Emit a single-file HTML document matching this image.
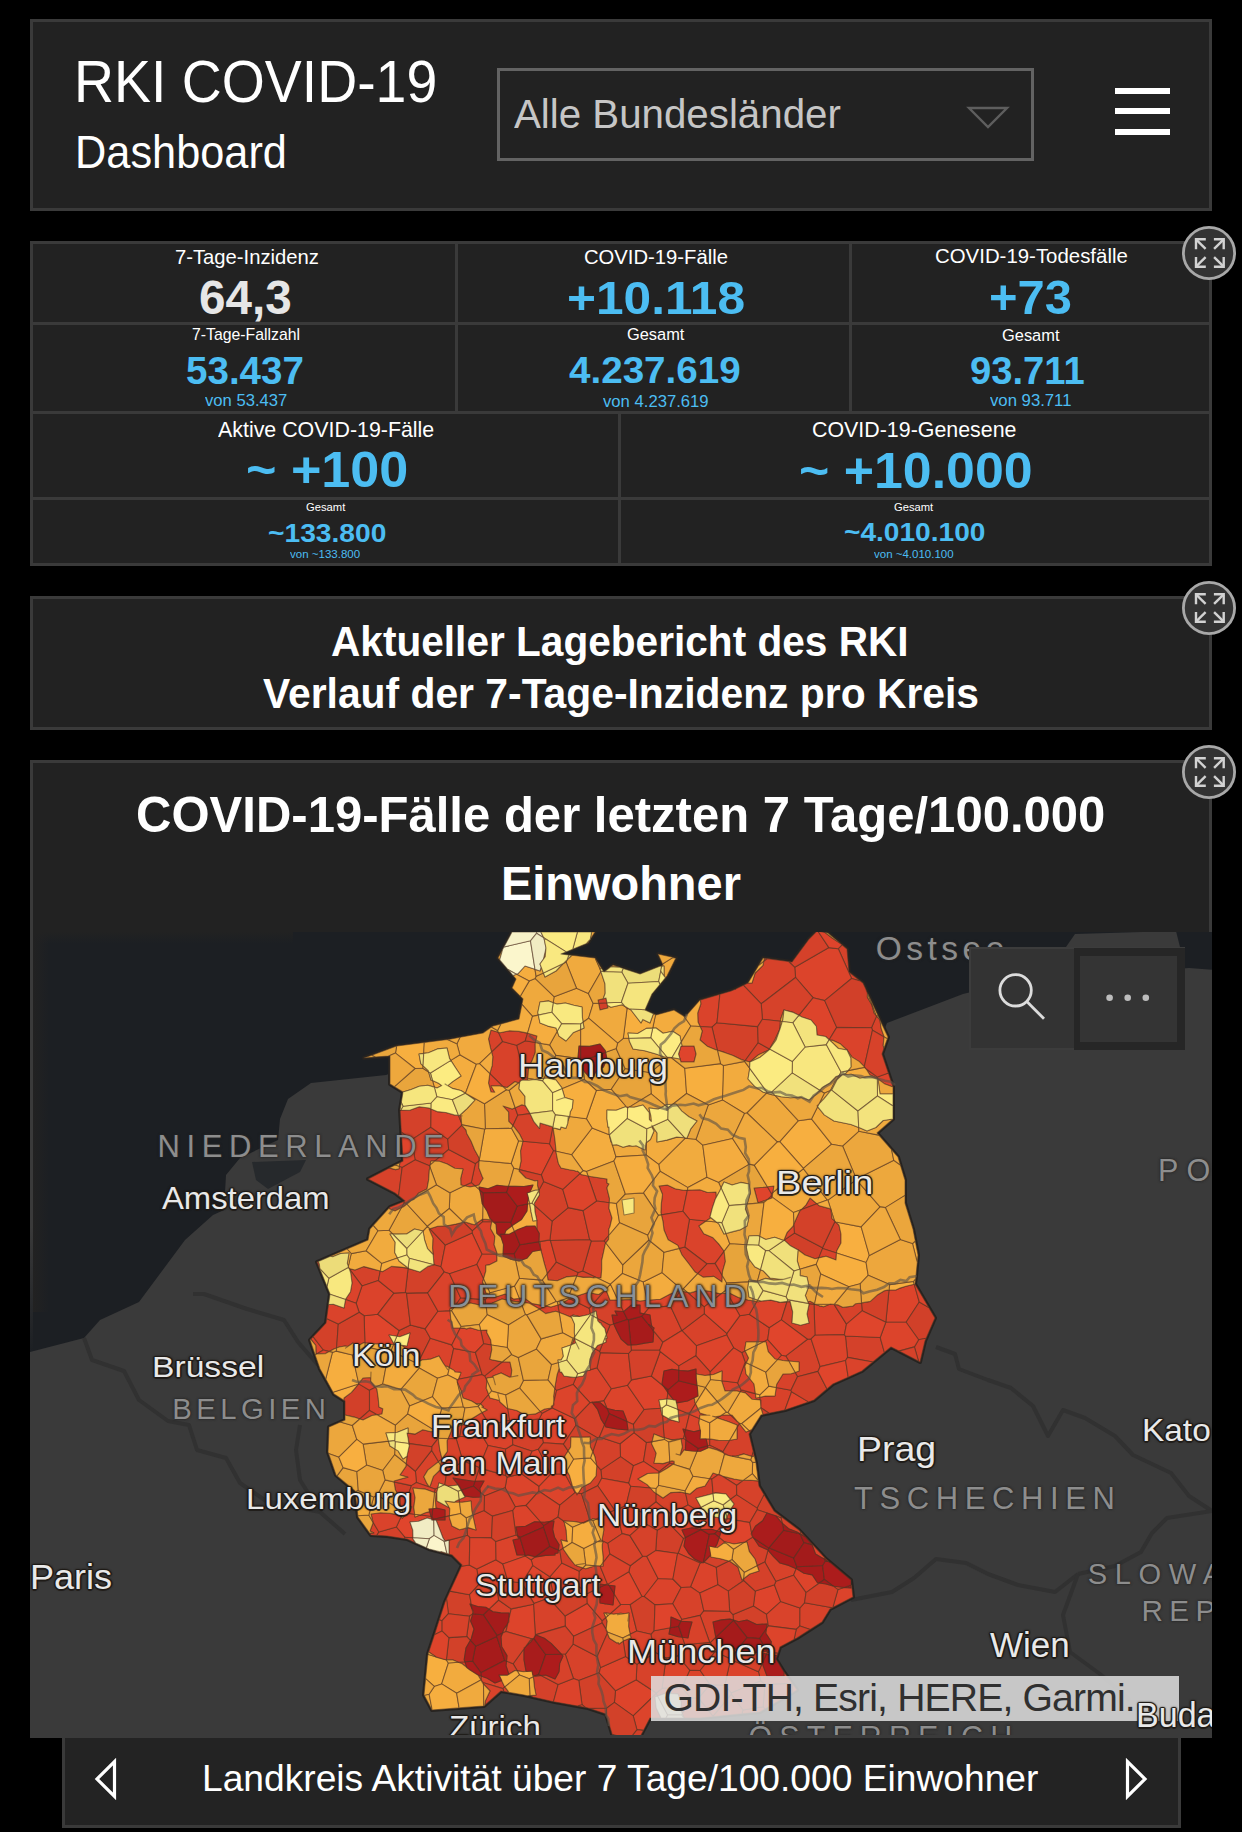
<!DOCTYPE html>
<html><head><meta charset="utf-8"><title>RKI COVID-19 Dashboard</title>
<style>
html,body{margin:0;padding:0;background:#000;}
body{width:1242px;height:1832px;position:relative;overflow:hidden;font-family:"Liberation Sans",sans-serif;}
.card{position:absolute;box-sizing:border-box;background:#222;border:3px solid #3a3a3a;}
.t{position:absolute;white-space:nowrap;line-height:1;transform-origin:0 0;}
.hl{position:absolute;background:#3a3a3a;}
.exp{position:absolute;width:54px;height:54px;}
.lbl{position:absolute;white-space:nowrap;line-height:1;transform-origin:0 0;}
</style></head><body>
<div class="card" style="left:30px;top:19px;width:1182px;height:192px"></div>
<div style="position:absolute;left:497px;top:68px;width:537px;height:93px;box-sizing:border-box;border:3px solid #636363"></div>
<svg style="position:absolute;left:966px;top:105px" width="44" height="26" viewBox="0 0 44 26"><path d="M3 3H41L22 22Z" fill="none" stroke="#5e5e5e" stroke-width="2.4" stroke-linejoin="miter"/></svg>
<div style="position:absolute;left:1115px;top:88px;width:55px;height:6px;background:#fff"></div>
<div style="position:absolute;left:1115px;top:108px;width:55px;height:6px;background:#fff"></div>
<div style="position:absolute;left:1115px;top:129px;width:55px;height:6px;background:#fff"></div>

<div class="card" style="left:30px;top:241px;width:1182px;height:325px"></div>
<div class="hl" style="left:33px;top:322px;width:1176px;height:3px"></div>
<div class="hl" style="left:33px;top:411px;width:1176px;height:3px"></div>
<div class="hl" style="left:33px;top:497px;width:1176px;height:3px"></div>
<div class="hl" style="left:455px;top:244px;width:3px;height:167px"></div>
<div class="hl" style="left:849px;top:244px;width:3px;height:167px"></div>
<div class="hl" style="left:618px;top:414px;width:3px;height:149px"></div>

<div class="card" style="left:30px;top:596px;width:1182px;height:134px"></div>
<div class="card" style="left:30px;top:760px;width:1182px;height:978px"></div>
<div id="map" style="position:absolute;left:30px;top:932px;width:1182px;height:805px;overflow:hidden"><svg width="1182" height="805" viewBox="30 932 1182 805" style="display:block">
<rect x="0" y="900" width="1300" height="900" fill="#3a3a3a"/>
<polygon points="30.0,925.0 1215.0,925.0 1215.0,970.0 1189.0,968.0 1100.0,975.0 1000.0,985.0 963.0,994.0 887.0,1023.0 880.0,1040.0 700.0,1040.0 500.0,1045.0 394.0,1072.0 386.0,1075.0 311.0,1083.0 288.0,1099.0 280.0,1119.0 278.0,1140.0 240.0,1158.0 226.0,1175.0 224.0,1210.0 213.0,1215.0 185.0,1240.0 162.0,1271.0 139.0,1302.0 100.0,1320.0 84.0,1338.0 30.0,1352.0" fill="#1c1f23"/>
<polygon points="1066.0,947.0 1075.0,934.0 1176.0,931.0 1180.0,947.0" fill="#3a3a3a"/>
<polygon points="252.0,1162.0 306.0,1160.0 300.0,1172.0 268.0,1189.0 256.0,1180.0" fill="#26292c"/>
<polyline points="84.0,1338.0 92.0,1360.0 124.0,1371.0 139.0,1400.0 168.0,1421.0 189.0,1425.0 197.0,1450.0 226.0,1458.0 240.0,1483.0 266.0,1501.0 320.0,1512.0 345.0,1534.0" fill="none" stroke="#313131" stroke-width="4" stroke-linejoin="round"/>
<polyline points="193.0,1294.0 204.0,1294.0 247.0,1309.0 284.0,1320.0 298.0,1342.0 318.0,1365.0" fill="none" stroke="#313131" stroke-width="4" stroke-linejoin="round"/>
<polyline points="300.0,1425.0 296.0,1450.0 300.0,1480.0 320.0,1512.0" fill="none" stroke="#313131" stroke-width="4" stroke-linejoin="round"/>
<polyline points="936.0,1347.0 955.0,1354.0 959.0,1369.0 988.0,1380.0 1011.0,1388.0 1033.0,1406.0 1048.0,1436.0 1063.0,1410.0 1085.0,1418.0 1115.0,1436.0 1133.0,1455.0 1171.0,1473.0 1189.0,1496.0 1212.0,1511.0" fill="none" stroke="#313131" stroke-width="4" stroke-linejoin="round"/>
<polyline points="1212.0,1511.0 1167.0,1518.0 1152.0,1533.0 1141.0,1552.0 1115.0,1566.0 1078.0,1574.0" fill="none" stroke="#313131" stroke-width="4" stroke-linejoin="round"/>
<polyline points="851.0,1600.0 892.0,1592.0 914.0,1578.0 936.0,1559.0 966.0,1563.0 988.0,1574.0 1018.0,1585.0 1055.0,1592.0 1078.0,1574.0" fill="none" stroke="#313131" stroke-width="4" stroke-linejoin="round"/>
<polyline points="1078.0,1574.0 1063.0,1615.0 1070.0,1652.0 1100.0,1674.0 1130.0,1700.0" fill="none" stroke="#313131" stroke-width="4" stroke-linejoin="round"/>
<polygon points="512.0,932.0 595.0,932.0 588.0,943.0 561.0,954.0 595.0,958.0 604.0,972.0 613.0,965.0 640.0,974.0 663.0,965.0 658.0,954.0 676.0,958.0 667.0,976.0 652.0,994.0 645.0,1010.0 656.0,1015.0 674.0,1010.0 685.0,1017.0 700.0,1000.0 731.0,991.0 748.0,983.0 763.0,958.0 792.0,962.0 809.0,939.0 817.0,931.0 828.0,933.0 847.0,949.0 849.0,972.0 863.0,983.0 880.0,1020.0 888.0,1037.0 882.0,1054.0 893.0,1087.0 893.0,1119.0 877.0,1133.0 898.0,1157.0 905.0,1180.0 905.0,1203.0 913.0,1229.0 918.0,1255.0 916.0,1276.0 915.0,1284.0 935.0,1318.0 925.0,1341.0 920.0,1362.0 891.0,1347.0 862.0,1371.0 833.0,1384.0 814.0,1400.0 785.0,1410.0 761.0,1415.0 749.0,1434.0 756.0,1463.0 759.0,1486.0 774.0,1511.0 799.0,1530.0 826.0,1559.0 851.0,1580.0 853.0,1597.0 830.0,1609.0 822.0,1622.0 797.0,1638.0 780.0,1647.0 776.0,1659.0 784.0,1672.0 797.0,1690.0 760.0,1712.0 700.0,1718.0 650.0,1718.0 640.0,1737.0 613.0,1737.0 606.0,1714.0 588.0,1708.0 555.0,1702.0 524.0,1695.0 501.0,1691.0 484.0,1706.0 432.0,1710.0 424.0,1695.0 428.0,1654.0 435.0,1633.0 445.0,1602.0 462.0,1565.0 452.0,1555.0 429.0,1549.0 407.0,1539.0 387.0,1536.0 371.0,1535.0 358.0,1517.0 355.0,1491.0 336.0,1475.0 328.0,1452.0 329.0,1427.0 345.0,1420.0 345.0,1401.0 334.0,1394.0 320.0,1369.0 310.0,1340.0 326.0,1323.0 330.0,1294.0 317.0,1262.0 368.0,1240.0 370.0,1229.0 390.0,1207.0 405.0,1201.0 395.0,1193.0 368.0,1179.0 403.0,1161.0 400.0,1110.0 403.0,1092.0 390.0,1084.0 390.0,1056.0 364.0,1058.0 397.0,1046.0 451.0,1039.0 483.0,1033.0 493.0,1026.0 519.0,1019.0 523.0,999.0 512.0,988.0 516.0,979.0 498.0,958.0" fill="#d9432b" stroke="#262320" stroke-width="4" stroke-linejoin="round"/>
<g stroke="#4a3424" stroke-width="1.1" stroke-linejoin="round" stroke-opacity="0.55">
<polygon points="573.1,1384.4 589.9,1402.7 592.3,1402.4 592.0,1402.0 594.0,1402.2 603.9,1400.9 611.4,1388.8 597.0,1367.8 590.0,1369.9 590.0,1370.0 589.5,1370.1 586.6,1370.9 583.0,1376.0 576.2,1377.0" fill="#da432b"/>
<polygon points="576.2,1377.0 583.0,1376.0 586.6,1370.9 577.6,1373.7" fill="#f9e880"/>
<polygon points="885.8,1322.3 906.1,1322.3 919.3,1302.0 914.2,1284.2 905.9,1286.3 900.1,1288.1 895.8,1290.0 889.0,1290.0 885.8,1322.3" fill="#dd442b"/>
<polygon points="913.5,1281.4 889.6,1284.6 889.0,1290.0 895.8,1290.0 900.1,1288.1 905.9,1286.3 914.2,1284.2" fill="#f7af3f"/>
<polygon points="611.4,1388.8 603.9,1400.9 607.0,1408.5 614.8,1410.2 623.0,1411.0 626.6,1420.2 626.8,1421.5 633.4,1424.4 644.2,1409.5 627.5,1385.2" fill="#dc442b"/>
<polygon points="609.2,1413.7 626.8,1421.5 626.6,1420.2 623.0,1411.0 614.8,1410.2 607.0,1408.5" fill="#ac1c1c"/>
<polygon points="399.1,1330.5 396.8,1336.2 399.8,1336.7 410.0,1333.0 407.0,1346.0 401.4,1345.1 410.5,1352.4 419.0,1361.0 430.4,1338.3 425.2,1328.9 410.4,1325.0" fill="#d14029"/>
<polygon points="390.8,1351.1 416.4,1363.2 418.4,1362.0 419.0,1361.0 410.5,1352.4 401.4,1345.1 395.6,1344.3 393.5,1344.4" fill="#efa93d"/>
<polygon points="393.8,1343.6 394.0,1344.0 407.0,1346.0 410.0,1333.0 399.8,1336.7 396.8,1336.2" fill="#fcec81"/>
<polygon points="717.9,1584.7 716.3,1567.3 703.9,1562.1 703.0,1563.0 701.9,1562.5 700.0,1563.1 690.5,1586.7 699.9,1593.1" fill="#db432b"/>
<polygon points="767.3,958.6 764.4,958.2 763.7,961.5" fill="#df442c"/>
<polygon points="763.7,961.5 764.4,958.2 763.0,958.0 758.3,965.9" fill="#e9a53c"/>
<polygon points="717.2,1417.8 718.9,1418.4 728.0,1421.6 737.0,1425.0 737.0,1427.9 739.4,1423.7 739.2,1423.4 737.5,1421.5 730.7,1415.0 724.0,1415.0 720.5,1415.7" fill="#d8422a"/>
<polygon points="709.6,1445.3 723.0,1451.8 729.8,1440.2 727.8,1440.5 718.5,1440.3 709.6,1438.9" fill="#d5412a"/>
<polygon points="726.2,1412.1 720.5,1415.7 724.0,1415.0 730.7,1415.0 727.9,1412.3" fill="#f0aa3e"/>
<polygon points="709.6,1422.7 709.6,1438.9 718.5,1440.3 727.8,1440.5 729.8,1440.2 737.0,1427.9 737.0,1425.0 728.0,1421.6 718.9,1418.4 717.2,1417.8" fill="#f1aa3e"/>
<polygon points="621.7,972.0 628.0,983.3 658.7,981.5 660.7,971.3 661.7,966.2 660.4,966.3 660.4,966.0 640.0,974.0 639.4,973.8 623.2,968.4" fill="#ecdd79"/>
<polygon points="430.9,1127.3 431.1,1108.9 429.0,1108.0 419.2,1106.8 409.7,1110.3 400.8,1110.0 400.1,1111.2 401.3,1132.2 411.8,1139.6" fill="#d4412a"/>
<polygon points="431.2,1103.0 403.0,1106.3 400.8,1110.0 409.7,1110.3 419.2,1106.8 429.0,1108.0 431.1,1108.9" fill="#f1e17c"/>
<polygon points="587.3,1603.3 565.0,1615.9 565.2,1626.1 573.6,1636.3 602.1,1622.9 602.2,1620.7" fill="#df442c"/>
<polygon points="620.0,1443.7 620.5,1456.6 633.5,1465.7 643.5,1461.4 646.5,1442.5 634.0,1432.6" fill="#dd442b"/>
<polygon points="633.5,1465.7 620.5,1456.6 600.8,1469.9 601.8,1478.2 628.8,1483.1" fill="#d34129"/>
<polygon points="586.5,1171.6 613.9,1160.9 616.0,1156.9 612.5,1145.0 612.0,1145.0 611.9,1142.9 611.6,1142.1 611.0,1142.0 609.4,1134.8 592.1,1128.0 571.6,1154.7 583.0,1170.6" fill="#f4ad3f"/>
<polygon points="609.5,1134.9 609.4,1134.8 611.0,1142.0 611.6,1142.1" fill="#eedf7a"/>
<polygon points="515.2,1107.7 512.2,1109.0 503.0,1106.0 508.6,1112.1 508.7,1121.3 512.9,1125.7 517.8,1115.2" fill="#da432b"/>
<polygon points="509.2,1090.3 506.3,1089.8 484.5,1103.8 485.3,1128.7 511.7,1128.4 512.9,1125.7 508.7,1121.3 508.6,1112.1 503.0,1106.0 512.2,1109.0 515.2,1107.7" fill="#e9a53c"/>
<polygon points="784.1,1240.1 790.4,1245.8 798.1,1249.9 805.0,1255.0 815.0,1258.8 818.8,1257.9 822.6,1248.4 822.5,1247.8 794.5,1233.0" fill="#d14029"/>
<polygon points="816.2,1264.4 818.8,1257.9 815.0,1258.8 805.0,1255.0 798.2,1250.0 797.9,1251.5 797.3,1261.0 799.8,1269.3" fill="#f6ae3f"/>
<polygon points="768.8,1250.6 793.9,1271.0 799.8,1269.3 797.3,1261.0 797.9,1251.5 798.2,1250.0 798.1,1249.9 790.4,1245.8 784.2,1240.2 784.0,1240.2" fill="#f0e07b"/>
<polygon points="822.5,1247.8 822.6,1248.4 836.5,1252.9 836.7,1251.1 841.0,1243.0 841.0,1234.0 839.0,1225.1 835.8,1222.0 834.8,1221.8" fill="#d4412a"/>
<polygon points="866.1,1262.6 869.3,1255.4 861.2,1226.9 835.8,1222.0 839.0,1225.1 841.0,1234.0 841.0,1243.0 836.7,1251.1 836.5,1252.9" fill="#f8af40"/>
<polygon points="912.5,1243.6 917.3,1262.5 918.0,1255.0 915.3,1241.0" fill="#f6ae3f"/>
<polygon points="352.4,1425.5 340.3,1422.0 329.0,1427.0 328.0,1452.0 328.5,1453.4 338.9,1457.2 356.8,1439.4" fill="#eca73d"/>
<polygon points="811.5,1118.9 798.3,1120.7 779.7,1141.6 803.4,1168.4 831.6,1144.2" fill="#f7af40"/>
<polygon points="824.3,1093.3 830.5,1090.6 834.8,1081.9 837.2,1079.6 839.3,1075.6 836.1,1076.5 830.0,1083.0 822.1,1087.6 819.6,1090.3" fill="#f0aa3e"/>
<polygon points="805.1,1047.0 792.4,1061.4 792.1,1072.9 819.6,1090.3 822.1,1087.6 830.0,1083.0 836.1,1076.5 839.3,1075.6 841.1,1072.0 826.3,1044.6" fill="#f8e77f"/>
<polygon points="831.8,1090.1 837.2,1079.6 834.8,1081.9 830.5,1090.6" fill="#efe07b"/>
<polygon points="648.5,1308.2 670.4,1305.9 680.3,1290.8 679.3,1290.6 669.7,1294.3 660.3,1299.3 650.0,1300.0 646.9,1300.3" fill="#df452c"/>
<polygon points="643.1,1281.9 646.9,1300.3 650.0,1300.0 660.3,1299.3 669.7,1294.3 679.3,1290.6 680.3,1290.8 681.4,1289.1 662.1,1272.6" fill="#f3ac3e"/>
<polygon points="420.1,1514.9 415.0,1517.0 414.7,1514.2 406.8,1513.1 406.2,1513.9 402.3,1518.2 401.2,1516.6 396.3,1527.0 404.9,1537.3 413.0,1537.8 412.8,1530.3 410.0,1522.0 418.7,1521.3 427.1,1518.0 431.7,1519.1 431.0,1516.3" fill="#e0452c"/>
<polygon points="414.7,1514.2 415.0,1517.0 420.1,1514.9" fill="#f6ae3f"/>
<polygon points="403.1,1512.6 401.2,1516.6 402.3,1518.2 406.2,1513.9 406.8,1513.1" fill="#eca73d"/>
<polygon points="429.3,1538.8 434.1,1535.4 433.8,1520.0 432.0,1520.0 431.7,1519.1 427.1,1518.0 418.7,1521.3 410.0,1522.0 412.8,1530.3 413.0,1537.8" fill="#f1ecc4"/>
<polygon points="431.0,1516.3 432.0,1520.0 433.8,1520.0 433.8,1519.2 431.8,1516.4" fill="#a41b1b"/>
<polygon points="363.1,1444.1 366.5,1465.1 382.7,1470.5 394.8,1454.5 395.1,1449.1 390.0,1446.0 388.5,1441.1" fill="#eaa53c"/>
<polygon points="394.7,1440.4 388.5,1441.1 390.0,1446.0 395.1,1449.1 395.4,1441.7" fill="#edde7a"/>
<polygon points="378.4,1280.5 380.3,1271.0 373.2,1269.1 363.9,1266.6 355.0,1270.0 349.2,1268.6 349.3,1268.9 362.0,1285.9" fill="#d5422a"/>
<polygon points="381.8,1263.4 366.2,1250.8 351.2,1253.6 348.3,1266.3 349.2,1268.6 355.0,1270.0 363.9,1266.6 373.2,1269.1 380.3,1271.0" fill="#f1ab3e"/>
<polygon points="447.8,1139.1 430.9,1127.3 411.8,1139.6 415.0,1159.7 429.4,1165.7 430.3,1164.9 431.0,1161.0 434.8,1161.1 448.7,1149.5" fill="#d14029"/>
<polygon points="434.8,1161.1 431.0,1161.0 430.3,1164.9" fill="#f2ac3e"/>
<polygon points="475.5,1646.2 472.5,1661.1 480.9,1672.7 504.7,1660.4 496.7,1636.4" fill="#a61b1b"/>
<polygon points="441.0,1266.7 445.3,1245.1 429.8,1228.7 429.0,1229.0 432.9,1238.1 432.5,1247.9 433.4,1257.4 433.9,1264.8" fill="#d6422a"/>
<polygon points="427.5,1226.3 427.4,1226.3 423.0,1231.0 423.0,1231.0 424.6,1240.0 427.5,1248.6 433.1,1254.5 432.5,1247.9 432.9,1238.1 429.0,1229.0 429.8,1228.7" fill="#f5ad3f"/>
<polygon points="406.8,1255.0 409.2,1258.3 433.9,1264.8 433.4,1257.4 433.1,1254.5 427.5,1248.6 424.6,1240.0 423.0,1231.0 423.0,1231.0 406.7,1248.5" fill="#f4e47d"/>
<polygon points="771.4,1193.5 771.1,1196.3 772.1,1197.1 773.0,1192.2" fill="#d6422a"/>
<polygon points="817.0,1203.8 810.0,1198.0 805.9,1205.1 801.0,1209.8" fill="#d8422a"/>
<polygon points="803.4,1168.7 773.0,1192.2 772.1,1197.1 793.5,1212.6 801.0,1209.8 805.9,1205.1 810.0,1198.0 817.0,1203.8 827.3,1200.0" fill="#f3ac3e"/>
<polygon points="369.5,1390.2 358.8,1383.9 358.4,1384.0 357.4,1385.3 351.4,1392.4 344.0,1398.0 343.8,1400.2 345.0,1401.0 345.0,1415.0 354.1,1417.1 359.8,1419.0 369.5,1410.4" fill="#d24029"/>
<polygon points="333.0,1392.2 334.0,1394.0 343.8,1400.2 344.0,1398.0 351.4,1392.4 357.4,1385.3 358.4,1384.0" fill="#f7af40"/>
<polygon points="352.4,1425.5 359.8,1419.0 354.1,1417.1 345.0,1415.0 345.0,1420.0 340.3,1422.0" fill="#e7a43b"/>
<polygon points="438.5,1438.3 439.0,1430.0 435.3,1430.8 438.4,1438.2" fill="#dc442b"/>
<polygon points="456.2,1438.8 459.9,1436.3 461.9,1424.9 455.0,1427.0 452.0,1426.8 451.0,1431.8 448.1,1438.6" fill="#de442c"/>
<polygon points="448.1,1438.6 451.0,1431.8 452.0,1426.8 455.0,1427.0 461.9,1424.9 465.0,1408.0 463.3,1406.7 441.8,1408.1 435.2,1430.6 435.3,1430.8 439.0,1430.0 438.5,1438.3" fill="#e7a43b"/>
<polygon points="520.7,1302.3 529.4,1303.3 537.7,1307.9 539.6,1309.2 546.3,1306.1 541.7,1305.2 532.3,1303.6 523.8,1297.7 519.2,1298.4" fill="#dd442b"/>
<polygon points="519.2,1298.4 523.8,1297.7 532.3,1303.6 541.7,1305.2 546.3,1306.1 556.3,1301.5 542.4,1280.1 519.3,1278.2 514.4,1286.1" fill="#eda83d"/>
<polygon points="525.4,1314.6 526.9,1315.1 539.6,1309.2 537.7,1307.9 529.4,1303.3 520.7,1302.3" fill="#f1aa3e"/>
<polygon points="926.2,1338.3 935.0,1318.0 928.8,1307.5 919.3,1302.0 906.1,1322.3 918.6,1339.7" fill="#d14029"/>
<polygon points="654.1,1630.7 650.8,1634.3 655.2,1652.6 666.0,1658.1 677.9,1656.0 685.0,1644.8 682.5,1637.3 678.3,1636.7 669.0,1634.0 670.2,1627.7" fill="#d24029"/>
<polygon points="670.2,1627.7 669.0,1634.0 678.3,1636.7 682.5,1637.3 678.7,1626.2" fill="#a41b1b"/>
<polygon points="423.1,1065.8 420.8,1063.7 419.0,1054.0 423.7,1053.4 424.3,1042.5 397.0,1046.0 396.6,1046.1 395.5,1053.1 415.0,1068.5 422.9,1068.3" fill="#f7af3f"/>
<polygon points="423.7,1053.4 419.0,1054.0 420.8,1063.7 423.1,1065.8" fill="#efe07b"/>
<polygon points="465.5,1093.3 476.4,1064.2 459.9,1054.8 450.8,1060.4 455.2,1067.2 461.0,1076.0 452.7,1081.6 447.8,1085.7 452.3,1088.4 460.8,1090.5 465.4,1093.3" fill="#f4ad3f"/>
<polygon points="434.3,1087.1 437.0,1088.0 441.8,1085.6 438.5,1083.2 432.5,1080.6" fill="#f7af3f"/>
<polygon points="465.4,1093.3 460.8,1090.5 452.3,1088.4 445.0,1084.0 447.8,1085.7 452.7,1081.6 461.0,1076.0 455.2,1067.2 450.8,1060.4 430.4,1073.0 432.5,1080.6 438.5,1083.2 441.8,1085.6 437.0,1088.0 434.3,1087.1 436.9,1096.8 452.4,1099.7" fill="#fcec81"/>
<polygon points="763.1,1706.8 764.8,1709.1 792.5,1692.7 792.8,1685.0 791.7,1683.2 764.8,1684.4" fill="#d6422a"/>
<polygon points="429.1,1694.2 424.2,1695.3 432.0,1710.0 432.2,1710.0" fill="#eda83d"/>
<polygon points="588.6,1018.2 593.2,1003.4 588.4,993.6 576.5,988.3 554.1,996.7 553.2,1002.7 556.8,1004.1 565.4,1003.0 573.7,1005.3 582.0,1007.0 582.4,1017.6 583.1,1022.2" fill="#f0aa3e"/>
<polygon points="580.7,1024.0 583.1,1022.2 582.4,1017.6 582.0,1007.0 573.7,1005.3 565.4,1003.0 556.8,1004.1 553.2,1002.7 551.8,1012.3 561.6,1023.6" fill="#f9e980"/>
<polygon points="434.5,1492.5 436.0,1493.0 435.4,1501.5 435.9,1508.4 437.1,1508.3 445.0,1510.0 445.0,1516.9 449.5,1515.9 449.8,1508.6 448.5,1506.6 448.0,1507.0 437.0,1501.0 436.9,1491.9 437.9,1487.7 434.9,1489.1" fill="#d34129"/>
<polygon points="459.3,1499.6 455.9,1501.0 454.5,1502.1 459.6,1502.2" fill="#dc442b"/>
<polygon points="432.7,1508.7 435.9,1508.4 435.4,1501.5 436.0,1493.0 434.5,1492.5" fill="#f4ad3f"/>
<polygon points="460.9,1513.5 459.6,1502.2 453.7,1502.1 445.0,1501.0 449.8,1508.6 449.5,1515.9" fill="#f6ae3f"/>
<polygon points="458.3,1491.3 448.6,1486.3 448.3,1486.3 444.0,1484.8 437.9,1487.7 436.9,1491.9 437.0,1501.0 448.0,1507.0 448.5,1506.6 445.0,1501.0 453.7,1502.1 454.5,1502.1 455.9,1501.0 459.3,1499.6" fill="#eddd79"/>
<polygon points="431.8,1516.4 433.8,1519.2 445.0,1516.9 445.0,1510.0 437.1,1508.3 432.7,1508.7" fill="#ad1c1c"/>
<polygon points="472.0,1608.6 470.0,1604.0 471.3,1604.4 469.6,1594.7 450.0,1591.1 446.5,1598.7 448.4,1613.7 469.5,1616.3 472.9,1613.7" fill="#d24129"/>
<polygon points="471.3,1604.4 470.0,1604.0 472.0,1608.6" fill="#a61b1b"/>
<polygon points="687.9,1187.6 707.0,1177.2 702.8,1145.2 696.0,1139.3 685.2,1138.2 658.7,1164.4 660.0,1171.2" fill="#f1ab3e"/>
<polygon points="877.3,1076.9 877.3,1078.6 878.0,1079.0 884.9,1084.1 893.0,1087.0 888.4,1073.1" fill="#df442c"/>
<polygon points="880.0,1094.0 893.0,1094.0 893.0,1087.0 884.9,1084.1 878.0,1079.0" fill="#eda83d"/>
<polygon points="877.5,1096.0 893.0,1106.0 893.0,1094.0 880.0,1094.0 878.0,1079.0 877.3,1078.8" fill="#fceb81"/>
<polygon points="566.1,962.1 576.5,988.3 588.4,993.6 600.9,971.7 600.0,969.0 600.1,969.0 595.6,959.0 595.0,958.0 571.9,955.3 571.0,956.0 567.0,959.9" fill="#f0aa3e"/>
<polygon points="567.0,959.9 571.0,956.0 571.9,955.3 568.8,954.9" fill="#f1e17c"/>
<polygon points="401.3,1207.8 403.6,1206.7 406.9,1204.0 406.1,1203.1 404.1,1202.7" fill="#d6422a"/>
<polygon points="389.0,1230.3 392.6,1234.0 398.3,1234.1 406.6,1234.0 414.5,1229.0 423.0,1231.0 427.4,1226.3 406.9,1204.0 403.6,1206.7 401.3,1207.8" fill="#eaa63c"/>
<polygon points="406.7,1248.5 423.0,1231.0 414.5,1229.0 406.6,1234.0 398.3,1234.1 392.6,1234.0" fill="#edde7a"/>
<polygon points="667.7,1058.0 671.8,1058.0 672.1,1057.5 672.0,1057.5 666.8,1057.0" fill="#eaa53c"/>
<polygon points="690.9,1026.0 684.0,1016.3 674.0,1010.0 656.0,1015.0 655.5,1014.8 652.7,1028.1 656.0,1028.0 663.1,1033.3 672.7,1031.2 680.0,1036.0 681.2,1042.1" fill="#f3ac3e"/>
<polygon points="666.8,1057.0 672.0,1057.5 672.1,1057.5 681.2,1042.1 680.0,1036.0 672.7,1031.2 663.1,1033.3 656.0,1028.0 652.7,1028.1 650.7,1037.6" fill="#fdec82"/>
<polygon points="525.6,1646.6 530.7,1642.2 533.7,1638.2 531.4,1638.7" fill="#d34129"/>
<polygon points="513.1,1663.7 517.3,1670.9 523.7,1671.8 526.9,1671.5 526.0,1671.0 524.0,1659.6 524.0,1648.8" fill="#d24029"/>
<polygon points="519.5,1674.9 529.2,1678.8 533.2,1676.9 532.0,1671.0 523.7,1671.8 517.3,1670.9" fill="#f8af40"/>
<polygon points="524.0,1648.8 524.0,1659.6 526.0,1671.0 526.9,1671.5 532.0,1671.0 532.8,1674.9 534.9,1676.1 538.8,1674.3 545.7,1654.5 533.7,1638.2 533.7,1638.2 530.7,1642.2 525.6,1646.6" fill="#a81c1c"/>
<polygon points="760.0,1397.2 756.0,1398.0 755.4,1393.6 741.2,1389.9 740.1,1391.7 745.4,1392.9 752.1,1399.3 760.3,1399.9" fill="#d7422a"/>
<polygon points="737.5,1421.5 732.0,1415.0 730.7,1415.0" fill="#d5412a"/>
<polygon points="761.0,1408.0 761.0,1406.8 760.3,1399.9 752.1,1399.3 745.4,1392.9 740.1,1391.7 727.9,1412.3 730.7,1415.0 732.0,1415.0 737.5,1421.5 739.6,1423.4 741.6,1423.7" fill="#f1ab3e"/>
<polygon points="759.8,1394.8 755.4,1393.6 756.0,1398.0 760.0,1397.2" fill="#f5ad3f"/>
<polygon points="763.1,1706.8 742.9,1710.0 741.9,1713.8 760.0,1712.0 764.8,1709.1" fill="#d8422a"/>
<polygon points="607.7,1543.4 622.2,1533.6 616.2,1510.3 614.4,1509.9 595.7,1519.3 603.0,1521.0 603.8,1530.0 602.2,1539.0 602.2,1540.8" fill="#d7422a"/>
<polygon points="602.2,1540.8 602.2,1539.0 603.8,1530.0 603.0,1521.0 595.7,1519.3 592.7,1520.8 600.6,1540.0" fill="#e8a43c"/>
<polygon points="332.4,1352.4 325.7,1379.1 333.0,1392.2 358.4,1384.0 358.7,1383.5 352.4,1355.0 336.4,1351.1" fill="#f6ae3f"/>
<polygon points="766.4,1654.1 771.3,1655.6 777.3,1655.2 778.0,1653.0 767.3,1652.1" fill="#d14029"/>
<polygon points="758.4,1671.7 760.7,1680.9 764.8,1684.4 791.7,1683.2 791.8,1682.8 784.0,1672.0 784.0,1672.0 784.0,1676.0 775.5,1676.8 767.0,1676.0 762.8,1664.9 762.8,1661.9" fill="#d8422a"/>
<polygon points="762.8,1661.9 762.8,1664.9 767.0,1676.0 775.5,1676.8 784.0,1676.0 784.0,1672.0 776.0,1659.0 777.3,1655.2 771.3,1655.6 766.4,1654.1" fill="#ab1c1c"/>
<polygon points="757.1,1507.9 757.2,1509.7 767.0,1513.0 767.0,1513.0 775.7,1515.8 776.0,1516.1 781.0,1517.9 781.8,1517.0 774.0,1511.0 764.0,1494.4" fill="#d34129"/>
<polygon points="521.6,1473.8 507.0,1477.1 505.1,1487.8 515.2,1506.7 526.1,1505.4 539.0,1491.2 539.0,1486.2" fill="#dc442b"/>
<polygon points="552.5,1591.5 578.9,1586.2 579.3,1571.2 561.8,1563.0 549.9,1576.7" fill="#df452c"/>
<polygon points="706.8,1263.8 715.2,1263.4 724.1,1251.4 724.0,1251.0 718.7,1243.8 712.6,1237.4 703.8,1233.7 699.0,1226.0 706.2,1221.0 689.4,1219.3 684.7,1247.0" fill="#da432b"/>
<polygon points="729.8,1243.8 726.0,1233.5 724.0,1234.0 718.9,1223.9 716.4,1222.0 706.2,1221.0 699.0,1226.0 703.8,1233.7 712.6,1237.4 718.7,1243.8 724.0,1251.0 724.1,1251.4" fill="#f4ad3f"/>
<polygon points="721.9,1222.6 716.4,1222.0 718.9,1223.9 724.0,1234.0 726.0,1233.5" fill="#eede7a"/>
<polygon points="664.1,1437.8 671.5,1439.9 681.0,1439.0 681.0,1439.0 683.6,1438.4 684.6,1434.2 683.0,1429.0 685.7,1429.7 689.5,1414.2 689.3,1413.9 677.7,1409.3 678.1,1410.9 679.0,1422.0 670.0,1419.6 662.5,1415.3" fill="#d8422a"/>
<polygon points="664.2,1439.4 668.8,1442.1 681.0,1439.0 681.0,1439.0 671.5,1439.9 664.1,1437.8" fill="#eaa53c"/>
<polygon points="662.5,1415.3 670.0,1419.6 679.0,1422.0 678.1,1410.9 677.7,1409.3 666.4,1404.8 662.0,1408.1" fill="#faea81"/>
<polygon points="685.7,1429.7 683.0,1429.0 684.6,1434.2" fill="#a51b1b"/>
<polygon points="769.0,1413.3 784.9,1410.0 791.6,1391.8 791.0,1390.2 776.2,1387.5 775.0,1396.0 765.4,1396.1 760.0,1397.2 760.3,1399.9 761.0,1400.0 761.0,1406.8 761.1,1407.9" fill="#d8422a"/>
<polygon points="768.8,1386.1 759.8,1394.8 760.0,1397.2 765.4,1396.1 775.0,1396.0 776.2,1387.5" fill="#f8af40"/>
<polygon points="592.1,1128.0 609.4,1134.8 609.2,1134.2 609.1,1130.2 609.0,1130.0 609.1,1130.0 609.0,1127.0 608.0,1127.3 607.1,1119.9 606.9,1118.9 607.0,1110.0 616.2,1110.2 624.9,1107.0 626.6,1107.0 611.3,1089.2 596.3,1090.5 586.4,1118.8" fill="#f5ae3f"/>
<polygon points="609.5,1134.9 615.8,1129.1 627.4,1118.4 627.6,1108.2 626.6,1107.0 624.9,1107.0 616.2,1110.2 607.0,1110.0 606.9,1118.9 607.1,1119.9 608.0,1127.3 609.0,1127.0 609.1,1130.0 609.0,1130.0 609.1,1130.2 609.2,1134.2 609.4,1134.8" fill="#fdec82"/>
<polygon points="726.7,1334.9 733.7,1347.9 741.8,1352.8 745.2,1351.1 744.7,1350.0 746.0,1342.0 756.0,1341.8 763.4,1342.0 767.7,1339.8 769.4,1327.7 749.3,1314.3 739.8,1315.7 726.8,1333.3" fill="#d8422a"/>
<polygon points="763.4,1342.0 756.0,1341.8 746.0,1342.0 744.7,1350.0 745.2,1351.1" fill="#efa93d"/>
<polygon points="689.8,1670.1 681.7,1687.7 691.1,1698.3 698.7,1698.1 710.1,1684.6 700.2,1670.5" fill="#dc442b"/>
<polygon points="505.6,1475.4 479.3,1467.9 474.9,1481.3 484.0,1481.0 479.9,1488.5 480.4,1492.4 484.4,1495.9 505.1,1487.8 507.0,1477.1" fill="#d8422a"/>
<polygon points="473.3,1486.2 480.4,1492.4 479.9,1488.5 484.0,1481.0 474.9,1481.3" fill="#a51b1b"/>
<polygon points="578.8,1680.6 599.2,1672.8 600.6,1667.4 597.2,1656.5 573.2,1644.0 565.3,1654.3 573.4,1678.5" fill="#d7422a"/>
<polygon points="427.7,1292.9 444.3,1271.9 441.0,1266.7 433.9,1264.8 433.9,1264.8 427.8,1266.4 420.0,1272.0 408.5,1268.4 408.2,1268.1 408.1,1268.1 405.3,1292.4 406.6,1293.4" fill="#d34129"/>
<polygon points="409.2,1258.3 408.1,1268.0 408.5,1268.4 420.0,1272.0 427.8,1266.4 433.9,1264.8 433.9,1264.8" fill="#f2e37c"/>
<polygon points="364.9,1343.0 372.4,1343.6 381.7,1344.2 390.8,1344.5 393.5,1344.4 393.8,1343.6 389.0,1335.0 396.8,1336.2 399.1,1330.5 377.8,1314.2 364.1,1315.8" fill="#e0452c"/>
<polygon points="365.0,1346.6 388.7,1352.2 390.8,1351.1 393.5,1344.4 390.8,1344.5 381.7,1344.2 372.4,1343.6 364.9,1343.0" fill="#f7af3f"/>
<polygon points="396.8,1336.2 389.0,1335.0 393.8,1343.6" fill="#f7e77f"/>
<polygon points="726.7,1334.9 726.8,1333.3 704.3,1313.6 681.9,1330.6 696.5,1345.8" fill="#d8422a"/>
<polygon points="498.6,1600.0 489.0,1609.2 492.9,1611.7 500.8,1612.9 509.0,1613.0 509.0,1618.7 511.2,1608.9" fill="#d6422a"/>
<polygon points="506.0,1631.5 507.9,1623.4 503.8,1629.1 502.4,1633.2" fill="#d24129"/>
<polygon points="483.2,1614.8 497.1,1635.6 502.4,1633.2 503.8,1629.1 507.9,1623.4 509.0,1618.7 509.0,1613.0 500.8,1612.9 492.9,1611.7 489.0,1609.2" fill="#a51b1b"/>
<polygon points="919.3,1302.0 928.8,1307.5 915.0,1284.0 914.2,1284.2" fill="#dd442b"/>
<polygon points="914.2,1284.2 915.0,1284.0 915.0,1283.1 915.1,1283.1 915.7,1278.6 913.5,1281.4" fill="#f6ae3f"/>
<polygon points="860.4,981.0 849.0,972.0 847.0,949.0 842.0,944.8 838.3,948.7 851.6,978.5" fill="#d6422a"/>
<polygon points="502.9,1564.0 495.8,1559.7 476.7,1569.0 479.5,1583.9 497.3,1593.2 507.8,1581.0" fill="#dd442b"/>
<polygon points="586.1,943.8 588.0,943.0 595.0,932.0 591.6,932.0 590.3,939.2" fill="#f4ad3f"/>
<polygon points="572.7,949.3 586.1,943.8 590.3,939.2 591.6,932.0 577.4,932.0" fill="#f8e87f"/>
<polygon points="842.7,1146.2 858.9,1131.3 858.7,1127.4 851.0,1124.5 842.5,1122.8 834.0,1121.0 824.3,1114.9 817.6,1106.7 811.5,1118.9 831.6,1144.2" fill="#f2ab3e"/>
<polygon points="824.3,1093.3 819.0,1103.9 823.9,1098.8 830.3,1091.1 830.5,1090.6" fill="#f4ad3f"/>
<polygon points="858.0,1111.0 831.8,1090.1 830.5,1090.6 830.3,1091.1 823.9,1098.8 819.0,1103.9 817.6,1106.7 824.3,1114.9 834.0,1121.0 842.5,1122.8 851.0,1124.5 858.7,1127.4" fill="#f2e27c"/>
<polygon points="704.2,1306.9 721.7,1293.5 719.3,1293.6 709.8,1291.2 700.0,1290.0 690.2,1292.9 687.1,1292.2" fill="#dc432b"/>
<polygon points="715.2,1263.4 706.8,1263.8 697.5,1273.6 703.3,1277.2 713.8,1276.4 722.0,1282.0 722.3,1275.5" fill="#d5412a"/>
<polygon points="687.1,1292.2 690.2,1292.9 700.0,1290.0 709.8,1291.2 719.3,1293.6 721.7,1293.5 725.7,1290.5 726.7,1283.0 722.3,1275.5 722.0,1282.0 713.8,1276.4 703.3,1277.2 697.5,1273.6 683.1,1288.8" fill="#efa93d"/>
<polygon points="711.9,1479.1 718.2,1474.7 713.0,1473.0 709.5,1478.7" fill="#dd442b"/>
<polygon points="723.0,1451.8 709.6,1445.3 707.5,1445.9 707.6,1448.1 708.8,1447.6 717.0,1450.0 723.8,1453.1" fill="#db432b"/>
<polygon points="692.8,1476.3 709.5,1478.7 713.0,1473.0 718.2,1474.7 719.1,1474.1 724.5,1454.5 723.8,1453.1 717.0,1450.0 708.8,1447.6 700.5,1451.3 697.0,1451.2 689.6,1469.4" fill="#eca73d"/>
<polygon points="698.2,1448.2 697.0,1451.2 700.5,1451.3 707.6,1448.1 707.5,1445.9" fill="#ad1c1c"/>
<polygon points="744.6,1113.5 747.0,1113.0 766.7,1093.1 763.0,1092.0 754.7,1086.4 748.0,1079.0 749.4,1070.5 749.6,1068.1 744.6,1061.4 723.4,1065.5 722.4,1099.9" fill="#f2ab3e"/>
<polygon points="767.3,1092.4 749.6,1068.1 749.4,1070.5 748.0,1079.0 754.7,1086.4 763.0,1092.0 766.7,1093.1" fill="#f6e67e"/>
<polygon points="584.3,1079.4 596.3,1090.5 611.3,1089.2 625.2,1068.8 616.2,1048.5 605.6,1052.3 607.0,1059.0 603.4,1067.0 595.6,1072.0 592.0,1080.0 583.4,1070.6" fill="#e7a43b"/>
<polygon points="583.4,1070.6 592.0,1080.0 595.6,1072.0 603.4,1067.0 607.0,1059.0 605.6,1052.3 582.5,1060.7" fill="#a81c1c"/>
<polygon points="482.8,1221.7 482.8,1219.0 482.7,1219.0 474.3,1224.8 464.7,1221.9 463.4,1222.2 472.3,1230.9" fill="#d5412a"/>
<polygon points="471.3,1182.4 464.3,1185.8 470.0,1187.0 475.2,1185.9" fill="#db432b"/>
<polygon points="483.1,1205.0 482.2,1203.7 480.9,1195.2 479.7,1189.8 475.2,1185.9 470.0,1187.0 464.3,1185.8 449.9,1192.8 449.3,1208.5 463.4,1222.2 464.7,1221.9 474.3,1224.8 482.7,1219.0 482.8,1219.0" fill="#efa93d"/>
<polygon points="483.3,1193.0 479.7,1189.8 480.9,1195.2 482.2,1203.7 483.1,1205.0" fill="#ab1c1c"/>
<polygon points="683.5,1538.3 678.1,1553.2 700.0,1563.1 701.9,1562.5 694.9,1559.3 688.7,1553.5 684.0,1546.0 685.5,1537.7 685.4,1537.4" fill="#db432b"/>
<polygon points="700.9,1529.6 685.4,1537.4 685.5,1537.7 684.0,1546.0 688.7,1553.5 694.9,1559.3 701.9,1562.5 703.6,1561.9 709.4,1534.4" fill="#ab1c1c"/>
<polygon points="871.7,1004.4 871.8,1004.6 871.9,1005.0 875.8,1015.0 876.8,1016.2 878.1,1015.8 867.5,992.8 867.5,993.5" fill="#eda83d"/>
<polygon points="377.8,1314.2 394.0,1293.1 378.4,1280.5 362.0,1285.9 356.1,1303.3 359.1,1312.2 364.1,1315.8" fill="#db432b"/>
<polygon points="554.8,1388.2 553.6,1396.6 553.7,1397.0 553.9,1402.1 556.6,1390.5" fill="#dc442b"/>
<polygon points="542.0,1413.6 552.5,1407.9 553.1,1405.4 551.4,1406.1 551.0,1408.0 544.9,1409.0 544.6,1409.1 540.1,1411.5" fill="#dd442b"/>
<polygon points="548.1,1379.8 523.4,1380.4 519.6,1388.1 540.1,1411.5 544.6,1409.1 544.9,1409.0 551.0,1408.0 551.4,1406.1 553.1,1405.4 553.9,1402.1 553.7,1397.0 553.6,1396.6 554.8,1388.2" fill="#eda83d"/>
<polygon points="753.4,1606.0 766.5,1614.4 780.7,1601.6 774.4,1584.8 755.3,1591.1" fill="#de442c"/>
<polygon points="696.0,1509.7 700.8,1529.4 701.6,1529.5 711.4,1529.3 717.3,1531.0 727.7,1518.8 727.0,1516.7 726.0,1519.0 715.0,1517.0 703.0,1511.0 701.0,1507.2" fill="#de442c"/>
<polygon points="713.8,1500.8 701.0,1507.2 703.0,1511.0 715.0,1517.0 726.0,1519.0 727.0,1516.7 723.1,1504.7" fill="#f8e87f"/>
<polygon points="700.9,1529.6 709.4,1534.4 714.8,1533.9 717.3,1531.0 711.4,1529.3 701.6,1529.5 700.8,1529.4" fill="#ad1c1c"/>
<polygon points="434.3,1686.4 441.7,1683.9 448.4,1663.0 446.3,1660.0 444.7,1659.5 444.4,1659.5 436.2,1657.1 435.7,1656.8 428.4,1654.5 427.9,1655.0 425.6,1678.6" fill="#f7af3f"/>
<polygon points="641.9,1596.4 644.1,1596.5 658.1,1578.5 646.7,1556.3 642.7,1556.2 630.2,1565.7 628.8,1571.8" fill="#d9432b"/>
<polygon points="502.9,1688.6 504.9,1686.9 504.0,1685.6 501.6,1680.6 495.0,1683.0 486.5,1677.9 481.0,1676.0 481.1,1680.0 483.5,1682.8" fill="#d9432b"/>
<polygon points="513.1,1663.7 506.5,1661.1 506.0,1665.7 508.8,1674.3 515.2,1670.6 517.3,1670.9" fill="#d34129"/>
<polygon points="519.5,1674.9 517.3,1670.9 515.2,1670.6 507.4,1675.1 499.0,1675.0 504.0,1685.6 504.9,1686.9" fill="#f5ae3f"/>
<polygon points="504.7,1660.4 480.9,1672.7 481.0,1676.0 486.5,1677.9 495.0,1683.0 501.6,1680.6 499.0,1675.0 507.4,1675.1 508.8,1674.3 506.0,1665.7 506.5,1661.1" fill="#ad1c1c"/>
<polygon points="830.7,1208.9 831.0,1209.0 831.1,1210.3 834.4,1220.6 835.8,1222.0 861.2,1226.9 880.1,1206.9 856.3,1179.7 827.9,1200.1" fill="#efa93d"/>
<polygon points="362.0,1285.9 349.3,1268.9 350.7,1273.0 352.0,1283.0 350.5,1291.7 345.5,1299.3 345.5,1299.6 356.1,1303.3" fill="#db432b"/>
<polygon points="348.1,1267.4 328.8,1278.3 327.0,1286.6 330.0,1294.0 330.0,1294.3 345.5,1299.6 345.5,1299.3 350.5,1291.7 352.0,1283.0 350.7,1273.0 349.3,1268.9" fill="#f8e87f"/>
<polygon points="813.0,997.7 824.7,1000.6 851.6,978.5 838.3,948.7 828.9,947.6 794.7,967.3 795.6,977.5" fill="#dc442b"/>
<polygon points="396.6,1046.1 371.7,1055.2 375.2,1057.1 388.8,1056.1 395.5,1053.1" fill="#eaa63c"/>
<polygon points="622.2,1533.6 629.9,1535.6 644.0,1522.9 642.4,1512.5 626.2,1504.9 616.2,1510.3" fill="#dd442b"/>
<polygon points="453.7,1348.4 451.8,1344.9 430.4,1338.3 419.0,1361.0 419.5,1361.5 422.0,1360.0 430.8,1359.1 439.0,1356.0 443.1,1363.0 445.6,1366.5 447.0,1366.3 449.4,1367.7" fill="#da432b"/>
<polygon points="447.8,1374.9 449.4,1367.7 447.0,1366.3 445.6,1366.5 447.7,1369.6 443.1,1363.0 439.0,1356.0 430.8,1359.1 422.0,1360.0 418.4,1362.0 417.6,1363.7 419.2,1367.9 437.5,1378.3" fill="#f2ab3e"/>
<polygon points="469.8,1537.5 491.6,1537.9 492.5,1516.1 484.0,1510.5 472.8,1515.1 473.9,1520.4 476.0,1530.0 468.2,1527.6 466.9,1527.9 467.4,1535.3" fill="#d7422a"/>
<polygon points="466.2,1517.8 466.9,1527.9 468.2,1527.6 476.0,1530.0 473.9,1520.4 472.8,1515.1" fill="#f2ab3e"/>
<polygon points="710.2,1371.9 733.7,1347.9 726.7,1334.9 696.5,1345.8 695.8,1355.8" fill="#dd442b"/>
<polygon points="482.8,1221.7 472.3,1230.9 472.0,1232.9 482.0,1254.3 496.9,1254.2 496.9,1252.7 494.1,1244.7 494.9,1236.3 490.5,1228.5 491.7,1221.8" fill="#db432b"/>
<polygon points="512.1,1225.7 505.9,1230.5 504.6,1234.1 509.3,1234.3 514.5,1231.4" fill="#f3ac3e"/>
<polygon points="491.7,1221.8 490.5,1228.5 494.9,1236.3 494.1,1244.7 496.9,1252.7 496.9,1254.2 503.1,1254.1 503.5,1244.7 501.1,1237.2 496.8,1233.3 496.1,1224.4 493.5,1221.9" fill="#e8a43b"/>
<polygon points="514.5,1231.4 509.3,1234.3 500.0,1234.0 503.5,1244.7 503.1,1254.1 514.2,1254.0 520.1,1244.7" fill="#a41b1b"/>
<polygon points="510.7,1222.2 493.5,1221.9 496.1,1224.4 496.8,1233.3 501.1,1237.2 500.0,1234.0 504.6,1234.1 505.9,1230.5 512.1,1225.7" fill="#a71b1b"/>
<polygon points="439.3,1619.6 435.0,1633.0 434.4,1634.8 442.1,1630.9 442.1,1620.7" fill="#db432b"/>
<polygon points="918.6,1361.3 920.0,1362.0 925.0,1341.0 926.2,1338.3 918.6,1339.7 914.4,1346.9" fill="#d4412a"/>
<polygon points="686.6,1093.5 684.8,1068.3 671.8,1058.0 667.7,1058.0 650.0,1072.8 651.2,1093.8 665.2,1105.4 666.9,1104.5 672.9,1104.2" fill="#f3ac3e"/>
<polygon points="672.9,1104.2 666.9,1104.5 665.2,1105.4 668.2,1107.8" fill="#f7e77f"/>
<polygon points="631.3,1350.3 659.8,1350.3 662.9,1342.2 653.3,1330.4 653.1,1331.0 653.7,1332.8 653.0,1342.0 644.7,1343.1 636.4,1344.8 630.8,1344.9" fill="#d24029"/>
<polygon points="628.4,1319.9 630.8,1344.9 636.4,1344.8 644.7,1343.1 653.0,1342.0 653.7,1332.8 653.1,1331.0 653.3,1330.4 648.6,1324.5 641.7,1316.2" fill="#a71b1b"/>
<polygon points="648.8,1240.0 622.7,1264.8 622.4,1273.5 643.1,1281.9 662.1,1272.6 664.0,1252.3" fill="#eba63c"/>
<polygon points="460.6,1297.7 453.4,1307.7 460.1,1305.2 470.4,1303.0 481.7,1305.5 485.9,1304.6 485.3,1299.6" fill="#d24029"/>
<polygon points="451.4,1310.6 461.1,1326.6 479.3,1324.5 487.3,1314.8 485.9,1304.6 481.7,1305.5 470.4,1303.0 460.1,1305.2 453.4,1307.7" fill="#e9a53c"/>
<polygon points="596.5,1201.0 609.3,1202.7 609.5,1198.5 607.1,1188.9 607.1,1187.3 609.0,1184.0 607.0,1182.9 607.0,1179.0 598.7,1177.7 590.5,1176.5 588.0,1176.0" fill="#d6422a"/>
<polygon points="588.0,1176.0 590.5,1176.5 598.7,1177.7 607.0,1179.0 607.0,1182.9 609.0,1184.0 607.1,1187.3 607.1,1188.9 609.5,1198.5 609.3,1202.7 616.4,1203.6 625.4,1194.0 613.9,1160.9 586.5,1171.6" fill="#eaa63c"/>
<polygon points="431.8,1446.7 438.4,1438.2 435.3,1430.8 431.1,1431.8 422.8,1429.7 415.2,1434.1 407.0,1433.0 409.3,1443.6" fill="#d4412a"/>
<polygon points="435.2,1430.6 407.7,1413.8 395.3,1425.2 395.0,1432.5 397.4,1432.3 408.0,1428.0 408.0,1433.1 415.2,1434.1 422.8,1429.7 431.1,1431.8 435.3,1430.8" fill="#e8a43b"/>
<polygon points="408.7,1443.5 408.1,1438.3 407.0,1433.0 408.0,1433.1 408.0,1428.0 397.4,1432.3 395.0,1432.5 394.7,1440.4 395.4,1441.7" fill="#f4e47d"/>
<polygon points="872.5,1030.2 884.1,1036.9 884.1,1036.6 881.2,1028.5 880.0,1020.0 876.8,1016.2 876.4,1016.4 871.5,1027.8" fill="#d7422a"/>
<polygon points="887.4,1038.8 888.0,1037.0 880.0,1020.0 881.2,1028.5 884.1,1036.6 884.1,1036.9" fill="#f1ab3e"/>
<polygon points="876.8,1016.2 880.0,1020.0 878.1,1015.8" fill="#f1ab3e"/>
<polygon points="794.7,967.3 828.9,947.6 818.0,931.2 817.0,931.0 809.0,939.0 792.0,962.0 788.6,961.5" fill="#d5412a"/>
<polygon points="771.1,1196.3 771.4,1193.5 767.4,1186.8 764.0,1187.2 754.0,1188.0 758.0,1203.0 767.4,1199.7" fill="#df442c"/>
<polygon points="764.0,1202.6 767.4,1199.7 758.0,1203.0 754.0,1188.0 764.0,1187.2 767.4,1186.8 754.3,1165.1 749.2,1164.1 718.5,1182.3 721.1,1188.1 724.0,1182.0 732.1,1185.1 740.7,1182.4 749.0,1184.0 750.3,1192.5 748.1,1200.8 747.0,1204.1" fill="#e7a43b"/>
<polygon points="747.0,1204.1 748.1,1200.8 750.3,1192.5 749.0,1184.0 740.7,1182.4 732.1,1185.1 724.0,1182.0 721.1,1188.1 729.0,1205.6" fill="#f3e37d"/>
<polygon points="538.3,1449.3 543.5,1442.7 539.1,1418.9 512.3,1422.3 512.6,1444.7 532.2,1451.3" fill="#d5412a"/>
<polygon points="373.0,1522.1 373.1,1522.7 370.0,1531.0 373.8,1532.9 369.6,1533.1 371.0,1535.0 376.9,1535.4 378.9,1532.0" fill="#d7422a"/>
<polygon points="368.8,1515.0 357.9,1515.8 358.0,1517.0 369.6,1533.1 373.8,1532.9 370.0,1531.0 373.1,1522.7 373.0,1522.1" fill="#e9a53c"/>
<polygon points="549.9,1239.9 539.3,1241.6 540.1,1243.2 540.0,1246.3 541.0,1250.0 540.8,1250.0 542.2,1255.2 544.3,1263.4 546.7,1271.6 547.1,1274.1 556.4,1262.1 550.5,1240.5" fill="#de442b"/>
<polygon points="538.9,1241.6 538.9,1242.0 540.0,1246.3 540.1,1243.2 539.3,1241.6" fill="#eda83d"/>
<polygon points="519.3,1278.2 542.4,1280.1 547.1,1274.1 546.7,1271.6 544.3,1263.4 542.2,1255.2 540.8,1250.0 532.6,1251.5 526.8,1258.3 519.0,1261.0 515.5,1260.3" fill="#e8a43b"/>
<polygon points="520.1,1244.7 514.2,1254.0 515.5,1260.3 519.0,1261.0 526.8,1258.3 532.6,1251.5 541.0,1250.0 538.9,1242.0 538.9,1241.6" fill="#a91c1c"/>
<polygon points="650.0,1072.8 667.7,1058.0 666.8,1057.0 663.8,1056.7 656.0,1054.0 644.7,1050.7 633.0,1049.0 629.4,1041.3 628.9,1038.2 623.3,1038.3 617.6,1043.1 616.2,1048.5 625.2,1068.8" fill="#e9a53c"/>
<polygon points="650.7,1037.6 628.9,1038.2 629.4,1041.3 633.0,1049.0 644.7,1050.7 656.0,1054.0 663.8,1056.7 666.8,1057.0" fill="#f5e57e"/>
<polygon points="885.3,1207.6 905.0,1195.4 905.0,1180.0 900.4,1165.0 893.8,1160.3 856.4,1179.1 856.3,1179.7 880.1,1206.9" fill="#eda83d"/>
<polygon points="818.8,1257.9 826.0,1256.3 836.0,1260.0 836.5,1252.9 822.6,1248.4" fill="#da432b"/>
<polygon points="816.2,1264.4 820.7,1274.1 848.8,1286.7 860.1,1283.8 868.2,1275.3 866.1,1262.6 836.5,1252.9 836.0,1260.0 826.0,1256.3 818.8,1257.9" fill="#f7af3f"/>
<polygon points="824.7,1000.6 813.0,997.7 798.8,1015.3 801.9,1016.9 811.0,1020.0 816.4,1026.5 817.0,1035.0 825.6,1036.5 829.2,1039.8 836.7,1027.4" fill="#dd442b"/>
<polygon points="792.8,1022.7 805.1,1047.0 826.3,1044.6 829.2,1039.8 825.6,1036.5 817.0,1035.0 816.4,1026.5 811.0,1020.0 801.9,1016.9 798.8,1015.3" fill="#f3e37d"/>
<polygon points="539.0,1491.2 559.8,1505.2 575.1,1492.6 565.0,1474.0 550.8,1473.9 539.0,1486.2" fill="#dd442b"/>
<polygon points="758.4,1671.7 730.5,1659.3 724.8,1685.2 731.2,1693.0 760.7,1680.9" fill="#db432b"/>
<polygon points="609.8,1554.1 630.2,1565.7 642.7,1556.2 629.9,1535.6 622.2,1533.6 607.7,1543.4" fill="#d7422a"/>
<polygon points="415.0,1068.5 394.4,1086.7 403.0,1092.0 411.2,1089.4 419.3,1086.3 427.8,1085.3 434.3,1087.1 432.5,1080.6 431.0,1080.0 428.7,1072.0 422.9,1068.3" fill="#e9a53c"/>
<polygon points="403.0,1106.3 431.2,1103.0 436.9,1096.8 434.3,1087.1 427.8,1085.3 419.3,1086.3 411.2,1089.4 403.0,1092.0 401.3,1102.4" fill="#f6e67e"/>
<polygon points="430.4,1073.0 428.7,1072.0 431.0,1080.0 432.5,1080.6" fill="#f6e67e"/>
<polygon points="609.8,1554.1 607.7,1543.4 602.2,1540.8 602.2,1541.9 603.0,1542.0 602.2,1544.4 602.2,1548.0 603.1,1557.0 603.0,1562.8" fill="#df452c"/>
<polygon points="597.6,1541.5 602.2,1541.9 602.2,1540.8 600.6,1540.0" fill="#f7af40"/>
<polygon points="583.6,1548.5 585.7,1565.0 595.2,1565.9 600.5,1566.0 603.0,1562.8 603.1,1557.0 602.2,1548.0 602.2,1544.4 603.0,1542.0 597.6,1541.5" fill="#f1ab3e"/>
<polygon points="485.3,1299.6 485.9,1304.6 492.0,1303.3 502.0,1299.0 511.0,1300.9 520.2,1302.2 520.7,1302.3 519.2,1298.4 513.8,1299.1 505.2,1293.9 494.8,1297.2 488.8,1294.3" fill="#d6422a"/>
<polygon points="489.8,1292.8 488.8,1294.3 494.8,1297.2 505.2,1293.9 513.8,1299.1 519.2,1298.4 514.4,1286.1" fill="#f6ae3f"/>
<polygon points="487.3,1314.8 508.5,1325.0 525.4,1314.6 520.7,1302.3 520.2,1302.2 511.0,1300.9 502.0,1299.0 492.0,1303.3 485.9,1304.6" fill="#e7a43b"/>
<polygon points="768.4,1625.9 766.5,1614.4 753.4,1606.0 733.0,1614.6 733.4,1620.1 738.6,1621.7 747.0,1620.0 756.5,1624.5 767.0,1624.0 766.4,1628.7" fill="#d34129"/>
<polygon points="747.1,1637.6 759.6,1638.6 766.4,1628.7 767.0,1624.0 756.5,1624.5 747.0,1620.0 738.6,1621.7 733.4,1620.1 733.4,1620.3" fill="#a81c1c"/>
<polygon points="481.0,1676.0 477.7,1674.8 478.0,1675.0 480.9,1680.1 481.1,1680.0" fill="#da432b"/>
<polygon points="458.3,1662.2 462.1,1663.8 466.8,1667.5 464.9,1661.7" fill="#d34129"/>
<polygon points="448.4,1663.0 441.7,1683.9 456.7,1693.3 480.9,1680.1 478.0,1675.0 469.8,1669.8 462.1,1663.8 458.3,1662.2" fill="#f2ab3e"/>
<polygon points="480.9,1672.7 472.5,1661.1 464.9,1661.7 466.8,1667.5 469.8,1669.8 477.7,1674.8 481.0,1676.0" fill="#ac1c1c"/>
<polygon points="764.8,1561.9 775.8,1581.5 793.6,1575.3 796.2,1568.7 788.7,1565.4 780.0,1563.0 773.6,1556.6 768.0,1550.2" fill="#d7422a"/>
<polygon points="793.7,1558.1 768.8,1547.8 768.6,1547.9 768.0,1550.2 773.6,1556.6 780.0,1563.0 788.7,1565.4 796.2,1568.7 796.9,1566.8" fill="#a71b1b"/>
<polygon points="752.4,1537.2 744.1,1542.4 747.0,1542.0 749.2,1551.4 755.0,1559.0 757.2,1565.7 764.8,1561.9 768.0,1550.2 767.6,1549.7 759.0,1546.0 753.7,1538.0" fill="#d4412a"/>
<polygon points="733.4,1549.2 731.9,1559.5 744.3,1572.4 757.2,1565.7 755.0,1559.0 749.2,1551.4 747.0,1542.0 744.1,1542.4" fill="#eca73d"/>
<polygon points="753.7,1538.0 759.0,1546.0 767.6,1549.7 768.0,1550.2 768.6,1547.9" fill="#ad1c1c"/>
<polygon points="761.2,1003.8 795.6,977.5 794.7,967.3 788.6,961.5 767.3,958.6 763.7,961.5 762.9,965.4 755.1,973.1 752.0,983.0 747.9,983.0 743.3,985.2" fill="#d7422a"/>
<polygon points="758.3,965.9 748.0,983.0 747.9,983.0 752.0,983.0 755.1,973.1 762.9,965.4 763.7,961.5" fill="#f7af40"/>
<polygon points="429.1,1694.2 432.2,1710.0 459.1,1707.9 456.7,1693.3 441.7,1683.9 434.3,1686.4" fill="#f6ae3f"/>
<polygon points="741.2,1389.9 737.6,1382.7 721.8,1380.8 721.8,1381.3 725.0,1391.0 737.0,1391.0 740.1,1391.7" fill="#da432b"/>
<polygon points="740.1,1391.7 737.0,1391.0 725.0,1391.0 721.8,1381.3 721.8,1380.8 710.5,1379.5 705.5,1387.2 705.5,1387.9 726.2,1412.1 727.9,1412.3" fill="#eba73c"/>
<polygon points="472.0,1232.9 445.3,1245.1 441.0,1266.7 444.3,1271.9 449.6,1273.8 476.8,1264.4 482.0,1254.3" fill="#e0452c"/>
<polygon points="532.5,1016.4 538.4,1015.1 537.8,1012.5 540.0,1002.0 548.7,1000.9 553.2,1002.7 554.1,996.7 535.1,978.4 529.1,981.1 520.3,996.3 523.0,999.0 521.9,1004.3" fill="#efa93d"/>
<polygon points="551.8,1012.3 553.2,1002.7 548.7,1000.9 540.0,1002.0 537.8,1012.5 538.4,1015.1" fill="#f3e37d"/>
<polygon points="406.6,1293.4 405.3,1292.4 394.0,1293.1 377.8,1314.2 399.1,1330.5 410.4,1325.0" fill="#d6422a"/>
<polygon points="553.6,1150.7 549.5,1143.7 522.9,1141.3 520.5,1150.8 521.0,1161.1 519.3,1169.6 541.3,1175.0" fill="#e0452c"/>
<polygon points="518.5,1140.8 511.1,1163.5 513.8,1168.3 519.3,1169.6 521.0,1161.1 520.5,1150.8 522.9,1141.3" fill="#efa93d"/>
<polygon points="404.9,1537.3 396.3,1527.0 378.9,1532.0 376.9,1535.4 379.0,1535.5 387.0,1536.0 404.8,1538.7" fill="#d5412a"/>
<polygon points="589.2,1308.2 569.8,1298.7 569.1,1298.9 560.4,1304.2 557.8,1305.0 559.1,1312.4 564.5,1314.4 571.6,1317.4 571.0,1316.0 573.5,1316.1 573.0,1315.0 579.2,1316.5 579.8,1316.5 588.1,1314.7 590.4,1313.7" fill="#d8422a"/>
<polygon points="568.1,1297.8 557.3,1301.8 557.8,1305.0 560.4,1304.2 569.1,1298.9 569.8,1298.7" fill="#e9a53c"/>
<polygon points="562.5,1332.8 572.9,1338.2 574.1,1338.0 574.7,1335.7 574.4,1332.6 574.5,1323.9 571.6,1317.4 564.5,1314.4 559.1,1312.4" fill="#f2ab3e"/>
<polygon points="590.4,1313.7 588.1,1314.7 579.8,1316.5 571.0,1316.0 574.5,1323.9 574.4,1332.6 574.8,1337.0 590.6,1314.7" fill="#f4e47d"/>
<polygon points="579.2,1316.5 573.0,1315.0 573.5,1316.1" fill="#f1e17c"/>
<polygon points="656.4,1693.5 656.4,1693.0 636.2,1679.7 615.5,1690.7 614.4,1702.4 633.2,1715.9" fill="#dd442b"/>
<polygon points="781.4,1319.9 787.0,1302.0 779.2,1302.3 777.0,1301.5 770.7,1300.1 761.0,1301.0 760.9,1301.0 758.3,1301.8 756.7,1301.5 749.3,1314.3 769.4,1327.7" fill="#dd442b"/>
<polygon points="787.2,1301.4 780.3,1302.3 777.0,1301.5 779.2,1302.3 787.0,1302.0" fill="#e7a43b"/>
<polygon points="756.7,1301.5 758.3,1301.8 760.9,1301.0 757.6,1299.9" fill="#f0aa3e"/>
<polygon points="787.8,1299.6 786.1,1296.7 763.1,1290.4 757.6,1299.9 761.0,1301.0 770.7,1300.1 780.3,1302.3 787.2,1301.4" fill="#f1e17c"/>
<polygon points="628.9,1038.2 628.0,1033.0 637.7,1033.5 646.4,1028.4 652.7,1028.1 655.5,1014.8 653.4,1013.8 650.0,1023.0 642.8,1019.4 641.0,1023.0 636.0,1016.5 631.0,1010.0 629.0,1008.8 627.0,1008.7 623.3,1038.3" fill="#f7af3f"/>
<polygon points="650.7,1037.6 652.7,1028.1 646.4,1028.4 637.7,1033.5 628.0,1033.0 628.9,1038.2" fill="#f9e980"/>
<polygon points="629.0,1008.8 631.0,1010.0 636.0,1016.5 641.0,1023.0 642.8,1019.4 650.0,1023.0 653.4,1013.8 645.0,1010.0 645.1,1009.8" fill="#f0e07b"/>
<polygon points="575.9,1492.8 572.3,1485.5 569.4,1475.2 566.8,1470.8 565.0,1474.0 575.1,1492.6" fill="#d5412a"/>
<polygon points="581.6,1493.8 597.7,1485.8 601.8,1478.2 600.8,1469.9 596.6,1465.0 596.8,1465.9 596.0,1476.0 590.3,1483.0 581.9,1487.3 578.2,1493.2" fill="#d34129"/>
<polygon points="578.2,1493.2 581.9,1487.3 590.3,1483.0 596.0,1476.0 596.8,1465.9 596.6,1465.0 590.5,1457.9 573.6,1459.0 566.8,1470.8 569.4,1475.2 572.3,1485.5 575.9,1492.8" fill="#f8af40"/>
<polygon points="820.2,1366.6 811.1,1338.9 807.4,1339.2 785.8,1355.9 788.7,1361.1 791.0,1361.3 799.0,1362.0 799.0,1371.0 795.1,1372.4 797.5,1376.8 818.0,1371.4" fill="#d5422a"/>
<polygon points="795.1,1372.4 799.0,1371.0 799.0,1362.0 791.0,1361.3 788.7,1361.1" fill="#f1ab3e"/>
<polygon points="777.2,1141.9 779.7,1141.6 798.3,1120.7 774.8,1095.2 772.0,1094.6 766.7,1093.1 747.0,1113.0" fill="#efa93d"/>
<polygon points="771.7,1091.9 767.3,1092.4 766.7,1093.1 772.0,1094.6 774.8,1095.2" fill="#f7e77f"/>
<polygon points="712.0,1027.2 717.0,1022.7 719.9,994.2 700.4,999.9 700.8,1004.0 697.7,1013.0 698.0,1022.0 700.1,1026.5" fill="#da432b"/>
<polygon points="690.9,1026.0 700.1,1026.5 698.0,1022.0 697.7,1013.0 700.8,1004.0 700.4,999.9 700.0,1000.0 685.0,1017.0 684.0,1016.3" fill="#f4ac3f"/>
<polygon points="343.1,1467.6 337.0,1475.9 355.0,1491.0 355.1,1491.9 358.3,1490.5 356.9,1471.5" fill="#e9a53c"/>
<polygon points="406.9,1204.0 411.0,1200.6 413.7,1199.6 415.3,1197.5 406.1,1203.1" fill="#dc442b"/>
<polygon points="427.4,1226.3 427.5,1226.3 449.3,1208.5 449.9,1192.8 436.4,1184.7 415.3,1197.5 413.7,1199.6 411.0,1200.6 406.9,1204.0" fill="#eca73d"/>
<polygon points="766.5,1614.4 768.4,1625.9 796.2,1629.4 799.9,1626.0 800.0,1607.9 780.7,1601.6" fill="#d9432b"/>
<polygon points="811.5,1118.9 817.6,1106.7 817.0,1106.0 819.0,1103.9 824.3,1093.3 819.6,1090.3 816.0,1094.3 809.0,1100.0 800.0,1097.1 790.4,1097.7 781.1,1096.7 774.8,1095.2 798.3,1120.7" fill="#eda83d"/>
<polygon points="792.1,1072.9 771.7,1091.9 774.8,1095.2 781.1,1096.7 790.4,1097.7 800.0,1097.1 809.0,1100.0 816.0,1094.3 819.6,1090.3" fill="#f1e17c"/>
<polygon points="556.0,1151.2 556.0,1150.0 554.8,1138.5 553.0,1127.0 552.8,1126.9 549.5,1143.7 553.6,1150.7" fill="#d9432b"/>
<polygon points="571.6,1154.7 592.1,1128.0 586.4,1118.8 569.5,1116.5 567.9,1120.8 567.7,1123.4 565.9,1128.4 561.0,1127.0 560.2,1129.6 556.8,1128.6 553.1,1127.9 554.8,1138.5 556.0,1150.0 556.0,1151.2" fill="#efa93d"/>
<polygon points="568.2,1116.3 567.9,1120.8 569.5,1116.5" fill="#f2e27c"/>
<polygon points="555.2,1114.6 552.8,1126.9 553.0,1127.0 553.1,1127.9 556.8,1128.6 560.2,1129.6 561.0,1127.0 565.9,1128.4 567.7,1123.4 568.2,1116.3" fill="#f9e880"/>
<polygon points="484.7,1375.9 486.8,1380.6 487.0,1378.0 493.3,1377.1 493.0,1376.0 501.1,1372.9 509.7,1377.3 511.0,1377.0 511.8,1370.3 510.0,1362.0 502.4,1361.7" fill="#da432b"/>
<polygon points="502.4,1361.7 510.0,1362.0 511.8,1370.3 511.0,1377.0 517.9,1375.6 509.7,1377.3 501.1,1372.9 493.0,1376.0 495.3,1384.7 493.3,1377.1 487.0,1378.0 486.8,1380.6 491.6,1391.1 505.8,1395.0 519.6,1388.1 523.4,1380.4 518.3,1357.4 511.5,1354.4" fill="#e8a43b"/>
<polygon points="583.1,1210.6 568.2,1207.6 552.1,1221.1 549.9,1239.9 550.5,1240.5 589.7,1239.7" fill="#d5412a"/>
<polygon points="662.9,1342.2 681.9,1330.5 670.4,1305.9 648.5,1308.2 643.8,1313.8 650.0,1315.0 651.2,1324.0 652.0,1326.7 654.0,1328.0 653.3,1330.4" fill="#d8422a"/>
<polygon points="648.6,1324.5 652.0,1326.7 651.2,1324.0 650.0,1315.0 643.8,1313.8 641.7,1316.2" fill="#ac1c1c"/>
<polygon points="653.3,1330.4 654.0,1328.0 648.6,1324.5" fill="#ac1c1c"/>
<polygon points="416.4,1482.5 434.9,1489.1 437.9,1487.7 439.0,1483.0 444.0,1484.8 444.9,1484.4 446.4,1474.3 440.6,1464.9 440.0,1470.0 433.4,1476.4 430.4,1485.3 429.4,1487.1 426.9,1483.4 423.8,1476.7 427.8,1470.1 434.9,1464.6 438.6,1461.7 431.6,1450.3 415.4,1471.2" fill="#d9432b"/>
<polygon points="438.6,1461.7 434.9,1464.6 427.8,1470.1 423.8,1476.7 426.9,1483.4 429.4,1487.1 430.4,1485.3 433.4,1476.4 440.0,1470.0 440.6,1464.9" fill="#e7a43b"/>
<polygon points="444.0,1484.8 439.0,1483.0 437.9,1487.7" fill="#f9e980"/>
<polygon points="498.4,1032.3 491.0,1030.0 488.5,1038.9 490.4,1047.7 491.6,1052.1 502.7,1041.5" fill="#d7422a"/>
<polygon points="497.6,1030.6 491.4,1027.1 483.0,1033.0 460.0,1037.3 456.9,1043.8 459.9,1054.8 476.4,1064.2 479.5,1063.7 491.6,1052.1 490.4,1047.7 488.5,1038.9 491.0,1030.0 498.4,1032.3" fill="#f1aa3e"/>
<polygon points="512.6,1510.5 515.9,1535.0 517.7,1536.1 516.0,1527.0 525.6,1526.2 534.6,1521.7 540.7,1522.0 526.1,1505.4 515.2,1506.7" fill="#dc432b"/>
<polygon points="520.0,1537.4 543.3,1527.2 543.8,1525.6 540.7,1522.0 534.6,1521.7 525.6,1526.2 516.0,1527.0 517.7,1536.1" fill="#a91c1c"/>
<polygon points="534.6,1205.4 535.0,1212.0 536.8,1220.2 536.8,1228.7 536.8,1229.3 539.2,1233.4 538.9,1240.9 539.3,1241.6 549.9,1239.9 552.1,1221.1" fill="#d8422a"/>
<polygon points="527.5,1203.9 527.0,1211.0 521.5,1219.5 513.0,1225.0 512.1,1225.7 514.5,1231.4 517.5,1229.8 525.9,1226.4 535.0,1226.0 536.8,1229.3 536.8,1228.7 536.8,1220.5 533.0,1221.0 531.0,1211.7 529.7,1203.5" fill="#f6ae3f"/>
<polygon points="531.9,1203.0 529.7,1203.5 531.0,1211.7 533.0,1221.0 536.8,1220.5 536.8,1220.2 535.0,1212.0 534.6,1205.4" fill="#f3e37c"/>
<polygon points="517.2,1206.0 510.7,1222.2 512.1,1225.7 513.0,1225.0 521.5,1219.5 527.0,1211.0 527.5,1203.9" fill="#a61b1b"/>
<polygon points="520.1,1244.7 538.9,1241.6 539.2,1233.4 535.0,1226.0 525.9,1226.4 517.5,1229.8 514.5,1231.4" fill="#ac1c1c"/>
<polygon points="409.6,1406.0 432.5,1396.8 437.5,1378.3 419.2,1367.9 400.7,1389.4" fill="#eaa63c"/>
<polygon points="856.4,1179.1 893.8,1160.3 891.6,1149.7 878.8,1135.1 858.9,1131.3 842.7,1146.2" fill="#eca73d"/>
<polygon points="313.1,1336.7 310.7,1339.2 315.8,1345.5 316.0,1354.0 316.7,1354.0 323.4,1350.0" fill="#de442b"/>
<polygon points="316.7,1354.0 316.0,1354.0 315.8,1345.5 310.7,1339.2 310.0,1340.0 315.1,1354.9" fill="#e8a43c"/>
<polygon points="627.5,1385.2 644.2,1409.5 660.6,1408.2 659.0,1400.0 667.1,1399.0 667.9,1392.5 663.2,1385.7 651.3,1376.0 631.4,1379.9" fill="#de442c"/>
<polygon points="662.0,1408.1 666.4,1404.8 667.1,1399.0 659.0,1400.0 660.6,1408.2" fill="#f8e87f"/>
<polygon points="668.2,1389.8 663.2,1385.7 667.9,1392.5" fill="#a71b1b"/>
<polygon points="702.8,1145.2 732.6,1138.5 744.6,1113.5 722.4,1099.9 708.2,1105.1 696.0,1139.3" fill="#eca73d"/>
<polygon points="446.9,1553.4 441.0,1551.6 440.1,1551.9 447.0,1553.7" fill="#dd442b"/>
<polygon points="434.1,1535.4 429.3,1538.8 426.3,1547.8 429.0,1549.0 440.1,1551.9 441.0,1551.6 446.9,1553.4 444.2,1541.3" fill="#fbf5cb"/>
<polygon points="562.8,1189.3 543.6,1181.5 538.7,1190.6 539.5,1194.5 539.0,1195.6 534.4,1203.0 534.6,1205.4 552.1,1221.1 568.2,1207.6" fill="#d34129"/>
<polygon points="531.9,1203.0 534.6,1205.4 534.4,1203.0 539.0,1195.6 539.5,1194.5 538.7,1190.6" fill="#f4e47d"/>
<polygon points="611.4,1388.8 627.5,1385.2 631.4,1379.9 628.5,1353.5 600.3,1352.6 597.0,1367.8" fill="#d9432b"/>
<polygon points="898.0,1255.0 885.0,1255.0 885.0,1268.7 889.0,1270.0 892.2,1270.0 898.0,1268.2" fill="#d8422a"/>
<polygon points="889.6,1284.6 913.5,1281.4 915.7,1278.6 916.0,1276.0 917.3,1262.5 912.5,1243.6 900.3,1239.4 869.3,1255.4 866.1,1262.6 868.2,1275.3" fill="#eda73d"/>
<polygon points="580.7,1029.4 573.5,1032.4 566.0,1041.0 559.0,1036.1 557.2,1031.3 549.5,1044.9 555.8,1055.4 578.2,1058.5 578.0,1057.8 579.0,1046.0 580.7,1046.1" fill="#eaa53c"/>
<polygon points="580.7,1024.0 561.6,1023.6 557.2,1031.3 559.0,1036.1 566.0,1041.0 573.5,1032.4 580.7,1029.4" fill="#f6e67e"/>
<polygon points="580.7,1046.1 579.0,1046.0 578.0,1057.8 578.2,1058.5 580.7,1058.8" fill="#ab1c1c"/>
<polygon points="525.3,1040.7 516.6,1045.3 524.8,1077.7 527.7,1078.2 528.0,1075.9 528.6,1067.6 532.4,1060.1 535.3,1052.3 535.2,1044.0 535.5,1042.5" fill="#d24029"/>
<polygon points="549.5,1044.9 535.5,1042.5 535.2,1044.0 535.3,1052.3 532.4,1060.1 528.6,1067.6 528.0,1075.9 527.7,1078.2 534.9,1079.5 538.0,1079.1 544.0,1078.4 555.8,1055.4" fill="#eba63c"/>
<polygon points="542.7,1080.9 544.0,1078.4 538.0,1079.1 534.9,1079.5" fill="#faea80"/>
<polygon points="666.0,1658.1 662.0,1688.4 681.7,1687.7 689.8,1670.1 677.9,1656.0" fill="#dd442b"/>
<polygon points="846.5,1324.1 834.1,1304.4 829.6,1304.3 823.6,1306.8 821.1,1306.1 820.3,1306.3 818.2,1305.2 814.4,1304.1 814.0,1304.4 815.0,1335.2 844.4,1334.6" fill="#db432b"/>
<polygon points="814.6,1304.0 814.4,1304.1 818.2,1305.2 820.3,1306.3 821.1,1306.1 823.6,1306.8 829.6,1304.3" fill="#e8a43b"/>
<polygon points="636.9,1729.6 643.5,1730.4 650.0,1718.0 661.0,1718.0 656.2,1708.0 655.0,1697.0 657.7,1696.1 656.4,1693.5 633.2,1715.9" fill="#dc442b"/>
<polygon points="667.7,1715.0 657.7,1696.1 655.0,1697.0 656.2,1708.0 661.0,1718.0 666.0,1718.0" fill="#fcf7cc"/>
<polygon points="548.9,1598.1 552.5,1591.5 549.9,1576.7 532.7,1565.4 521.8,1583.0 534.0,1603.6" fill="#e0452c"/>
<polygon points="750.3,1431.9 751.9,1429.4 749.0,1430.7" fill="#dc432b"/>
<polygon points="761.1,1407.9 761.0,1408.0 761.0,1408.3 763.0,1414.6 769.0,1413.3" fill="#d24029"/>
<polygon points="749.0,1430.7 751.9,1429.4 761.0,1415.0 763.0,1414.6 761.0,1408.3 761.0,1408.0 741.6,1423.7" fill="#f5ae3f"/>
<polygon points="872.9,1362.0 884.4,1352.4 880.2,1337.5 845.4,1336.0 847.6,1357.4" fill="#d4412a"/>
<polygon points="482.2,1374.6 475.4,1352.5 453.7,1348.4 449.4,1367.7 454.2,1370.6 455.0,1372.0 460.5,1372.4 460.9,1372.9 458.4,1379.2" fill="#db432b"/>
<polygon points="458.4,1379.2 460.9,1372.9 460.5,1372.4 455.0,1372.0 454.2,1370.6 449.4,1367.7 447.8,1374.9 456.7,1379.5" fill="#f7af3f"/>
<polygon points="832.8,1607.6 853.0,1597.0 851.6,1584.9 851.0,1585.1 851.0,1588.0 844.1,1587.4 837.9,1589.6" fill="#dc432b"/>
<polygon points="844.1,1587.4 851.0,1588.0 851.0,1585.1" fill="#a31b1b"/>
<polygon points="609.9,1325.2 613.8,1324.0 613.5,1323.3 612.0,1315.0 617.3,1315.4 615.0,1311.0 623.6,1311.5 618.0,1299.9 610.0,1300.0 605.9,1289.5 605.2,1289.9 589.2,1308.2 590.4,1313.7 596.0,1311.0 597.3,1318.4" fill="#d5422a"/>
<polygon points="610.5,1284.2 610.2,1284.3 605.2,1289.9 605.9,1289.5 610.0,1300.0 618.0,1299.9" fill="#f7ae3f"/>
<polygon points="597.3,1318.4 596.0,1311.0 590.4,1313.7 590.6,1314.7" fill="#eedf7a"/>
<polygon points="627.5,1319.6 623.6,1311.5 615.0,1311.0 617.3,1315.4 612.0,1315.0 613.5,1323.3 613.8,1324.0" fill="#a91c1c"/>
<polygon points="475.3,1163.6 471.3,1182.4 475.2,1185.9 479.0,1185.0 483.2,1178.3 482.3,1176.8 478.9,1168.0 479.1,1160.6" fill="#d7422a"/>
<polygon points="479.2,1160.5 479.1,1160.6 478.9,1168.0 482.3,1176.8 483.2,1178.3 479.0,1185.0 475.2,1185.9 479.7,1189.8 479.0,1187.0 488.1,1188.8 497.0,1185.3 506.0,1186.2 508.6,1186.3 513.8,1168.3 511.1,1163.5" fill="#eaa53c"/>
<polygon points="483.3,1193.0 506.8,1192.4 508.6,1186.3 506.0,1186.2 497.0,1185.3 488.1,1188.8 479.0,1187.0 479.7,1189.8" fill="#a91c1c"/>
<polygon points="606.6,1708.2 588.8,1708.3 606.0,1714.0 606.2,1714.7" fill="#d24029"/>
<polygon points="518.3,1357.4 523.4,1380.4 548.1,1379.8 551.6,1364.5 536.4,1348.9" fill="#e9a53c"/>
<polygon points="730.3,1499.3 734.0,1504.0 729.4,1511.2 727.0,1516.7 727.7,1518.8 749.8,1522.6 757.2,1509.7 757.1,1507.9 736.6,1494.6" fill="#d7422a"/>
<polygon points="723.1,1504.7 727.0,1516.7 729.4,1511.2 734.0,1504.0 730.3,1499.3" fill="#edde7a"/>
<polygon points="566.1,962.1 563.2,963.5 556.0,971.0 545.0,977.0 543.4,972.9 536.1,976.3 535.1,978.4 554.1,996.7 576.5,988.3" fill="#e8a43c"/>
<polygon points="543.4,972.9 545.0,977.0 556.0,971.0 563.2,963.5" fill="#f6e67e"/>
<polygon points="536.5,933.3 543.7,937.8 540.9,932.0 536.6,932.0" fill="#f8f3c9"/>
<polygon points="566.2,951.9 572.7,949.3 577.4,932.0 540.9,932.0 543.7,937.8" fill="#fbeb81"/>
<polygon points="532.2,1451.3 512.6,1444.7 505.5,1449.0 505.6,1475.4 507.0,1477.1 521.6,1473.8" fill="#d34129"/>
<polygon points="351.2,1253.6 366.2,1250.8 378.0,1230.7 373.3,1225.3 370.0,1229.0 368.0,1240.0 347.0,1249.0" fill="#eea93d"/>
<polygon points="508.5,1325.0 507.2,1347.5 511.5,1354.4 518.3,1357.4 536.4,1348.9 541.2,1338.9 526.9,1315.1 525.4,1314.6" fill="#eca73d"/>
<polygon points="378.9,1532.0 396.3,1527.0 401.2,1516.6 400.0,1515.0 390.4,1513.4 380.7,1512.7 371.0,1514.0 373.0,1522.1" fill="#da432b"/>
<polygon points="377.5,1495.1 373.7,1496.9 368.8,1515.0 373.0,1522.1 371.0,1514.0 380.7,1512.7 390.4,1513.4 400.0,1515.0 401.2,1516.6 403.1,1512.6 402.6,1511.0" fill="#efa93d"/>
<polygon points="722.4,1099.9 723.4,1065.5 720.5,1063.6 684.8,1068.3 686.6,1093.5 708.2,1105.1" fill="#f7af3f"/>
<polygon points="655.8,1501.8 670.9,1514.0 688.1,1505.0 685.6,1493.1 680.0,1492.0 670.6,1492.6 663.0,1498.0 655.9,1493.2" fill="#d7422a"/>
<polygon points="655.9,1493.2 663.0,1498.0 670.6,1492.6 680.0,1492.0 685.6,1493.1 685.1,1490.7 658.5,1485.3 655.9,1488.5" fill="#e8a43c"/>
<polygon points="684.8,1137.8 676.7,1137.1 666.9,1140.1 657.0,1142.0 657.1,1133.0 652.4,1126.2 652.0,1126.4 651.8,1126.9 654.0,1131.0 650.4,1139.5 646.4,1142.5 646.1,1155.0 658.7,1164.4 685.2,1138.2" fill="#f3ac3e"/>
<polygon points="667.9,1119.3 652.4,1126.2 657.1,1133.0 657.0,1142.0 666.9,1140.1 676.7,1137.1 684.8,1137.8" fill="#efdf7a"/>
<polygon points="646.7,1128.7 646.4,1142.5 650.4,1139.5 654.0,1131.0 651.8,1126.9 652.0,1126.4" fill="#f7e77f"/>
<polygon points="441.8,1408.1 463.3,1406.7 457.5,1382.7 457.2,1382.1 457.3,1381.9 456.7,1379.5 447.8,1374.9 437.5,1378.3 432.5,1396.8" fill="#f0aa3e"/>
<polygon points="727.7,1518.8 717.3,1531.0 721.0,1532.0 719.2,1537.5 725.0,1542.3 725.5,1542.0 734.0,1544.0 744.1,1542.4 752.4,1537.2 752.2,1535.7 751.0,1534.0 751.6,1532.9 749.8,1522.6" fill="#df442c"/>
<polygon points="733.4,1549.2 744.1,1542.4 734.0,1544.0 725.5,1542.0 725.0,1542.3" fill="#f0aa3e"/>
<polygon points="714.8,1533.9 719.2,1537.5 721.0,1532.0 717.3,1531.0" fill="#a91c1c"/>
<polygon points="425.2,1328.9 438.0,1311.3 427.7,1292.9 406.6,1293.4 410.4,1325.0" fill="#d5412a"/>
<polygon points="616.0,1156.9 646.1,1155.0 646.4,1142.5 646.0,1142.8 645.0,1150.0 636.1,1145.8 632.7,1146.2 629.2,1145.6 623.1,1147.2 616.8,1144.7 612.5,1145.0" fill="#f0aa3e"/>
<polygon points="627.4,1118.4 615.8,1129.1 609.5,1134.9 611.6,1142.1 611.8,1142.1 611.9,1142.9 612.5,1145.0 616.8,1144.7 623.1,1147.2 629.2,1145.6 632.7,1146.2 636.1,1145.8 645.0,1150.0 646.0,1142.8 646.4,1142.5 646.7,1128.7" fill="#f0e17b"/>
<polygon points="687.4,1190.1 683.3,1190.2 675.2,1188.7 667.3,1185.1 659.0,1186.0 662.5,1194.5 661.3,1203.6 660.9,1212.5 661.4,1214.9 683.0,1211.3" fill="#dc442b"/>
<polygon points="687.9,1187.6 660.0,1171.2 643.3,1192.9 658.4,1215.4 661.4,1214.9 660.9,1212.5 661.3,1203.6 662.5,1194.5 659.0,1186.0 667.3,1185.1 675.2,1188.7 683.3,1190.2 687.4,1190.1" fill="#f0aa3e"/>
<polygon points="717.0,1022.7 712.0,1027.2 717.4,1050.3 724.4,1052.4 732.9,1055.5 741.1,1059.6 745.1,1060.7 758.2,1042.7 757.7,1026.6" fill="#d34129"/>
<polygon points="720.5,1063.6 723.4,1065.5 744.6,1061.4 745.1,1060.7 741.1,1059.6 732.9,1055.5 724.4,1052.4 717.4,1050.3" fill="#eba63c"/>
<polygon points="582.6,1271.1 596.2,1277.6 601.0,1278.0 601.7,1269.3 601.7,1260.4 603.6,1251.9 605.3,1243.9 605.9,1243.0 604.2,1240.8 591.2,1241.0" fill="#d7422a"/>
<polygon points="610.2,1284.3 610.5,1284.2 622.4,1273.5 622.7,1264.8 605.9,1243.0 605.3,1243.9 603.6,1251.9 601.7,1260.4 601.7,1269.3 601.0,1278.0 596.2,1277.6" fill="#f3ac3f"/>
<polygon points="709.5,1478.7 705.0,1486.0 696.6,1488.3 690.0,1494.0 685.6,1493.1 688.1,1505.0 696.0,1509.7 701.0,1507.2 696.0,1498.0 705.8,1495.5 713.1,1493.6 711.9,1479.1" fill="#d4412a"/>
<polygon points="692.8,1476.3 685.1,1490.7 685.6,1493.1 690.0,1494.0 696.6,1488.3 705.0,1486.0 709.5,1478.7" fill="#f3ac3e"/>
<polygon points="713.8,1500.8 713.1,1493.6 705.8,1495.5 696.0,1498.0 701.0,1507.2" fill="#f7e77f"/>
<polygon points="804.0,1542.7 800.1,1533.8 799.9,1533.7 783.6,1530.2 768.8,1547.8 793.7,1558.1" fill="#a31b1b"/>
<polygon points="612.1,1734.2 613.0,1737.0 622.1,1737.0" fill="#db432b"/>
<polygon points="556.4,1262.1 547.1,1274.1 548.0,1280.0 557.3,1280.8 566.3,1276.9 575.5,1276.1 576.2,1276.1 576.8,1276.2 578.2,1272.6" fill="#d24129"/>
<polygon points="542.4,1280.1 556.3,1301.5 557.3,1301.8 568.1,1297.8 576.8,1276.2 576.2,1276.1 575.5,1276.1 566.3,1276.9 557.3,1280.8 548.0,1280.0 547.1,1274.1" fill="#e9a53c"/>
<polygon points="661.7,966.2 664.0,966.0 664.1,975.5 664.0,975.8 665.5,977.8 667.0,976.0 675.8,958.3 672.7,957.6 662.5,964.0 663.0,965.0 661.8,965.5" fill="#f1ab3e"/>
<polygon points="660.7,971.3 664.0,975.8 664.1,975.5 664.0,966.0 661.7,966.2" fill="#f0e07b"/>
<polygon points="658.7,981.5 659.9,984.5 665.5,977.8 660.7,971.3" fill="#fbeb81"/>
<polygon points="715.1,1651.7 730.4,1659.0 737.5,1649.9 732.5,1647.7 724.3,1646.5 717.0,1643.0 715.8,1637.2 710.2,1642.6" fill="#d8422a"/>
<polygon points="747.1,1637.6 733.4,1620.3 715.8,1637.2 717.0,1643.0 724.3,1646.5 732.5,1647.7 737.5,1649.9" fill="#a51b1b"/>
<polygon points="358.8,1383.9 369.5,1390.2 375.5,1387.3 370.7,1381.3 370.8,1377.5 363.0,1378.0 358.7,1383.5" fill="#dd442b"/>
<polygon points="358.7,1383.5 363.0,1378.0 370.8,1377.5 371.0,1372.0 370.7,1381.3 375.5,1387.3 382.8,1383.9 388.7,1352.2 365.0,1346.6 352.4,1355.0" fill="#e8a43b"/>
<polygon points="434.8,1161.1 439.4,1161.3 447.2,1164.1 454.7,1168.3 463.0,1169.0 460.7,1178.3 460.9,1184.9 461.0,1185.0 464.3,1185.8 471.3,1182.4 475.3,1163.6 448.7,1149.5" fill="#dc442b"/>
<polygon points="430.3,1164.9 429.9,1167.0 436.4,1184.7 449.9,1192.8 464.3,1185.8 461.0,1185.0 460.9,1184.9 460.7,1178.3 463.0,1169.0 454.7,1168.3 447.2,1164.1 439.4,1161.3 434.8,1161.1" fill="#e8a43c"/>
<polygon points="483.6,1343.8 491.3,1345.0 490.7,1339.9 486.8,1332.5 487.0,1330.0 480.6,1330.2" fill="#d34129"/>
<polygon points="479.3,1324.5 480.6,1330.2 487.0,1330.0 486.8,1332.5 490.7,1339.9 491.3,1345.0 507.2,1347.5 508.5,1325.0 487.3,1314.8" fill="#f7af3f"/>
<polygon points="731.2,1693.0 731.2,1694.2 742.9,1710.0 763.1,1706.8 764.8,1684.4 760.7,1680.9" fill="#db432b"/>
<polygon points="716.3,1567.3 717.9,1584.7 728.3,1591.1 743.8,1580.5 743.9,1578.5 742.0,1580.0 738.0,1567.0 729.9,1561.3 728.8,1561.0" fill="#d4412a"/>
<polygon points="731.9,1559.5 728.8,1561.0 729.9,1561.3 738.0,1567.0 742.0,1580.0 743.9,1578.5 744.3,1572.4" fill="#e9a53c"/>
<polygon points="550.8,1473.9 538.3,1449.3 532.2,1451.3 521.6,1473.8 539.0,1486.2" fill="#e0452c"/>
<polygon points="488.1,1445.5 483.7,1438.1 459.9,1436.3 456.2,1438.8 462.7,1460.7 479.1,1467.6" fill="#db432b"/>
<polygon points="574.1,1338.0 573.0,1342.0 571.5,1344.7 573.2,1344.1 576.0,1342.8 575.2,1341.2 574.9,1338.4 574.1,1338.0" fill="#dd442b"/>
<polygon points="597.0,1367.8 600.3,1352.6 599.6,1351.2 595.1,1348.8 592.0,1353.0 589.9,1360.0 590.0,1360.0 589.6,1362.1 590.0,1369.9" fill="#d34129"/>
<polygon points="572.9,1338.2 570.9,1344.9 571.5,1344.7 573.0,1342.0 574.1,1338.0" fill="#f2ab3e"/>
<polygon points="566.6,1360.0 577.6,1373.7 586.6,1370.9 587.0,1370.4 589.5,1370.1 590.0,1369.9 589.6,1362.1 590.0,1360.0 589.9,1360.0 592.0,1353.0 595.1,1348.8 574.9,1338.4 575.2,1341.2 579.0,1349.0 576.0,1342.8 573.2,1344.1 570.9,1344.9" fill="#f2e27c"/>
<polygon points="533.2,1676.9 533.6,1678.9 534.4,1687.0 536.0,1695.0 530.3,1695.5 532.8,1697.0 553.5,1701.7 558.2,1684.4 541.1,1675.5 535.0,1676.1 534.9,1676.1" fill="#d4412a"/>
<polygon points="529.2,1678.8 529.9,1695.3 530.3,1695.5 536.0,1695.0 534.4,1687.0 533.6,1678.9 533.2,1676.9" fill="#eda83d"/>
<polygon points="534.9,1676.1 535.0,1676.1 541.1,1675.5 538.8,1674.3" fill="#a91c1c"/>
<polygon points="669.8,1461.5 663.0,1463.6 654.0,1463.0 656.2,1453.3 651.6,1443.7 652.1,1441.6 646.5,1442.5 643.5,1461.4 659.2,1471.8 669.9,1463.3" fill="#d6422a"/>
<polygon points="668.8,1442.1 664.2,1439.4 652.1,1441.6 651.6,1443.7 656.2,1453.3 654.0,1463.0 663.0,1463.6 669.8,1461.5" fill="#eea83d"/>
<polygon points="602.1,1622.9 606.1,1629.4 607.2,1621.2 605.8,1617.5 602.2,1620.7" fill="#d34129"/>
<polygon points="636.8,1631.0 630.2,1604.5 620.7,1604.5 610.2,1613.6 613.6,1614.2 620.8,1613.2 623.7,1613.8 629.0,1613.0 628.7,1614.9 629.0,1615.0 628.6,1626.6 630.2,1634.3" fill="#de442b"/>
<polygon points="607.8,1632.2 622.7,1638.1 630.2,1634.3 628.6,1626.6 629.0,1615.0 628.7,1614.9 627.9,1621.0 629.0,1613.0 617.5,1614.8 623.7,1613.8 620.8,1613.2 613.6,1614.2 610.2,1613.6 607.9,1615.7 605.8,1617.5 607.2,1621.2 606.1,1629.4" fill="#f2ab3e"/>
<polygon points="793.6,1575.3 806.0,1592.6 819.5,1583.0 817.5,1582.7 812.3,1574.9 804.0,1573.2 797.0,1569.0 796.2,1568.7" fill="#dd442b"/>
<polygon points="796.9,1566.8 796.2,1568.7 797.0,1569.0 804.0,1573.2 812.3,1574.9 817.5,1582.7 819.5,1583.0 824.4,1579.5 822.6,1565.5" fill="#a71b1b"/>
<polygon points="430.4,1338.3 451.8,1344.9 460.3,1328.0 453.0,1328.0 450.7,1318.6 450.1,1310.6 438.0,1311.3 425.2,1328.9" fill="#de442c"/>
<polygon points="461.1,1326.6 451.4,1310.6 450.1,1310.6 450.7,1318.6 453.0,1328.0 460.3,1328.0" fill="#f0aa3e"/>
<polygon points="476.7,1569.0 469.3,1565.0 461.4,1566.3 450.0,1591.1 469.6,1594.7 479.5,1583.9" fill="#da432b"/>
<polygon points="663.2,1385.7 662.0,1384.0 664.0,1371.0 671.9,1369.2 678.9,1370.3 678.9,1365.9 660.2,1351.5 651.3,1376.0" fill="#da432b"/>
<polygon points="668.2,1389.8 678.7,1380.8 678.9,1370.3 671.9,1369.2 664.0,1371.0 662.0,1384.0 663.2,1385.7" fill="#aa1c1c"/>
<polygon points="402.2,1167.2 399.3,1166.3 399.0,1168.8 395.6,1169.6 389.3,1168.0 368.6,1178.7 368.5,1179.3 395.0,1193.0 398.6,1195.8" fill="#d7422a"/>
<polygon points="395.1,1165.0 389.3,1168.0 395.6,1169.6 399.0,1168.8 399.3,1166.3" fill="#e9a53c"/>
<polygon points="394.1,1481.9 395.3,1489.8 399.8,1497.9 400.0,1507.0 404.0,1507.0 411.5,1485.6" fill="#d14029"/>
<polygon points="385.0,1479.9 377.5,1495.1 402.6,1511.0 404.0,1507.0 400.0,1507.0 399.8,1497.9 395.3,1489.8 394.1,1481.9" fill="#eba63c"/>
<polygon points="837.9,1589.6 844.1,1587.4 842.6,1587.3 834.2,1586.2 832.9,1585.9" fill="#d24029"/>
<polygon points="822.6,1565.5 824.4,1579.5 832.9,1585.9 834.2,1586.2 842.6,1587.3 844.1,1587.4 851.0,1585.1 851.0,1580.0 830.8,1563.0 828.2,1561.5 824.9,1561.4" fill="#ac1c1c"/>
<polygon points="319.9,1268.8 319.3,1263.9 318.4,1261.8 317.6,1261.7 317.0,1262.0 319.6,1268.5" fill="#d8422a"/>
<polygon points="351.2,1253.6 347.0,1249.0 330.4,1256.2 332.7,1256.8 340.7,1253.5 349.0,1253.0 347.3,1263.3 348.3,1266.3" fill="#f4ad3f"/>
<polygon points="348.1,1267.4 348.3,1266.3 347.3,1263.3 349.0,1253.0 340.7,1253.5 332.7,1256.8 330.4,1256.2 318.3,1261.4 319.3,1263.9 319.9,1268.8 328.8,1278.3" fill="#ecdc79"/>
<polygon points="524.8,1077.7 521.8,1080.0 527.5,1080.1 527.7,1078.2" fill="#d8422a"/>
<polygon points="517.8,1115.2 530.0,1113.6 529.8,1113.1 525.6,1106.1 521.9,1104.7 515.2,1107.7" fill="#de442c"/>
<polygon points="527.7,1078.2 527.5,1080.1 529.0,1080.2 534.9,1079.5" fill="#f2ab3e"/>
<polygon points="509.2,1090.3 515.2,1107.7 521.9,1104.7 525.6,1106.1 525.0,1105.0 525.0,1096.3 519.0,1088.9 519.6,1083.1 518.5,1082.8" fill="#eea93d"/>
<polygon points="542.7,1080.9 534.9,1079.5 529.0,1080.2 521.8,1080.0 519.8,1081.7 519.0,1088.9 525.0,1096.3 525.0,1105.0 529.8,1113.1 530.0,1113.6 552.6,1110.7 552.6,1092.7" fill="#f4e47d"/>
<polygon points="614.4,1702.4 615.5,1690.7 599.2,1672.8 578.8,1680.6 582.0,1704.6 585.6,1707.6 588.0,1708.0 588.8,1708.3 606.6,1708.2" fill="#d24129"/>
<polygon points="862.1,1310.8 885.8,1322.3 889.0,1290.0 889.0,1290.0 887.4,1290.1 884.4,1290.8 877.7,1294.7 870.3,1301.4 861.5,1302.9" fill="#d34129"/>
<polygon points="860.1,1283.8 861.5,1302.9 870.3,1301.4 877.7,1294.7 884.4,1290.8 887.4,1290.1 889.0,1290.0 889.0,1290.0 889.6,1284.6 868.2,1275.3" fill="#eaa53c"/>
<polygon points="535.3,1634.9 565.2,1626.1 565.0,1615.9 548.9,1598.1 534.0,1603.6 533.5,1604.2" fill="#d7422a"/>
<polygon points="877.3,1076.9 866.0,1068.8 870.0,1075.1 877.3,1078.6" fill="#d7422a"/>
<polygon points="837.2,1079.6 842.0,1075.0 851.2,1074.3 859.9,1078.2 869.2,1076.6 877.3,1078.8 877.3,1078.6 870.0,1075.1 866.0,1068.8 864.1,1067.4 848.0,1070.6 845.2,1073.9 839.3,1075.6" fill="#f6ae3f"/>
<polygon points="839.3,1075.6 845.2,1073.9 848.0,1070.6 841.1,1072.0" fill="#efdf7a"/>
<polygon points="831.8,1090.1 858.0,1111.0 877.5,1096.0 877.3,1078.8 869.2,1076.6 859.9,1078.2 851.2,1074.3 842.0,1075.0 837.2,1079.6" fill="#f0e17b"/>
<polygon points="747.0,1244.7 749.0,1236.0 757.7,1235.5 759.9,1236.6 764.0,1202.6 747.0,1204.1 745.3,1209.1 748.8,1217.7 747.0,1226.0 739.8,1229.9 731.9,1231.9 726.0,1233.5 729.8,1243.8" fill="#eca73d"/>
<polygon points="758.9,1245.3 759.9,1236.6 757.7,1235.5 749.0,1236.0 747.0,1244.7" fill="#efdf7b"/>
<polygon points="729.0,1205.6 721.9,1222.6 726.0,1233.5 731.9,1231.9 739.8,1229.9 747.0,1226.0 748.8,1217.7 745.3,1209.1 747.0,1204.1" fill="#f1e17c"/>
<polygon points="912.5,1243.6 915.3,1241.0 913.0,1229.0 905.0,1203.0 905.0,1195.4 885.3,1207.6 900.3,1239.4" fill="#eba63c"/>
<polygon points="781.0,1517.9 782.2,1523.2 788.6,1528.7 797.0,1532.0 799.9,1533.7 800.0,1533.7 801.1,1532.2 799.0,1530.0 781.8,1517.0" fill="#d8422a"/>
<polygon points="783.6,1530.2 799.9,1533.7 797.0,1532.0 788.6,1528.7 782.2,1523.2" fill="#a21b1b"/>
<polygon points="482.0,1254.3 476.8,1264.4 483.5,1279.1 485.8,1271.0 485.9,1265.3 489.1,1264.9 497.0,1261.0 496.9,1254.2" fill="#df442c"/>
<polygon points="519.3,1278.2 515.5,1260.3 510.8,1259.2 503.0,1256.0 503.1,1254.1 496.9,1254.2 497.0,1261.0 489.1,1264.9 485.9,1265.3 485.8,1271.0 483.5,1279.1 489.8,1292.8 514.4,1286.1" fill="#eda83d"/>
<polygon points="514.2,1254.0 503.1,1254.1 503.0,1256.0 510.8,1259.2 515.5,1260.3" fill="#ad1c1c"/>
<polygon points="752.6,1462.4 752.3,1473.6 758.3,1480.7 756.0,1463.0 755.8,1462.2" fill="#f3ac3e"/>
<polygon points="681.2,1587.5 672.9,1579.0 658.1,1578.5 644.1,1596.5 655.0,1604.9 672.7,1603.8" fill="#db432b"/>
<polygon points="713.0,1716.7 741.9,1713.8 742.9,1710.0 731.2,1694.2 713.0,1716.2" fill="#d8422a"/>
<polygon points="411.5,1485.6 416.4,1482.5 415.4,1471.2 406.2,1463.7 405.9,1466.4 400.0,1475.0 407.9,1477.2 403.5,1478.2 394.0,1481.0 394.1,1481.9" fill="#df452c"/>
<polygon points="382.7,1470.5 385.0,1479.9 394.1,1481.9 394.0,1481.0 403.5,1478.2 407.9,1477.2 400.0,1475.0 405.9,1466.4 406.2,1463.7 394.8,1454.5" fill="#e9a53c"/>
<polygon points="369.5,1390.2 369.5,1410.4 377.0,1414.7 382.0,1414.0 382.8,1408.8 379.0,1407.0 378.2,1398.0 376.9,1389.1 375.5,1387.3" fill="#db432b"/>
<polygon points="407.7,1413.8 409.6,1406.0 400.7,1389.4 382.8,1383.9 375.5,1387.3 376.9,1389.1 378.2,1398.0 379.0,1407.0 382.8,1408.8 382.0,1414.0 377.0,1414.7 395.3,1425.2" fill="#eca73d"/>
<polygon points="755.4,1393.6 754.0,1384.0 746.0,1374.0 744.9,1366.0 746.4,1362.7 745.1,1362.1 737.6,1382.7 741.2,1389.9" fill="#db432b"/>
<polygon points="759.8,1394.8 768.8,1386.1 765.8,1372.1 746.4,1362.7 744.9,1366.0 746.0,1374.0 754.0,1384.0 755.4,1393.6" fill="#f3ac3e"/>
<polygon points="326.6,1318.4 326.0,1323.0 320.7,1328.7 313.1,1336.7 323.4,1350.0 329.3,1351.6 334.0,1349.0 336.6,1348.0 338.3,1324.0" fill="#d34129"/>
<polygon points="332.4,1352.4 336.4,1351.1 336.6,1348.0 334.0,1349.0 329.3,1351.6" fill="#eaa63c"/>
<polygon points="444.9,1484.4 448.6,1486.3 458.0,1485.0 461.1,1490.3 461.6,1490.2 459.6,1486.6 453.0,1478.0 463.3,1479.7 473.5,1481.3 474.9,1481.3 479.3,1467.9 479.1,1467.6 462.7,1460.7 446.4,1474.3" fill="#d14029"/>
<polygon points="458.3,1491.3 461.1,1490.3 458.0,1485.0 448.6,1486.3" fill="#f0e07b"/>
<polygon points="473.3,1486.2 474.9,1481.3 473.5,1481.3 463.3,1479.7 453.0,1478.0 459.6,1486.6 461.6,1490.2" fill="#a31b1b"/>
<polygon points="682.3,1713.6 684.0,1718.0 700.0,1718.0 713.0,1716.7 713.0,1716.2 698.7,1698.1 691.1,1698.3" fill="#d7422a"/>
<polygon points="681.5,1715.0 684.0,1718.0 684.0,1718.0 682.3,1713.6" fill="#fcf6cc"/>
<polygon points="757.1,1507.9 764.0,1494.4 759.0,1486.0 758.3,1480.9 750.7,1480.2 743.1,1480.4 736.5,1485.3 736.6,1494.6" fill="#d6422a"/>
<polygon points="752.3,1473.6 743.1,1480.4 750.7,1480.2 758.3,1480.9 758.3,1480.7" fill="#eca73d"/>
<polygon points="519.8,1081.7 520.0,1080.0 521.8,1080.0 524.8,1077.7 516.6,1045.3 502.7,1041.5 491.6,1052.1 492.8,1056.6 492.2,1065.4 489.8,1073.7 503.0,1086.7 507.2,1087.5 514.8,1081.8 518.5,1082.8" fill="#d8422a"/>
<polygon points="518.5,1082.8 514.8,1081.8 507.2,1087.5 503.0,1086.7 506.3,1089.8 509.2,1090.3" fill="#eca73d"/>
<polygon points="479.5,1063.7 489.8,1073.7 492.2,1065.4 492.8,1056.6 491.6,1052.1" fill="#f3ac3f"/>
<polygon points="373.7,1496.9 358.3,1490.5 355.1,1491.9 357.9,1515.8 368.8,1515.0" fill="#f3ac3e"/>
<polygon points="811.1,1338.9 815.0,1335.2 814.0,1304.4 808.5,1303.4 809.0,1304.6 807.0,1313.9 809.0,1323.0 800.5,1325.3 792.0,1323.0 792.7,1311.8 790.2,1302.0 789.6,1301.9 787.0,1302.0 781.4,1319.9 807.4,1339.2" fill="#d34129"/>
<polygon points="787.8,1299.6 787.2,1301.4 790.0,1301.0 792.7,1311.8 792.0,1323.0 800.5,1325.3 809.0,1323.0 807.0,1313.9 809.0,1304.6 808.5,1303.4" fill="#f0e07b"/>
<polygon points="525.5,1556.1 525.4,1555.8 525.0,1556.0 525.0,1554.7 517.0,1555.0 513.0,1540.0 519.2,1538.8 517.9,1537.0 517.7,1536.1 515.9,1535.0 495.6,1541.4 495.8,1559.7 502.9,1564.0" fill="#db432b"/>
<polygon points="525.1,1554.7 520.0,1537.4 517.7,1536.1 517.9,1537.0 519.2,1538.8 513.0,1540.0 517.0,1555.0 525.0,1554.7 525.0,1556.0 525.4,1555.8" fill="#ad1c1c"/>
<polygon points="657.7,1696.1 666.2,1693.1 678.0,1694.0 681.1,1701.7 681.0,1710.3 682.3,1713.6 691.1,1698.3 681.7,1687.7 662.0,1688.4 656.4,1693.0 656.4,1693.5" fill="#db432b"/>
<polygon points="667.7,1715.0 681.5,1715.0 682.3,1713.6 681.0,1710.3 681.1,1701.7 678.0,1694.0 666.2,1693.1 657.7,1696.1" fill="#f2edc5"/>
<polygon points="715.2,1263.4 722.3,1275.5 722.5,1271.7 725.4,1261.5 724.1,1251.4" fill="#e0452c"/>
<polygon points="748.7,1281.9 749.0,1280.0 757.3,1281.4 757.4,1281.4 757.4,1281.4 760.6,1269.7 754.7,1266.7 749.0,1259.0 746.4,1247.5 747.0,1244.7 729.8,1243.8 724.1,1251.4 725.4,1261.5 722.5,1271.7 722.3,1275.5 726.7,1283.0" fill="#e7a43b"/>
<polygon points="757.3,1281.4 749.0,1280.0 748.7,1281.9" fill="#eddd7a"/>
<polygon points="765.7,1250.5 758.9,1245.3 747.0,1244.7 746.4,1247.5 749.0,1259.0 754.7,1266.7 760.6,1269.7" fill="#f9e980"/>
<polygon points="804.6,1602.7 800.0,1607.9 799.9,1626.0 810.2,1629.5 822.0,1622.0 830.0,1609.0 832.5,1607.7" fill="#d7422a"/>
<polygon points="598.6,1003.2 600.0,1010.0 608.0,1008.0 607.0,1002.8" fill="#d24029"/>
<polygon points="623.3,1038.3 627.0,1008.7 625.2,1006.6 622.0,1004.7 610.9,1007.3 607.4,1005.2 608.0,1008.0 600.0,1010.0 598.6,1003.2 593.2,1003.4 588.6,1018.2 617.6,1043.1" fill="#f0aa3e"/>
<polygon points="621.4,1002.2 607.0,1002.8 607.4,1005.2 610.9,1007.3 622.0,1004.7 625.2,1006.6" fill="#fdec82"/>
<polygon points="456.7,1693.3 459.1,1707.9 483.8,1706.0 483.5,1684.2 483.1,1683.7 480.9,1680.1" fill="#f0aa3e"/>
<polygon points="758.2,1042.7 745.1,1060.7 750.0,1062.0 758.6,1054.7 769.0,1050.0 769.6,1048.9" fill="#d6422a"/>
<polygon points="744.6,1061.4 749.6,1068.1 750.0,1062.0 745.1,1060.7" fill="#e9a53c"/>
<polygon points="760.3,1057.2 769.0,1050.0 758.6,1054.7 750.0,1062.0" fill="#e8a43c"/>
<polygon points="792.4,1061.4 769.7,1049.0 769.0,1050.0 760.3,1057.2 750.0,1062.0 749.6,1068.1 767.3,1092.4 771.7,1091.9 792.1,1072.9" fill="#fbeb81"/>
<polygon points="791.0,1390.2 797.5,1376.8 795.1,1372.4 791.2,1373.8 783.0,1374.0 776.7,1384.2 776.2,1387.5" fill="#d8422a"/>
<polygon points="785.8,1355.9 781.4,1355.2 777.5,1359.5 782.9,1360.5 788.7,1361.1" fill="#df452c"/>
<polygon points="776.2,1387.5 776.7,1384.2 783.0,1374.0 791.2,1373.8 795.1,1372.4 788.7,1361.1 782.9,1360.5 777.5,1359.5 765.8,1372.1 768.8,1386.1" fill="#e8a43c"/>
<polygon points="582.0,1704.6 577.4,1706.1 585.6,1707.6" fill="#d5412a"/>
<polygon points="685.0,1644.8 677.9,1656.0 689.8,1670.1 700.2,1670.5 715.1,1651.7 710.2,1642.6 709.6,1642.3" fill="#d24029"/>
<polygon points="739.8,1315.7 749.3,1314.3 756.7,1301.5 748.0,1300.0 738.5,1297.5 729.4,1293.1 727.2,1293.2" fill="#d7422a"/>
<polygon points="727.2,1293.2 729.4,1293.1 738.5,1297.5 748.0,1300.0 756.7,1301.5 757.6,1299.9 749.0,1297.0 747.8,1288.5 748.7,1281.9 726.7,1283.0 725.7,1290.5" fill="#e8a43c"/>
<polygon points="763.1,1290.4 757.4,1281.4 757.4,1281.4 757.4,1281.4 757.3,1281.4 748.7,1281.9 747.8,1288.5 749.0,1297.0 757.6,1299.9" fill="#f0e17b"/>
<polygon points="689.3,1413.9 695.6,1403.7 695.0,1402.5 694.2,1397.8 687.5,1401.0 676.5,1402.9 677.7,1409.3" fill="#d7422a"/>
<polygon points="667.1,1399.0 667.5,1399.0 673.4,1399.7 668.7,1393.7 667.9,1392.5" fill="#d6422a"/>
<polygon points="705.5,1387.9 705.5,1387.2 697.0,1385.2 697.3,1387.0 698.0,1396.0 694.2,1397.8 695.0,1402.5 695.6,1403.7" fill="#e8a43c"/>
<polygon points="677.7,1409.3 676.0,1400.0 667.5,1399.0 667.1,1399.0 666.4,1404.8" fill="#eddd79"/>
<polygon points="678.7,1380.8 668.2,1389.8 667.9,1392.5 668.7,1393.7 673.4,1399.7 676.0,1400.0 676.5,1402.9 687.5,1401.0 698.0,1396.0 697.3,1387.0 697.0,1385.2" fill="#ad1c1c"/>
<polygon points="565.3,1654.3 573.2,1644.0 573.6,1636.3 565.2,1626.1 535.3,1634.9 533.7,1638.2 536.0,1635.0 544.3,1638.2 551.1,1643.4 557.1,1649.6 561.5,1654.3" fill="#d4412a"/>
<polygon points="545.7,1654.5 561.5,1654.3 557.1,1649.6 551.1,1643.4 544.3,1638.2 536.0,1635.0 533.7,1638.2 533.7,1638.2" fill="#a81c1c"/>
<polygon points="636.9,1664.3 636.2,1679.7 656.4,1693.0 662.0,1688.4 666.0,1658.1 655.2,1652.6" fill="#d7422a"/>
<polygon points="371.7,1055.2 364.0,1058.0 375.2,1057.1" fill="#f0aa3e"/>
<polygon points="548.9,1598.1 565.0,1615.9 587.3,1603.3 586.9,1593.7 578.9,1586.2 552.5,1591.5" fill="#d24129"/>
<polygon points="472.9,1613.7 469.5,1616.3 466.7,1636.4 470.3,1640.4 471.2,1639.0 474.0,1629.0 470.6,1621.0 473.0,1613.7" fill="#d6422a"/>
<polygon points="483.2,1614.8 473.0,1613.7 470.6,1621.0 474.0,1629.0 471.2,1639.0 470.3,1640.4 475.5,1646.2 496.7,1636.4 497.1,1635.6" fill="#a31b1b"/>
<polygon points="591.2,1241.0 604.2,1240.8 608.8,1235.5 609.0,1230.0 608.8,1229.2 610.0,1226.5 612.0,1218.0 609.0,1208.5 609.3,1202.7 596.5,1201.0 583.1,1210.6 589.7,1239.7" fill="#d9432b"/>
<polygon points="619.6,1222.8 616.4,1203.6 609.3,1202.7 609.0,1208.5 612.0,1218.0 610.0,1226.5 608.8,1229.2 609.0,1230.0 608.8,1235.5" fill="#f7af3f"/>
<polygon points="378.0,1230.7 366.2,1250.8 381.8,1263.4 397.5,1258.1 394.7,1252.4 395.2,1242.3 390.0,1234.0 392.6,1234.0 389.0,1230.3" fill="#f1ab3e"/>
<polygon points="406.8,1255.0 406.7,1248.5 392.6,1234.0 390.0,1234.0 395.2,1242.3 394.7,1252.4 397.5,1258.1" fill="#fbea81"/>
<polygon points="651.3,1376.0 660.2,1351.5 659.8,1350.3 631.3,1350.3 628.5,1353.5 631.4,1379.9" fill="#d4412a"/>
<polygon points="871.5,1027.8 876.4,1016.4 875.8,1015.0 874.2,1013.1 871.9,1005.0 871.7,1004.4 867.4,997.1 867.5,993.5 865.6,988.6 863.0,983.0 860.4,981.0 851.6,978.5 824.7,1000.6 836.7,1027.4" fill="#d14029"/>
<polygon points="871.9,1005.0 874.2,1013.1 875.8,1015.0" fill="#f0aa3e"/>
<polygon points="867.5,993.5 867.4,997.1 871.7,1004.4" fill="#efa93d"/>
<polygon points="829.2,1039.8 829.5,1040.1 833.0,1040.4 840.6,1044.1 847.0,1050.0 852.0,1057.1 859.4,1061.6 864.3,1066.6 872.5,1030.2 871.5,1027.8 836.7,1027.4" fill="#da432b"/>
<polygon points="864.1,1067.4 864.3,1066.6 859.4,1061.6 852.0,1057.1 847.0,1050.0 850.8,1058.1 851.0,1067.0 848.0,1070.6" fill="#eda83d"/>
<polygon points="840.6,1044.1 833.0,1040.4 829.5,1040.1 832.1,1042.4 838.4,1048.5 847.0,1050.0" fill="#f2ab3e"/>
<polygon points="826.3,1044.6 841.1,1072.0 848.0,1070.6 851.0,1067.0 850.8,1058.1 847.0,1050.0 838.4,1048.5 832.1,1042.4 829.2,1039.8" fill="#f8e87f"/>
<polygon points="576.0,1425.2 574.6,1418.6 552.5,1407.9 542.0,1413.6 539.1,1418.9 543.5,1442.7 563.5,1444.1" fill="#df442c"/>
<polygon points="700.1,1615.4 709.6,1642.3 710.2,1642.6 715.8,1637.2 714.9,1632.5 713.0,1622.0 721.4,1619.9 729.9,1619.1 733.4,1620.1 733.0,1614.6 729.7,1611.2 703.8,1610.6" fill="#d6422a"/>
<polygon points="733.4,1620.3 733.4,1620.1 729.9,1619.1 721.4,1619.9 713.0,1622.0 714.9,1632.5 715.8,1637.2" fill="#a71b1b"/>
<polygon points="636.2,1679.7 636.9,1664.3 625.5,1656.4 600.6,1667.4 599.2,1672.8 615.5,1690.7" fill="#dd442b"/>
<polygon points="814.0,1304.4 814.4,1304.1 814.0,1304.0 814.0,1303.2 810.2,1301.3 807.8,1301.7 808.5,1303.4" fill="#d4412a"/>
<polygon points="814.6,1304.0 820.7,1274.1 816.2,1264.4 799.8,1269.3 800.2,1270.5 800.1,1275.6 807.0,1277.0 808.9,1286.1 805.3,1295.5 807.8,1301.7 810.2,1301.3 814.0,1303.2 814.0,1304.0 814.4,1304.1" fill="#e9a53c"/>
<polygon points="787.8,1299.6 808.5,1303.4 805.3,1295.5 808.9,1286.1 807.0,1277.0 800.1,1275.6 800.2,1270.5 799.8,1269.3 793.9,1271.0 786.1,1296.7" fill="#f1e17c"/>
<polygon points="636.8,1631.0 650.8,1634.3 654.1,1630.7 655.0,1604.9 644.1,1596.5 641.9,1596.4 630.2,1604.5" fill="#d24129"/>
<polygon points="626.2,1504.9 630.7,1486.3 628.8,1483.1 601.8,1478.2 597.7,1485.8 614.4,1509.9 616.2,1510.3" fill="#dd442b"/>
<polygon points="659.8,1350.3 660.2,1351.5 678.9,1365.9 695.8,1355.8 696.5,1345.8 681.9,1330.6 681.9,1330.5 662.9,1342.2" fill="#dd442b"/>
<polygon points="780.4,1021.3 780.6,1019.2 784.0,1010.0 793.3,1012.4 798.8,1015.3 813.0,997.7 795.6,977.5 761.2,1003.8 762.4,1019.3" fill="#d6422a"/>
<polygon points="782.3,1021.5 782.9,1019.7 784.0,1010.0 780.6,1019.2 780.4,1021.3" fill="#e9a53c"/>
<polygon points="792.8,1022.7 798.8,1015.3 793.3,1012.4 784.0,1010.0 782.9,1019.7 782.3,1021.5" fill="#edde7a"/>
<polygon points="710.2,1371.9 695.8,1355.8 678.9,1365.9 678.9,1370.3 680.0,1370.5 688.1,1371.1 696.0,1369.0 696.1,1374.0 705.0,1375.5 710.3,1374.9" fill="#d5412a"/>
<polygon points="710.3,1374.9 705.0,1375.5 696.1,1374.0 696.2,1378.0 697.0,1385.2 705.5,1387.2 710.5,1379.5" fill="#e9a53c"/>
<polygon points="678.7,1380.8 697.0,1385.2 696.2,1378.0 696.0,1369.0 688.1,1371.1 680.0,1370.5 678.9,1370.3" fill="#a71b1b"/>
<polygon points="450.1,1310.6 450.0,1309.0 453.4,1307.7 460.6,1297.7 449.6,1273.8 444.3,1271.9 427.7,1292.9 438.0,1311.3" fill="#da432b"/>
<polygon points="451.4,1310.6 453.4,1307.7 450.0,1309.0 450.1,1310.6" fill="#eba63c"/>
<polygon points="658.4,1215.4 643.3,1192.9 625.4,1194.0 616.4,1203.6 619.6,1222.8 647.8,1235.2" fill="#e8a43c"/>
<polygon points="634.0,1213.0 634.0,1198.0 622.0,1200.0 624.0,1215.0" fill="#f8e87f"/>
<polygon points="607.0,1002.8 606.0,998.0 598.0,1000.0 598.6,1003.2" fill="#d24029"/>
<polygon points="588.4,993.6 593.2,1003.4 598.6,1003.2 598.0,1000.0 603.2,998.7 605.2,993.3 605.0,984.0 600.9,971.7" fill="#eaa63c"/>
<polygon points="621.7,972.0 604.7,971.5 604.0,972.0 603.6,971.4 601.1,971.3 600.9,971.7 605.0,984.0 605.2,993.3 603.2,998.7 606.0,998.0 607.0,1002.8 621.4,1002.2 628.0,983.3" fill="#f1e17c"/>
<polygon points="775.8,1581.5 774.4,1584.8 780.7,1601.6 800.0,1607.9 804.6,1602.7 806.0,1592.6 793.6,1575.3" fill="#d7422a"/>
<polygon points="448.9,1637.6 446.4,1659.6 453.0,1660.0 458.3,1662.2 464.9,1661.7 464.2,1659.7 466.0,1648.0 470.3,1640.4 466.7,1636.4" fill="#d24129"/>
<polygon points="446.3,1660.0 448.4,1663.0 458.3,1662.2 453.0,1660.0 446.4,1659.6" fill="#eea93d"/>
<polygon points="472.5,1661.1 475.5,1646.2 470.3,1640.4 466.0,1648.0 464.2,1659.7 464.9,1661.7" fill="#a51b1b"/>
<polygon points="605.8,1617.5 604.0,1613.0 606.2,1613.4 606.0,1613.0 610.2,1613.6 620.7,1604.5 614.2,1593.7 614.0,1595.5 613.0,1605.0 606.5,1604.0 605.0,1604.0 605.0,1603.8 600.0,1603.0 599.6,1593.5 599.8,1587.3 586.9,1593.7 587.3,1603.3 602.2,1620.7" fill="#dc442b"/>
<polygon points="608.3,1583.9 607.3,1583.6 605.2,1584.7 609.1,1585.2" fill="#d9432b"/>
<polygon points="607.9,1615.7 606.2,1613.4 604.0,1613.0 605.8,1617.5" fill="#f6ae3f"/>
<polygon points="610.2,1613.6 606.0,1613.0 607.9,1615.7" fill="#f2ab3e"/>
<polygon points="609.1,1585.2 605.2,1584.7 599.8,1587.3 599.6,1593.5 600.0,1603.0 605.0,1603.8 605.0,1604.0 606.5,1604.0 613.0,1605.0 614.0,1595.5 614.2,1593.7" fill="#ab1c1c"/>
<polygon points="503.8,1691.5 509.0,1692.4 504.9,1686.9 502.9,1688.6" fill="#da432b"/>
<polygon points="529.9,1695.3 529.2,1678.8 519.5,1674.9 504.9,1686.9 509.0,1692.4 524.0,1695.0 527.1,1695.7 527.7,1695.7 529.7,1695.5" fill="#efa93d"/>
<polygon points="535.0,969.3 525.0,966.0 518.3,973.4 516.4,974.2 529.1,981.1 535.1,978.4 536.1,976.3" fill="#f5ad3f"/>
<polygon points="502.6,949.6 502.6,949.4 498.0,958.0 499.9,960.2 499.9,959.1" fill="#f2ab3e"/>
<polygon points="530.5,940.8 503.9,947.0 502.6,949.4 502.6,949.6 499.9,959.1 499.9,960.2 507.9,969.5 516.4,974.2 518.3,973.4 525.0,966.0 535.0,969.3" fill="#fbf6cc"/>
<polygon points="918.6,1339.7 906.1,1322.3 885.8,1322.3 880.2,1337.5 884.4,1352.4 891.0,1347.0 899.0,1351.1 914.4,1346.9" fill="#dc442b"/>
<polygon points="603.9,1400.9 594.0,1402.2 600.2,1402.7 606.9,1408.5 607.0,1408.5" fill="#dc432b"/>
<polygon points="589.9,1402.7 574.6,1418.6 576.0,1425.2 597.5,1437.9 599.5,1437.0 604.6,1424.7 601.0,1418.9 597.8,1409.7 592.3,1402.4" fill="#d5412a"/>
<polygon points="607.0,1408.5 606.9,1408.5 600.2,1402.7 594.0,1402.2 592.3,1402.4 597.8,1409.7 601.0,1418.9 604.6,1424.7 609.2,1413.7" fill="#ab1c1c"/>
<polygon points="846.5,1324.1 862.1,1310.8 861.5,1302.9 861.0,1303.0 855.6,1303.7 853.0,1306.0 843.2,1307.4 838.1,1304.9 834.1,1304.4 834.1,1304.4" fill="#d7422a"/>
<polygon points="860.1,1283.8 848.8,1286.7 834.1,1304.4 838.1,1304.9 843.2,1307.4 853.0,1306.0 855.6,1303.7 861.0,1303.0 861.5,1302.9" fill="#e9a53c"/>
<polygon points="359.1,1312.2 338.3,1324.0 336.6,1348.0 339.3,1347.0 345.0,1346.0 347.8,1346.5 353.0,1343.0 356.1,1346.7 363.2,1342.9 364.9,1343.0 364.1,1315.8" fill="#d24029"/>
<polygon points="336.4,1351.1 352.4,1355.0 365.0,1346.6 364.9,1343.0 363.2,1342.9 356.1,1346.7 358.8,1349.9 353.0,1343.0 345.5,1348.1 347.8,1346.5 345.0,1346.0 339.3,1347.0 336.6,1348.0" fill="#eaa63c"/>
<polygon points="597.5,1437.9 592.7,1451.8 594.7,1456.2 596.6,1465.0 600.8,1469.9 620.5,1456.6 620.0,1443.7 599.5,1437.0" fill="#d5412a"/>
<polygon points="590.5,1457.9 596.6,1465.0 594.7,1456.2 592.7,1451.8" fill="#f2ac3e"/>
<polygon points="856.3,1179.7 856.4,1179.1 842.7,1146.2 831.6,1144.2 803.4,1168.4 803.4,1168.7 827.3,1200.0 827.9,1200.1" fill="#eca73d"/>
<polygon points="799.9,1626.0 796.2,1629.4 794.0,1639.6 797.0,1638.0 810.2,1629.5" fill="#d24029"/>
<polygon points="518.5,1140.8 511.7,1128.4 485.3,1128.7 484.6,1129.2 479.2,1160.5 511.1,1163.5" fill="#f4ad3f"/>
<polygon points="713.0,1716.2 731.2,1694.2 731.2,1693.0 724.8,1685.2 710.1,1684.6 698.7,1698.1" fill="#d9432b"/>
<polygon points="631.0,1737.0 640.0,1737.0 643.5,1730.4 636.9,1729.6" fill="#d14029"/>
<polygon points="678.1,1553.2 683.5,1538.3 668.8,1523.2 657.1,1530.3 655.7,1550.4 677.6,1553.5" fill="#d24029"/>
<polygon points="565.0,1474.0 566.8,1470.8 564.0,1466.0 564.9,1456.0 568.2,1450.9 563.5,1444.1 543.5,1442.7 538.3,1449.3 550.8,1473.9" fill="#d34129"/>
<polygon points="573.6,1459.0 568.2,1450.9 564.9,1456.0 564.0,1466.0 566.8,1470.8" fill="#eda83d"/>
<polygon points="773.0,1192.2 774.0,1186.0 767.4,1186.8 771.4,1193.5" fill="#de442c"/>
<polygon points="803.4,1168.7 803.4,1168.4 779.7,1141.6 777.2,1141.9 754.3,1165.1 767.4,1186.8 774.0,1186.0 773.0,1192.2" fill="#f7af3f"/>
<polygon points="482.2,1374.6 458.4,1379.2 457.3,1381.9 457.5,1382.7 460.7,1389.9 463.0,1398.0 471.5,1401.0 475.8,1403.6 480.2,1403.7 480.5,1404.0 488.7,1394.5 486.3,1388.3 486.8,1380.6 484.7,1375.9" fill="#da432b"/>
<polygon points="463.3,1406.7 465.0,1408.0 478.2,1406.5 479.1,1405.5 471.5,1401.0 463.0,1398.0 460.7,1389.9 457.5,1382.7" fill="#eba63c"/>
<polygon points="480.5,1404.0 480.2,1403.7 475.8,1403.6 479.1,1405.5" fill="#eea93d"/>
<polygon points="491.6,1391.1 486.8,1380.6 486.3,1388.3 488.7,1394.5" fill="#eda83d"/>
<polygon points="800.0,1533.7 800.1,1533.8 805.5,1537.0 811.8,1544.2 812.1,1544.9 813.1,1545.1 801.1,1532.2" fill="#d6422a"/>
<polygon points="804.0,1542.7 812.1,1544.9 811.8,1544.2 805.5,1537.0 800.1,1533.8" fill="#a21b1b"/>
<polygon points="480.5,1404.0 483.3,1406.6 481.7,1407.0 487.0,1410.0 481.9,1412.6 489.4,1425.0 509.6,1420.2 507.8,1408.5 507.2,1408.4 500.0,1402.0 499.6,1400.5 490.0,1398.0 488.7,1394.5" fill="#da432b"/>
<polygon points="488.7,1394.5 490.0,1398.0 499.6,1400.5 497.7,1393.3 500.0,1402.0 507.2,1408.4 507.8,1408.5 505.8,1395.0 491.6,1391.1" fill="#f5ad3f"/>
<polygon points="479.1,1405.5 478.2,1406.5 481.9,1412.6 487.0,1410.0 481.7,1407.0 483.3,1406.6 480.5,1404.0" fill="#f3ac3e"/>
<polygon points="622.1,1737.0 631.0,1737.0 636.9,1729.6 633.2,1715.9 614.4,1702.4 606.6,1708.2 606.2,1714.7 612.1,1734.2" fill="#d24129"/>
<polygon points="604.2,1240.8 605.9,1243.0 608.6,1239.4 608.8,1235.5" fill="#d9432b"/>
<polygon points="648.8,1240.0 647.8,1235.2 619.6,1222.8 608.8,1235.5 608.6,1239.4 605.9,1243.0 622.7,1264.8" fill="#eaa63c"/>
<polygon points="530.5,940.8 536.5,933.3 536.6,932.0 512.0,932.0 503.9,947.0" fill="#f7f2c8"/>
<polygon points="526.1,1505.4 540.7,1522.0 544.5,1522.2 550.8,1521.4 558.1,1517.0 559.8,1505.2 539.0,1491.2" fill="#d8422a"/>
<polygon points="543.8,1525.6 550.8,1521.4 544.5,1522.2 540.7,1522.0" fill="#ad1c1c"/>
<polygon points="766.4,1628.7 765.8,1633.2 771.3,1641.7 770.0,1651.0 766.7,1651.2 767.3,1652.1 778.0,1653.0 780.0,1647.0 794.0,1639.6 796.2,1629.4 768.4,1625.9" fill="#dd442b"/>
<polygon points="759.6,1638.6 766.7,1651.2 770.0,1651.0 771.3,1641.7 765.8,1633.2 766.4,1628.7" fill="#a31b1b"/>
<polygon points="555.8,1055.4 544.0,1078.4 547.0,1078.0 556.0,1080.0 561.9,1087.8 562.1,1088.7 584.3,1079.4 583.4,1070.6 582.0,1069.0 578.2,1058.5" fill="#eca73d"/>
<polygon points="542.7,1080.9 552.6,1092.7 562.1,1088.7 561.9,1087.8 556.0,1080.0 547.0,1078.0 544.0,1078.4" fill="#fceb81"/>
<polygon points="578.2,1058.5 582.0,1069.0 583.4,1070.6 582.5,1060.7 580.7,1058.8" fill="#a71b1b"/>
<polygon points="681.8,1619.5 700.1,1615.4 703.8,1610.6 699.9,1593.1 690.5,1586.7 681.2,1587.5 672.7,1603.8" fill="#d7422a"/>
<polygon points="502.7,1041.5 516.6,1045.3 525.3,1040.7 527.6,1033.1 518.9,1031.4 509.6,1030.8 500.0,1032.8 498.4,1032.3" fill="#d8422a"/>
<polygon points="497.6,1030.6 498.4,1032.3 500.0,1032.8 509.6,1030.8 518.9,1031.4 527.6,1033.1 532.5,1016.4 521.9,1004.3 519.0,1019.0 500.8,1023.9" fill="#f4ad3f"/>
<polygon points="630.2,1604.5 641.9,1596.4 628.8,1571.8 608.3,1583.9 609.1,1585.2 615.0,1586.0 614.2,1593.7 620.7,1604.5" fill="#df452c"/>
<polygon points="614.2,1593.7 615.0,1586.0 609.1,1585.2" fill="#a81c1c"/>
<polygon points="704.3,1313.6 726.8,1333.3 739.8,1315.7 727.2,1293.2 721.7,1293.5 704.2,1306.9" fill="#e0452c"/>
<polygon points="725.7,1290.5 721.7,1293.5 727.2,1293.2" fill="#f1ab3e"/>
<polygon points="670.4,1305.9 681.9,1330.5 681.9,1330.6 704.3,1313.6 704.2,1306.9 687.1,1292.2 680.3,1290.8" fill="#d24129"/>
<polygon points="681.4,1289.1 680.3,1290.8 687.1,1292.2 683.1,1288.8" fill="#f5ad3f"/>
<polygon points="449.0,1540.1 449.0,1554.0 446.9,1553.4 447.0,1553.7 452.0,1555.0 462.0,1565.0 461.4,1566.3 469.3,1565.0 469.8,1537.5 467.4,1535.3" fill="#d7422a"/>
<polygon points="444.2,1541.3 446.9,1553.4 449.0,1554.0 449.0,1540.1" fill="#ece7bf"/>
<polygon points="791.6,1391.8 784.9,1410.0 785.0,1410.0 808.5,1401.9" fill="#e0452c"/>
<polygon points="626.6,1107.0 629.3,1107.1 651.2,1093.8 650.0,1072.8 625.2,1068.8 611.3,1089.2" fill="#e8a43b"/>
<polygon points="717.0,1022.7 757.7,1026.6 762.4,1019.3 761.2,1003.8 743.3,985.2 736.6,988.4 735.2,989.5 734.5,989.4 731.0,991.0 719.9,994.2" fill="#da432b"/>
<polygon points="438.6,1461.7 441.8,1459.2 441.2,1460.0 440.6,1464.9 446.4,1474.3 462.7,1460.7 456.2,1438.8 448.1,1438.6 447.0,1441.0 447.4,1451.4 442.0,1458.9 439.7,1449.5 438.5,1439.8 438.5,1438.3 438.4,1438.2 431.8,1446.7 431.6,1450.3" fill="#d8422a"/>
<polygon points="440.6,1464.9 441.2,1460.0 441.8,1459.2 438.6,1461.7" fill="#f6ae3f"/>
<polygon points="438.5,1438.3 438.5,1439.8 439.7,1449.5 442.0,1458.9 447.4,1451.4 447.0,1441.0 448.1,1438.6" fill="#eea83d"/>
<polygon points="406.1,1203.1 415.3,1197.5 418.6,1193.2 427.0,1189.0 428.7,1179.7 429.3,1170.3 429.9,1167.0 429.4,1165.7 415.0,1159.7 402.2,1167.2 398.6,1195.8 405.0,1201.0 403.1,1201.7 404.1,1202.7" fill="#d4412a"/>
<polygon points="436.4,1184.7 429.9,1167.0 429.3,1170.3 428.7,1179.7 427.0,1189.0 418.6,1193.2 415.3,1197.5" fill="#eca73d"/>
<polygon points="466.9,1527.9 459.6,1529.7 452.0,1526.0 449.4,1517.7 449.5,1515.9 445.0,1516.9 445.0,1520.0 436.0,1520.0 439.5,1528.9 442.9,1537.8 444.9,1540.9 449.0,1540.0 449.0,1540.1 467.4,1535.3" fill="#d4412a"/>
<polygon points="466.2,1517.8 460.9,1513.5 449.5,1515.9 449.4,1517.7 452.0,1526.0 459.6,1529.7 466.9,1527.9" fill="#f1aa3e"/>
<polygon points="434.1,1535.4 444.2,1541.3 449.0,1540.1 449.0,1540.0 444.9,1540.9 442.9,1537.8 439.5,1528.9 436.0,1520.0 433.8,1520.0" fill="#f1ecc4"/>
<polygon points="433.8,1519.2 433.8,1520.0 445.0,1520.0 445.0,1516.9" fill="#aa1c1c"/>
<polygon points="556.6,1390.5 573.1,1384.4 576.2,1377.0 573.5,1377.4 564.0,1376.0 561.5,1372.1 560.0,1372.0 559.7,1369.2 559.3,1368.6 559.2,1368.2 557.0,1375.0 555.1,1386.0 554.8,1388.2" fill="#d5412a"/>
<polygon points="551.6,1364.5 548.1,1379.8 554.8,1388.2 555.1,1386.0 557.0,1375.0 559.2,1368.2 558.4,1362.5" fill="#eda83d"/>
<polygon points="558.4,1362.5 559.3,1368.6 559.7,1369.2 560.0,1372.0 561.5,1372.1 564.0,1376.0 573.5,1377.4 576.2,1377.0 577.6,1373.7 566.6,1360.0" fill="#f0e07b"/>
<polygon points="781.4,1319.9 769.4,1327.7 767.7,1339.8 781.4,1355.2 785.8,1355.9 807.4,1339.2" fill="#e0452c"/>
<polygon points="430.9,1127.3 447.8,1139.1 461.8,1125.4 461.8,1125.4 461.6,1123.4 458.5,1115.4 454.3,1114.9 445.9,1112.5 437.1,1111.6 431.1,1108.9" fill="#de442c"/>
<polygon points="436.9,1096.8 431.2,1103.0 431.1,1108.9 437.1,1111.6 445.9,1112.5 454.3,1114.9 458.5,1115.4 452.4,1099.7" fill="#faea81"/>
<polygon points="743.1,1480.4 742.3,1480.4 734.0,1479.0 723.4,1476.4 722.0,1476.0 736.5,1485.3" fill="#da432b"/>
<polygon points="752.3,1473.6 752.6,1462.4 750.9,1459.9 732.5,1456.1 730.0,1456.0 732.5,1456.1 731.9,1456.0 729.2,1455.6 728.4,1455.2 724.5,1454.5 719.1,1474.1 722.0,1476.0 723.4,1476.4 734.0,1479.0 742.3,1480.4 743.1,1480.4" fill="#eea83d"/>
<polygon points="746.4,1362.7 748.6,1358.0 745.2,1351.1 741.8,1352.8 745.1,1362.1" fill="#d34129"/>
<polygon points="781.4,1355.2 767.7,1339.8 763.4,1342.0 766.0,1342.0 768.2,1351.7 775.0,1359.0 777.5,1359.5" fill="#de442b"/>
<polygon points="765.8,1372.1 777.5,1359.5 775.0,1359.0 768.2,1351.7 766.0,1342.0 763.4,1342.0 745.2,1351.1 748.6,1358.0 746.4,1362.7" fill="#efa93d"/>
<polygon points="683.6,1438.4 681.0,1439.0 682.3,1447.0 680.1,1455.0 680.1,1455.1 680.4,1455.2 684.0,1450.0 685.6,1450.2 685.5,1448.3 685.9,1439.9" fill="#d14029"/>
<polygon points="669.9,1463.3 673.1,1464.3 674.4,1463.4 674.1,1462.0 674.2,1461.4 672.0,1460.8 669.8,1461.5" fill="#d3412a"/>
<polygon points="697.0,1451.2 692.2,1451.0 684.0,1450.0 680.4,1455.2 676.0,1454.0 680.1,1455.1 680.1,1455.0 682.3,1447.0 681.0,1439.0 668.8,1442.1 669.8,1461.5 672.0,1460.8 674.2,1461.4 674.1,1462.0 674.4,1463.4 673.1,1464.3 689.6,1469.4" fill="#e9a53c"/>
<polygon points="698.2,1448.2 685.9,1439.9 685.5,1448.3 685.6,1450.2 692.2,1451.0 697.0,1451.2" fill="#aa1c1c"/>
<polygon points="415.0,1159.7 411.8,1139.6 401.3,1132.2 403.0,1161.0 399.8,1162.7 399.3,1166.3 402.2,1167.2" fill="#df442c"/>
<polygon points="399.3,1166.3 399.8,1162.7 395.1,1165.0" fill="#eaa63c"/>
<polygon points="459.9,1436.3 483.7,1438.1 489.4,1425.0 481.9,1412.6 479.0,1414.2 471.3,1419.0 463.8,1424.3 461.9,1424.9" fill="#dd442b"/>
<polygon points="465.0,1408.0 461.9,1424.9 463.8,1424.3 471.3,1419.0 479.0,1414.2 481.9,1412.6 478.2,1406.5" fill="#eda73d"/>
<polygon points="495.8,1559.7 495.6,1541.4 491.6,1537.9 469.8,1537.5 469.3,1565.0 476.7,1569.0" fill="#db432b"/>
<polygon points="648.5,1308.2 646.9,1300.3 640.0,1301.0 630.0,1299.4 620.0,1299.9 618.0,1299.9 623.6,1311.5 623.9,1311.5 631.2,1305.1 640.0,1305.0 640.0,1313.2 640.5,1313.1 643.8,1313.8" fill="#de442c"/>
<polygon points="643.1,1281.9 622.4,1273.5 610.5,1284.2 618.0,1299.9 620.0,1299.9 630.0,1299.4 640.0,1301.0 646.9,1300.3" fill="#f2ab3e"/>
<polygon points="643.8,1313.8 640.5,1313.1 640.0,1313.2 640.0,1305.0 631.2,1305.1 623.9,1311.5 623.6,1311.5 627.5,1319.6 628.4,1319.9 641.7,1316.2" fill="#ab1c1c"/>
<polygon points="681.5,1715.0 667.7,1715.0 666.0,1718.0 684.0,1718.0" fill="#f1ecc4"/>
<polygon points="463.4,1222.2 455.9,1224.1 446.9,1225.8 437.8,1226.2 429.8,1228.7 445.3,1245.1 472.0,1232.9 472.3,1230.9" fill="#d14029"/>
<polygon points="449.3,1208.5 427.5,1226.3 429.8,1228.7 437.8,1226.2 446.9,1225.8 455.9,1224.1 463.4,1222.2" fill="#f0aa3e"/>
<polygon points="549.9,1576.7 561.8,1563.0 559.8,1550.5 558.4,1549.9 558.0,1553.0 555.0,1553.4 555.0,1555.0 545.5,1555.4 536.0,1556.9 535.3,1556.7 531.1,1559.7 532.7,1565.4" fill="#da432b"/>
<polygon points="549.7,1546.3 535.3,1556.7 536.0,1556.9 545.5,1555.4 555.0,1555.0 555.0,1553.4 558.0,1553.0 558.4,1549.9" fill="#a41b1b"/>
<polygon points="730.4,1659.0 730.5,1659.3 758.4,1671.7 762.8,1661.9 763.0,1653.0 766.4,1654.1 767.3,1652.1 766.7,1651.2 758.3,1651.8 747.0,1655.0 739.9,1650.9 737.5,1649.9" fill="#d7422a"/>
<polygon points="747.1,1637.6 737.5,1649.9 739.9,1650.9 747.0,1655.0 758.3,1651.8 766.7,1651.2 759.6,1638.6" fill="#a51b1b"/>
<polygon points="766.4,1654.1 763.0,1653.0 762.8,1661.9" fill="#a21b1b"/>
<polygon points="578.2,1272.6 576.8,1276.2 583.2,1277.4 590.1,1277.3 594.0,1278.0 594.0,1277.4 596.2,1277.6 582.6,1271.1" fill="#d6422a"/>
<polygon points="589.2,1308.2 605.2,1289.9 598.7,1294.5 587.8,1292.5 578.4,1295.5 569.8,1298.7" fill="#d7422a"/>
<polygon points="568.1,1297.8 569.8,1298.7 578.4,1295.5 587.8,1292.5 598.7,1294.5 605.2,1289.9 610.2,1284.3 596.2,1277.6 594.0,1277.4 594.0,1278.0 590.1,1277.3 583.2,1277.4 576.8,1276.2" fill="#efa93d"/>
<polygon points="558.2,1684.4 553.5,1701.7 555.0,1702.0 577.4,1706.1 582.0,1704.6 578.8,1680.6 573.4,1678.5" fill="#dc432b"/>
<polygon points="558.2,1684.4 573.4,1678.5 565.3,1654.3 561.5,1654.3 563.0,1656.0 559.7,1663.4 559.0,1671.8 555.0,1679.0 545.7,1675.0 541.1,1675.5" fill="#d7422a"/>
<polygon points="541.1,1675.5 545.7,1675.0 555.0,1679.0 559.0,1671.8 559.7,1663.4 563.0,1656.0 561.5,1654.3 545.7,1654.5 538.8,1674.3" fill="#ad1c1c"/>
<polygon points="511.2,1608.9 509.0,1618.7 508.9,1621.9 507.9,1623.4 506.0,1631.5 531.4,1638.7 533.7,1638.2 533.7,1638.2 535.3,1634.9 533.5,1604.2" fill="#dd442b"/>
<polygon points="650.3,1488.0 646.9,1484.4 638.0,1479.0 647.8,1473.5 659.0,1473.0 659.1,1472.9 659.2,1471.8 643.5,1461.4 633.5,1465.7 628.8,1483.1 630.7,1486.3" fill="#df442c"/>
<polygon points="655.9,1488.5 658.5,1485.3 659.1,1472.9 659.0,1473.0 647.8,1473.5 638.0,1479.0 646.9,1484.4 650.3,1488.0" fill="#f3ac3e"/>
<polygon points="829.0,1561.5 826.0,1559.0 824.1,1557.0 824.6,1559.3 828.2,1561.5" fill="#db432b"/>
<polygon points="828.2,1561.5 824.6,1559.3 824.9,1561.4" fill="#a81c1c"/>
<polygon points="660.0,1171.2 658.7,1164.4 646.1,1155.0 616.0,1156.9 613.9,1160.9 625.4,1194.0 643.3,1192.9" fill="#f5ad3f"/>
<polygon points="428.7,1072.0 428.3,1070.7 423.1,1065.8 422.9,1068.3" fill="#eda83d"/>
<polygon points="459.9,1054.8 456.9,1043.8 447.6,1039.4 424.3,1042.5 423.7,1053.4 428.5,1052.8 437.4,1048.9 447.0,1048.0 449.5,1058.4 450.8,1060.4" fill="#f1ab3e"/>
<polygon points="430.4,1073.0 450.8,1060.4 449.5,1058.4 447.0,1048.0 437.4,1048.9 428.5,1052.8 423.7,1053.4 423.1,1065.8 428.3,1070.7 428.7,1072.0" fill="#f8e77f"/>
<polygon points="621.4,1002.2 625.2,1006.6 629.0,1008.8 645.1,1009.8 652.0,994.0 659.9,984.5 658.7,981.5 628.0,983.3" fill="#f5e57e"/>
<polygon points="401.3,1102.4 400.0,1110.0 400.8,1110.0 403.0,1106.3" fill="#f1e17c"/>
<polygon points="728.3,1591.1 729.7,1611.2 733.0,1614.6 753.4,1606.0 755.3,1591.1 743.8,1580.5" fill="#d24129"/>
<polygon points="818.0,1371.4 797.5,1376.8 791.0,1390.2 791.6,1391.8 808.5,1401.9 814.0,1400.0 827.0,1389.0" fill="#d24129"/>
<polygon points="369.5,1410.4 359.8,1419.0 363.0,1420.0 372.0,1415.5 377.0,1414.7" fill="#d6422a"/>
<polygon points="395.3,1425.2 377.0,1414.7 372.0,1415.5 363.0,1420.0 359.8,1419.0 352.4,1425.5 356.8,1439.4 363.1,1444.1 388.5,1441.1 386.0,1433.0 395.0,1432.5" fill="#f1aa3e"/>
<polygon points="395.0,1432.5 386.0,1433.0 388.5,1441.1 394.7,1440.4" fill="#f9e980"/>
<polygon points="794.5,1233.0 794.0,1223.8 793.0,1226.2 787.2,1232.3 784.0,1240.0 784.1,1240.1" fill="#dc442b"/>
<polygon points="771.1,1196.3 767.4,1199.7 772.0,1198.0 772.1,1197.1" fill="#d6422a"/>
<polygon points="784.1,1240.1 784.0,1240.0 787.2,1232.3 793.0,1226.2 794.0,1223.8 793.5,1212.6 772.1,1197.1 772.0,1198.0 767.4,1199.7 764.0,1202.6 759.9,1236.6 765.8,1239.5 774.7,1237.3 783.0,1240.2 784.0,1240.2" fill="#f7af3f"/>
<polygon points="765.7,1250.5 768.8,1250.6 784.0,1240.2 783.0,1240.2 774.7,1237.3 765.8,1239.5 759.9,1236.6 758.9,1245.3" fill="#f1e17c"/>
<polygon points="556.6,1390.5 553.9,1402.1 554.0,1405.0 553.1,1405.4 552.5,1407.9 574.6,1418.6 589.9,1402.7 573.1,1384.4" fill="#dc442b"/>
<polygon points="606.2,1334.5 607.0,1338.0 605.6,1338.6 606.0,1342.0 602.7,1343.4 599.6,1351.2 600.3,1352.6 628.5,1353.5 631.3,1350.3 630.8,1344.9 628.0,1345.0 621.1,1339.1 617.0,1331.0 613.8,1324.0 609.9,1325.2" fill="#d24029"/>
<polygon points="602.7,1343.4 606.0,1342.0 605.6,1338.6 607.0,1338.0 606.2,1334.5" fill="#f9e980"/>
<polygon points="628.4,1319.9 627.5,1319.6 613.8,1324.0 617.0,1331.0 621.1,1339.1 628.0,1345.0 630.8,1344.9" fill="#a91c1c"/>
<polygon points="689.4,1219.3 706.2,1221.0 710.9,1217.7 710.0,1217.0 712.4,1207.8 715.4,1198.9 716.4,1197.0 716.0,1192.0 707.7,1192.5 699.8,1189.7 691.5,1190.0 687.4,1190.1 683.0,1211.3" fill="#df452c"/>
<polygon points="716.4,1222.0 710.9,1217.7 706.2,1221.0" fill="#f6ae3f"/>
<polygon points="718.5,1182.3 707.0,1177.2 687.9,1187.6 687.4,1190.1 691.5,1190.0 699.8,1189.7 707.7,1192.5 716.0,1192.0 716.4,1197.0 720.0,1190.5 721.1,1188.1" fill="#f3ac3e"/>
<polygon points="721.9,1222.6 729.0,1205.6 721.1,1188.1 720.0,1190.5 715.4,1198.9 712.4,1207.8 710.0,1217.0 716.4,1222.0" fill="#faea80"/>
<polygon points="845.6,1360.5 847.6,1357.4 845.4,1336.0 844.4,1334.6 815.0,1335.2 811.1,1338.9 820.2,1366.6" fill="#dc442b"/>
<polygon points="356.1,1303.3 345.5,1299.6 344.0,1308.0 333.3,1304.2 328.5,1304.5 326.6,1318.4 338.3,1324.0 359.1,1312.2" fill="#da432b"/>
<polygon points="330.0,1294.3 328.5,1304.5 333.3,1304.2 344.0,1308.0 345.5,1299.6" fill="#f0e07b"/>
<polygon points="572.9,1338.2 562.5,1332.8 541.2,1338.9 536.4,1348.9 551.6,1364.5 558.4,1362.5 558.0,1360.0 561.2,1360.1 563.4,1356.2 562.0,1348.0 570.9,1344.9" fill="#f0aa3e"/>
<polygon points="570.9,1344.9 562.0,1348.0 563.4,1356.2 561.2,1360.1 558.0,1360.0 558.4,1362.5 566.6,1360.0" fill="#fbeb81"/>
<polygon points="737.0,1427.9 737.0,1439.0 729.8,1440.2 723.0,1451.8 723.8,1453.1 728.4,1455.2 731.9,1456.0 733.1,1456.1 736.1,1456.2 744.0,1453.9 751.9,1456.4 753.3,1451.6 749.0,1434.0 750.3,1431.9 749.0,1430.7 746.0,1432.0 739.4,1423.7" fill="#d5412a"/>
<polygon points="739.6,1423.4 739.4,1423.7 746.0,1432.0 749.0,1430.7 741.6,1423.7" fill="#f7af40"/>
<polygon points="729.8,1440.2 737.0,1439.0 737.0,1427.9" fill="#f0aa3e"/>
<polygon points="750.9,1459.9 751.9,1456.4 744.0,1453.9 736.1,1456.2 738.5,1456.3 732.5,1456.1" fill="#eea83d"/>
<polygon points="706.8,1263.8 684.7,1247.0 679.1,1248.4 682.0,1255.0 688.6,1263.5 695.0,1272.0 697.5,1273.6" fill="#d14029"/>
<polygon points="662.1,1272.6 681.4,1289.1 683.1,1288.8 697.5,1273.6 695.0,1272.0 688.6,1263.5 682.0,1255.0 679.1,1248.4 664.0,1252.3" fill="#eea83d"/>
<polygon points="716.3,1567.3 728.8,1561.0 720.6,1558.8 711.0,1557.0 710.6,1555.0 703.9,1562.1" fill="#d4412a"/>
<polygon points="719.2,1537.5 717.0,1544.0 715.2,1547.2 717.5,1547.6 725.0,1542.3" fill="#db432b"/>
<polygon points="731.9,1559.5 733.4,1549.2 725.0,1542.3 717.5,1547.6 709.0,1546.0 711.0,1557.0 720.6,1558.8 728.8,1561.0" fill="#f6ae3f"/>
<polygon points="709.4,1534.4 703.6,1561.9 703.9,1562.1 710.6,1555.0 709.0,1546.0 715.2,1547.2 717.0,1544.0 719.2,1537.5 714.8,1533.9" fill="#ac1c1c"/>
<polygon points="858.9,1131.3 878.8,1135.1 877.0,1133.0 893.0,1119.0 883.2,1120.5 875.9,1127.5 867.0,1131.0 859.0,1127.5 858.7,1127.4" fill="#f1ab3e"/>
<polygon points="877.5,1096.0 858.0,1111.0 858.7,1127.4 859.0,1127.5 867.0,1131.0 875.9,1127.5 883.2,1120.5 893.0,1119.0 893.0,1106.0" fill="#f3e37d"/>
<polygon points="801.0,1209.8 799.7,1211.0 796.3,1218.5 794.0,1223.8 794.5,1233.0 822.5,1247.8 834.8,1221.8 834.4,1220.6 832.0,1218.3 831.1,1210.3 830.7,1208.9 819.3,1205.8 817.0,1203.8" fill="#d34129"/>
<polygon points="827.3,1200.0 817.0,1203.8 819.3,1205.8 830.7,1208.9 827.9,1200.1" fill="#f3ac3e"/>
<polygon points="793.5,1212.6 794.0,1223.8 796.3,1218.5 799.7,1211.0 801.0,1209.8" fill="#f0aa3e"/>
<polygon points="831.1,1210.3 832.0,1218.3 834.4,1220.6" fill="#f3ac3e"/>
<polygon points="559.8,1550.5 563.3,1548.2 561.0,1540.0 567.5,1541.6 566.8,1539.7 566.2,1530.1 564.0,1521.2 558.1,1517.0 550.8,1521.4 554.0,1521.0 552.7,1529.3 554.5,1537.2 559.1,1544.7 558.4,1549.9" fill="#d7422a"/>
<polygon points="572.1,1542.5 572.7,1527.3 564.0,1521.2 566.2,1530.1 566.8,1539.7 567.5,1541.6 561.0,1540.0 563.3,1548.2" fill="#f6ae3f"/>
<polygon points="549.7,1546.3 558.4,1549.9 559.1,1544.7 554.5,1537.2 552.7,1529.3 554.0,1521.0 550.8,1521.4 543.8,1525.6 543.3,1527.2" fill="#a41b1b"/>
<polygon points="757.4,1281.4 765.5,1278.4 773.9,1280.1 782.2,1279.8 783.5,1279.4 780.0,1279.2 770.0,1278.0 763.5,1271.1 760.6,1269.7" fill="#eca73d"/>
<polygon points="763.1,1290.4 786.1,1296.7 793.9,1271.0 768.8,1250.6 765.7,1250.5 760.6,1269.7 763.5,1271.1 770.0,1278.0 780.0,1279.2 783.5,1279.4 790.4,1277.4 782.2,1279.8 773.9,1280.1 765.5,1278.4 757.4,1281.4 757.4,1281.4" fill="#f1e17b"/>
<polygon points="712.0,1027.2 700.1,1026.5 702.2,1031.0 700.0,1040.0 707.2,1046.2 715.6,1049.8 717.4,1050.3" fill="#da432b"/>
<polygon points="681.0,1046.0 678.5,1054.0 681.0,1062.0 694.0,1062.0 696.1,1054.0 694.0,1046.0" fill="#df442c"/>
<polygon points="717.4,1050.3 715.6,1049.8 707.2,1046.2 700.0,1040.0 702.2,1031.0 700.1,1026.5 690.9,1026.0 681.2,1042.1 682.0,1046.0 694.0,1046.0 696.1,1054.0 694.0,1062.0 681.0,1062.0 680.0,1058.9 680.0,1059.0 672.1,1057.5 671.8,1058.0 684.8,1068.3 720.5,1063.6" fill="#eaa63c"/>
<polygon points="672.1,1057.5 680.0,1059.0 680.0,1058.9 678.5,1054.0 681.0,1046.0 682.0,1046.0 681.2,1042.1" fill="#f7e77f"/>
<polygon points="461.6,1123.4 461.0,1116.0 462.1,1115.9 458.5,1115.4" fill="#dd442b"/>
<polygon points="462.2,1124.9 484.6,1129.2 485.3,1128.7 484.5,1103.8 465.5,1093.3 465.4,1093.3 468.0,1095.0 475.0,1100.0 467.3,1108.3 459.5,1115.5 462.1,1115.9 461.0,1116.0 461.6,1123.4" fill="#eba63c"/>
<polygon points="458.5,1115.4 459.5,1115.5 467.3,1108.3 475.0,1100.0 468.0,1095.0 465.4,1093.3 452.4,1099.7" fill="#eddd7a"/>
<polygon points="476.8,1264.4 449.6,1273.8 460.6,1297.7 485.3,1299.6 488.8,1294.3 486.0,1293.0 482.7,1282.0 483.5,1279.1" fill="#da432b"/>
<polygon points="483.5,1279.1 482.7,1282.0 486.0,1293.0 488.8,1294.3 489.8,1292.8" fill="#f5ad3f"/>
<polygon points="893.8,1160.3 900.4,1165.0 898.0,1157.0 891.6,1149.7" fill="#f6ae3f"/>
<polygon points="745.1,1362.1 741.8,1352.8 733.7,1347.9 710.2,1371.9 710.3,1374.9 713.6,1374.5 722.0,1371.0 721.8,1380.8 737.6,1382.7" fill="#dc442b"/>
<polygon points="710.5,1379.5 721.8,1380.8 722.0,1371.0 713.6,1374.5 710.3,1374.9" fill="#eea93d"/>
<polygon points="497.6,1030.6 500.8,1023.9 493.0,1026.0 491.4,1027.1" fill="#eea93d"/>
<polygon points="736.5,1485.3 722.0,1476.0 718.2,1474.7 711.9,1479.1 713.1,1493.6 715.7,1492.9 726.0,1494.0 730.3,1499.3 736.6,1494.6" fill="#d9432b"/>
<polygon points="713.8,1500.8 723.1,1504.7 730.3,1499.3 726.0,1494.0 715.7,1492.9 713.1,1493.6" fill="#fbeb81"/>
<polygon points="599.6,1351.2 602.7,1343.4 597.5,1345.6 595.1,1348.8" fill="#d5422a"/>
<polygon points="609.9,1325.2 597.3,1318.4 597.8,1320.8 599.8,1322.9 601.0,1323.0 601.9,1325.3 604.8,1328.4 606.2,1334.5" fill="#d5412a"/>
<polygon points="574.8,1337.0 574.9,1338.4 595.1,1348.8 597.5,1345.6 602.7,1343.4 606.2,1334.5 604.8,1328.4 601.9,1325.3 601.0,1323.0 599.8,1322.9 601.2,1324.5 597.8,1320.8 597.3,1318.4 590.6,1314.7" fill="#f6e67e"/>
<polygon points="677.6,1553.5 655.7,1550.4 646.7,1556.3 658.1,1578.5 672.9,1579.0" fill="#e0452c"/>
<polygon points="505.1,1487.8 484.4,1495.9 484.0,1510.5 492.5,1516.1 512.6,1510.5 515.2,1506.7" fill="#d4412a"/>
<polygon points="644.2,1409.5 633.4,1424.4 634.0,1432.6 646.5,1442.5 652.1,1441.6 654.0,1434.0 662.7,1437.4 664.1,1437.8 662.5,1415.3 662.0,1415.0 660.6,1408.2" fill="#d14029"/>
<polygon points="664.2,1439.4 664.1,1437.8 662.7,1437.4 654.0,1434.0 652.1,1441.6" fill="#e9a53c"/>
<polygon points="660.6,1408.2 662.0,1415.0 662.5,1415.3 662.0,1408.1" fill="#f6e67e"/>
<polygon points="630.2,1634.3 631.0,1638.0 624.0,1640.5 623.2,1641.1 625.5,1656.4 636.9,1664.3 655.2,1652.6 650.8,1634.3 636.8,1631.0" fill="#da432b"/>
<polygon points="622.7,1638.1 623.2,1641.1 624.0,1640.5 631.0,1638.0 630.2,1634.3" fill="#eaa63c"/>
<polygon points="685.9,1439.9 686.0,1438.5 684.6,1434.2 683.6,1438.4" fill="#d4412a"/>
<polygon points="709.6,1445.3 709.6,1438.9 709.2,1438.8 706.1,1438.9 707.5,1445.6 707.5,1445.9" fill="#da432b"/>
<polygon points="689.5,1414.2 685.7,1429.7 694.0,1431.7 700.3,1430.1 698.9,1423.0 699.5,1418.4" fill="#db432b"/>
<polygon points="709.6,1422.7 699.5,1418.4 698.9,1423.0 700.5,1431.0 700.0,1439.0 709.2,1438.8 709.6,1438.9" fill="#f3ac3e"/>
<polygon points="698.2,1448.2 707.5,1445.9 707.5,1445.6 706.1,1438.9 700.0,1439.0 700.5,1431.0 700.3,1430.1 694.0,1431.7 685.7,1429.7 684.6,1434.2 686.0,1438.5 685.9,1439.9" fill="#aa1c1c"/>
<polygon points="550.5,1240.5 556.4,1262.1 578.2,1272.6 582.6,1271.1 591.2,1241.0 589.7,1239.7" fill="#d24029"/>
<polygon points="411.5,1485.6 404.0,1507.0 411.8,1507.0 406.8,1513.1 414.7,1514.2 413.8,1507.4 415.1,1497.6 413.0,1488.0 424.8,1489.1 434.5,1492.5 434.9,1489.1 416.4,1482.5" fill="#d8422a"/>
<polygon points="431.0,1516.3 429.7,1511.6 425.3,1512.8 420.1,1514.9" fill="#de442c"/>
<polygon points="402.6,1511.0 403.1,1512.6 406.8,1513.1 411.8,1507.0 404.0,1507.0" fill="#f7af3f"/>
<polygon points="420.1,1514.9 425.3,1512.8 429.7,1511.6 429.0,1509.0 432.7,1508.7 434.5,1492.5 424.8,1489.1 413.0,1488.0 415.1,1497.6 413.8,1507.4 414.7,1514.2" fill="#eca73d"/>
<polygon points="431.8,1516.4 432.7,1508.7 429.0,1509.0 431.0,1516.3" fill="#ac1c1c"/>
<polygon points="642.4,1512.5 644.0,1522.9 657.1,1530.3 668.8,1523.2 670.9,1514.0 655.8,1501.8" fill="#db432b"/>
<polygon points="781.0,1517.9 776.0,1516.1 781.8,1522.9 782.2,1523.2" fill="#df452c"/>
<polygon points="757.2,1509.7 749.8,1522.6 751.6,1532.9 755.4,1526.3 762.7,1520.8 767.0,1513.0" fill="#d4412a"/>
<polygon points="768.8,1547.8 783.6,1530.2 782.2,1523.2 781.8,1522.9 776.0,1516.1 767.0,1513.0 762.7,1520.8 755.4,1526.3 751.6,1532.9 752.2,1535.7 753.7,1538.0 768.6,1547.9" fill="#aa1c1c"/>
<polygon points="838.3,948.7 842.0,944.8 839.9,943.0 832.3,938.1 825.1,932.5 818.0,931.2 828.9,947.6" fill="#de442c"/>
<polygon points="839.9,943.0 828.0,933.0 825.1,932.5 832.3,938.1" fill="#efa93d"/>
<polygon points="558.1,1517.0 564.0,1521.2 564.0,1521.0 573.8,1521.5 582.5,1523.0 589.9,1519.7 581.6,1493.8 578.2,1493.2 577.0,1495.0 575.9,1492.8 575.1,1492.6 559.8,1505.2" fill="#d24129"/>
<polygon points="572.7,1527.3 582.5,1523.0 573.8,1521.5 564.0,1521.0 564.0,1521.2" fill="#eaa63c"/>
<polygon points="597.7,1485.8 581.6,1493.8 589.9,1519.7 590.6,1520.0 593.2,1518.7 595.7,1519.3 614.4,1509.9" fill="#d34129"/>
<polygon points="592.7,1520.8 595.7,1519.3 593.2,1518.7 590.6,1520.0" fill="#e9a53c"/>
<polygon points="382.7,1470.5 366.5,1465.1 356.9,1471.5 358.3,1490.5 373.7,1496.9 377.5,1495.1 385.0,1479.9" fill="#eaa53c"/>
<polygon points="703.8,1610.6 729.7,1611.2 728.3,1591.1 717.9,1584.7 699.9,1593.1" fill="#da432b"/>
<polygon points="626.2,1504.9 642.4,1512.5 655.8,1501.8 655.9,1493.2 654.0,1492.0 650.3,1488.0 630.7,1486.3" fill="#d24129"/>
<polygon points="655.9,1488.5 650.3,1488.0 654.0,1492.0 655.9,1493.2" fill="#f4ad3f"/>
<polygon points="829.6,1304.3 830.4,1304.0 830.5,1304.0 834.1,1304.4 848.8,1286.7 820.7,1274.1 814.6,1304.0" fill="#f3ac3f"/>
<polygon points="583.1,1210.6 596.5,1201.0 588.0,1176.0 582.3,1174.8 581.4,1174.6 580.1,1173.3 562.8,1189.3 568.2,1207.6" fill="#dd442b"/>
<polygon points="586.5,1171.6 583.0,1170.6 580.1,1173.3 581.4,1174.6 582.3,1174.8 588.0,1176.0" fill="#f5ad3f"/>
<polygon points="419.2,1367.9 417.6,1363.7 416.4,1363.2 414.1,1364.5 416.4,1363.2 390.8,1351.1 388.7,1352.2 382.8,1383.9 400.7,1389.4" fill="#f3ac3e"/>
<polygon points="562.1,1088.7 564.7,1097.5 564.7,1097.5 564.8,1097.5 573.0,1100.0 572.3,1108.1 570.2,1111.9 569.7,1115.8 569.5,1116.5 586.4,1118.8 596.3,1090.5 584.3,1079.4" fill="#f7af3f"/>
<polygon points="552.6,1092.7 552.6,1110.7 555.2,1114.6 568.2,1116.3 569.5,1116.5 569.7,1115.8 570.2,1111.9 572.3,1108.1 573.0,1100.0 564.8,1097.5 556.5,1100.2 564.7,1097.5 564.7,1097.5 562.1,1088.7" fill="#fcec82"/>
<polygon points="539.6,1309.2 545.6,1313.6 555.8,1311.2 559.1,1312.4 557.8,1305.0 551.0,1307.0 546.3,1306.1" fill="#da432b"/>
<polygon points="546.3,1306.1 551.0,1307.0 557.8,1305.0 557.3,1301.8 556.3,1301.5" fill="#f7af40"/>
<polygon points="526.9,1315.1 541.2,1338.9 562.5,1332.8 559.1,1312.4 555.8,1311.2 545.6,1313.6 539.6,1309.2" fill="#e9a53c"/>
<polygon points="447.8,1139.1 448.7,1149.5 475.3,1163.6 479.1,1160.6 479.2,1157.9 474.6,1149.7 471.0,1141.0 466.6,1133.2 466.1,1130.1 461.8,1125.4" fill="#d24129"/>
<polygon points="462.2,1124.9 461.8,1125.4 466.1,1130.1 466.6,1133.2 471.0,1141.0 474.6,1149.7 479.2,1157.9 479.1,1160.6 479.2,1160.5 484.6,1129.2" fill="#e8a43c"/>
<polygon points="573.6,1636.3 573.2,1644.0 597.2,1656.5 607.4,1633.2 606.0,1630.0 606.1,1629.4 602.1,1622.9" fill="#d4412a"/>
<polygon points="579.3,1571.2 578.9,1586.2 586.9,1593.7 599.8,1587.3 600.0,1584.0 605.2,1584.7 607.3,1583.6 600.2,1566.3 595.2,1565.9 594.3,1565.9 585.7,1568.7 582.8,1567.8" fill="#d7422a"/>
<polygon points="582.8,1567.8 585.7,1568.7 594.3,1565.9 595.2,1565.9 585.7,1565.0" fill="#efa93d"/>
<polygon points="605.2,1584.7 600.0,1584.0 599.8,1587.3" fill="#aa1c1c"/>
<polygon points="707.0,1177.2 718.5,1182.3 749.2,1164.1 732.6,1138.5 702.8,1145.2" fill="#f4ac3f"/>
<polygon points="568.2,1450.9 570.6,1447.1 571.0,1437.0 580.5,1437.3 590.0,1437.0 590.4,1446.9 592.7,1451.8 597.5,1437.9 576.0,1425.2 563.5,1444.1" fill="#d24129"/>
<polygon points="573.6,1459.0 590.5,1457.9 592.7,1451.8 590.4,1446.9 590.0,1437.0 580.5,1437.3 571.0,1437.0 570.6,1447.1 568.2,1450.9" fill="#eea83d"/>
<polygon points="543.6,1181.5 562.8,1189.3 580.1,1173.3 577.7,1171.2 577.6,1171.1 576.9,1171.4 574.1,1170.5 569.3,1169.7 561.0,1168.0 558.5,1163.7 557.6,1160.1 556.1,1152.5 556.0,1151.2 553.6,1150.7 541.3,1175.0" fill="#d9432b"/>
<polygon points="583.0,1170.6 571.6,1154.7 556.0,1151.2 556.1,1152.5 557.6,1160.1 558.5,1163.7 561.0,1168.0 569.3,1169.7 574.1,1170.5 576.9,1171.4 577.6,1171.1 577.7,1171.2 580.1,1173.3" fill="#eda83d"/>
<polygon points="491.6,1537.9 495.6,1541.4 515.9,1535.0 512.6,1510.5 492.5,1516.1" fill="#d34129"/>
<polygon points="751.9,1456.4 752.5,1456.7 754.3,1456.1 753.3,1451.6" fill="#da432b"/>
<polygon points="750.9,1459.9 752.6,1462.4 755.8,1462.2 754.3,1456.1 752.5,1456.7 751.9,1456.4" fill="#eda83d"/>
<polygon points="684.7,1247.0 689.4,1219.3 683.0,1211.3 661.4,1214.9 662.9,1221.2 664.0,1230.0 668.1,1239.7 677.8,1245.4 679.1,1248.4" fill="#db432b"/>
<polygon points="679.1,1248.4 677.8,1245.4 668.1,1239.7 664.0,1230.0 662.9,1221.2 661.4,1214.9 658.4,1215.4 647.8,1235.2 648.8,1240.0 664.0,1252.3" fill="#efa93d"/>
<polygon points="827.0,1389.0 833.0,1384.0 848.2,1377.2 845.6,1360.5 820.2,1366.6 818.0,1371.4" fill="#e0452c"/>
<polygon points="689.3,1413.9 689.5,1414.2 699.5,1418.4 700.0,1415.0 707.1,1415.2 700.0,1413.0 695.6,1403.7" fill="#df452c"/>
<polygon points="720.5,1415.7 715.8,1416.8 712.6,1416.2 717.2,1417.8" fill="#d24029"/>
<polygon points="705.5,1387.9 695.6,1403.7 700.0,1413.0 707.1,1415.2 709.9,1415.2 700.0,1415.0 699.5,1418.4 709.6,1422.7 717.2,1417.8 712.6,1416.2 715.8,1416.8 720.5,1415.7 726.2,1412.1" fill="#f4ad3f"/>
<polygon points="460.0,1037.3 451.0,1039.0 447.6,1039.4 456.9,1043.8" fill="#f3ac3e"/>
<polygon points="536.1,976.3 543.4,972.9 541.2,967.0 540.0,971.0 535.0,969.3" fill="#eca73d"/>
<polygon points="566.1,962.1 567.0,959.9 563.4,963.4 563.2,963.5" fill="#e9a53c"/>
<polygon points="546.0,948.0 543.4,959.3 545.2,956.8" fill="#efa93d"/>
<polygon points="530.5,940.8 535.0,969.3 540.0,971.0 541.2,967.0 540.0,964.0 543.4,959.3 546.0,948.0 544.1,938.6 543.7,937.8 536.5,933.3" fill="#f1ecc3"/>
<polygon points="563.2,963.5 563.4,963.4 567.0,959.9 568.8,954.9 561.0,954.0 566.2,951.9 543.7,937.8 544.1,938.6 546.0,948.0 545.2,956.8 540.0,964.0 543.4,972.9" fill="#f9e880"/>
<polygon points="655.0,1604.9 654.1,1630.7 670.2,1627.7 670.6,1625.6 671.0,1617.0 681.0,1621.3 681.8,1619.5 672.7,1603.8" fill="#df442c"/>
<polygon points="678.7,1626.2 681.0,1621.3 671.0,1617.0 670.6,1625.6 670.2,1627.7" fill="#a61b1b"/>
<polygon points="502.4,1633.2 501.0,1637.0 501.7,1646.8 507.0,1655.6 506.5,1661.1 513.1,1663.7 524.0,1648.8 524.0,1648.0 525.6,1646.6 531.4,1638.7 506.0,1631.5" fill="#d5422a"/>
<polygon points="497.1,1635.6 496.7,1636.4 504.7,1660.4 506.5,1661.1 507.0,1655.6 501.7,1646.8 501.0,1637.0 502.4,1633.2" fill="#a71b1b"/>
<polygon points="700.2,1670.5 710.1,1684.6 724.8,1685.2 730.5,1659.3 730.4,1659.0 715.1,1651.7" fill="#db432b"/>
<polygon points="434.4,1634.8 428.7,1652.0 428.7,1652.0 435.7,1656.8 444.7,1659.5 446.4,1659.6 448.9,1637.6 442.1,1630.9" fill="#dd442b"/>
<polygon points="428.4,1654.5 435.7,1656.8 428.7,1652.0 428.7,1652.0 428.2,1653.5" fill="#f1aa3e"/>
<polygon points="899.0,1351.1 918.6,1361.3 914.4,1346.9" fill="#d5422a"/>
<polygon points="655.7,1550.4 657.1,1530.3 644.0,1522.9 629.9,1535.6 642.7,1556.2 646.7,1556.3" fill="#d6422a"/>
<polygon points="688.1,1505.0 670.9,1514.0 668.8,1523.2 683.5,1538.3 685.4,1537.4 682.0,1530.0 691.9,1527.8 700.8,1529.4 696.0,1509.7" fill="#de442c"/>
<polygon points="700.9,1529.6 700.8,1529.4 691.9,1527.8 682.0,1530.0 685.4,1537.4" fill="#a81c1c"/>
<polygon points="482.8,1221.7 491.7,1221.8 492.0,1220.0 482.8,1219.0" fill="#d24029"/>
<polygon points="482.8,1219.0 491.5,1219.9 490.0,1218.5 487.0,1211.0 483.1,1205.0" fill="#eea93d"/>
<polygon points="506.8,1192.4 483.3,1193.0 483.1,1205.0 487.0,1211.0 490.0,1218.5 491.5,1219.9 492.0,1220.0 491.9,1220.4 493.5,1221.9 510.7,1222.2 517.2,1206.0" fill="#a41b1b"/>
<polygon points="512.6,1444.7 512.3,1422.3 509.6,1420.2 489.4,1425.0 483.7,1438.1 488.1,1445.5 505.5,1449.0" fill="#db432b"/>
<polygon points="519.3,1169.6 519.0,1171.0 525.8,1178.0 535.0,1181.0 537.6,1180.5 537.5,1185.5 538.7,1190.6 543.6,1181.5 541.3,1175.0" fill="#d24029"/>
<polygon points="513.8,1168.3 508.6,1186.3 515.0,1186.4 524.0,1186.5 533.0,1185.0 530.0,1192.0 535.2,1190.2 538.6,1190.1 537.5,1185.5 537.6,1180.5 535.0,1181.0 525.8,1178.0 519.0,1171.0 519.3,1169.6" fill="#eca73d"/>
<polygon points="529.7,1203.5 529.5,1202.2 528.4,1198.2 527.6,1202.0 527.5,1203.9" fill="#e9a53c"/>
<polygon points="531.9,1203.0 538.7,1190.6 538.6,1190.1 535.2,1190.2 527.0,1193.0 529.5,1202.2 529.7,1203.5" fill="#f4e47d"/>
<polygon points="506.8,1192.4 517.2,1206.0 527.5,1203.9 527.6,1202.0 528.4,1198.2 527.0,1193.0 530.0,1192.0 533.0,1185.0 524.0,1186.5 515.0,1186.4 508.6,1186.3" fill="#ad1c1c"/>
<polygon points="483.5,1684.2 490.0,1691.0 485.3,1701.0 484.8,1705.3 501.0,1691.0 503.8,1691.5 502.9,1688.6 483.5,1682.8" fill="#d9432b"/>
<polygon points="483.8,1706.0 484.0,1706.0 484.8,1705.3 485.3,1701.0 490.0,1691.0 483.5,1684.2" fill="#eea83d"/>
<polygon points="880.2,1337.5 885.8,1322.3 885.8,1322.3 862.1,1310.8 846.5,1324.1 844.4,1334.6 845.4,1336.0" fill="#df452c"/>
<polygon points="534.0,1603.6 521.8,1583.0 507.8,1581.0 497.3,1593.2 498.6,1600.0 511.2,1608.9 533.5,1604.2" fill="#d24129"/>
<polygon points="758.2,1042.7 769.6,1048.9 774.9,1039.7 780.0,1029.0 780.4,1021.3 762.4,1019.3 757.7,1026.6" fill="#d6422a"/>
<polygon points="769.7,1049.0 776.0,1040.3 780.0,1029.0 774.9,1039.7 769.6,1048.9" fill="#f5ad3f"/>
<polygon points="780.4,1021.3 780.0,1029.0 782.3,1021.5" fill="#e7a43b"/>
<polygon points="792.4,1061.4 805.1,1047.0 792.8,1022.7 782.3,1021.5 780.0,1029.0 776.0,1040.3 769.7,1049.0" fill="#f9e980"/>
<polygon points="552.8,1126.9 540.0,1123.0 539.5,1128.4 533.9,1121.7 530.0,1113.6 517.8,1115.2 512.9,1125.7 514.4,1127.3 519.4,1133.8 523.0,1141.0 522.9,1141.3 549.5,1143.7" fill="#d6422a"/>
<polygon points="511.7,1128.4 518.5,1140.8 522.9,1141.3 523.0,1141.0 519.4,1133.8 514.4,1127.3 512.9,1125.7" fill="#e7a43b"/>
<polygon points="555.2,1114.6 552.6,1110.7 530.0,1113.6 533.9,1121.7 539.5,1128.4 540.0,1123.0 552.8,1126.9" fill="#f0e17b"/>
<polygon points="479.3,1467.9 505.6,1475.4 505.5,1449.0 488.1,1445.5 479.1,1467.6" fill="#d8422a"/>
<polygon points="864.3,1066.6 865.4,1067.7 866.0,1068.8 877.3,1076.9 888.4,1073.1 882.0,1054.0 884.0,1048.3 883.2,1045.4 884.1,1036.9 872.5,1030.2" fill="#d7422a"/>
<polygon points="884.1,1036.9 883.2,1045.4 884.0,1048.3 887.4,1038.8" fill="#f0aa3e"/>
<polygon points="328.5,1453.4 336.0,1475.0 337.0,1475.9 343.1,1467.6 338.9,1457.2" fill="#e8a43c"/>
<polygon points="651.2,1093.8 629.3,1107.1 634.1,1107.2 643.0,1105.0 649.2,1112.6 649.4,1119.5 651.4,1121.5 651.0,1116.5 649.0,1108.0 658.4,1109.1 665.2,1105.4" fill="#eba63c"/>
<polygon points="652.0,1126.4 652.2,1125.9 651.8,1125.3 652.4,1126.2 667.9,1119.3 668.2,1107.8 665.2,1105.4 658.4,1109.1 649.0,1108.0 651.0,1116.5 651.4,1121.5 649.4,1119.5 649.2,1112.6 643.0,1105.0 634.1,1107.2 629.3,1107.1 627.6,1108.2 627.4,1118.4 646.7,1128.7" fill="#fdec82"/>
<polygon points="681.0,1621.3 681.1,1621.3 692.0,1622.0 689.7,1629.9 688.0,1638.0 682.5,1637.3 685.0,1644.8 709.6,1642.3 700.1,1615.4 681.8,1619.5" fill="#d8422a"/>
<polygon points="678.7,1626.2 682.5,1637.3 688.0,1638.0 689.7,1629.9 692.0,1622.0 681.1,1621.3 681.0,1621.3" fill="#a71b1b"/>
<polygon points="415.4,1471.2 431.6,1450.3 431.8,1446.7 409.3,1443.6 409.5,1444.5 407.0,1456.0 406.2,1463.7" fill="#d24129"/>
<polygon points="394.8,1454.5 406.2,1463.7 407.0,1456.2 403.0,1459.0 398.1,1450.9 395.1,1449.1" fill="#eca73d"/>
<polygon points="395.1,1449.1 398.1,1450.9 403.0,1459.0 407.0,1456.2 407.0,1456.0 409.3,1445.4 408.8,1444.5 408.7,1443.5 395.4,1441.7" fill="#fcec82"/>
<polygon points="792.8,1685.0 792.5,1692.7 797.0,1690.0 793.6,1685.2" fill="#db432b"/>
<polygon points="749.2,1164.1 754.3,1165.1 777.2,1141.9 747.0,1113.0 744.6,1113.5 732.6,1138.5" fill="#f0aa3e"/>
<polygon points="832.9,1585.9 826.0,1584.0 819.5,1583.0 806.0,1592.6 804.6,1602.7 832.5,1607.7 832.8,1607.6 837.9,1589.6" fill="#d24029"/>
<polygon points="824.4,1579.5 819.5,1583.0 826.0,1584.0 832.9,1585.9" fill="#a61b1b"/>
<polygon points="669.9,1463.3 659.2,1471.8 659.1,1472.9 667.2,1468.3 673.1,1464.3" fill="#dd442b"/>
<polygon points="673.1,1464.3 667.2,1468.3 659.1,1472.9 658.5,1485.3 685.1,1490.7 692.8,1476.3 689.6,1469.4" fill="#eea93d"/>
<polygon points="405.3,1292.4 408.1,1268.1 400.5,1267.1 391.4,1266.4 382.5,1271.6 380.3,1271.0 378.4,1280.5 394.0,1293.1" fill="#da432b"/>
<polygon points="408.1,1268.0 399.0,1261.0 397.5,1258.1 381.8,1263.4 380.3,1271.0 382.5,1271.6 391.4,1266.4 400.5,1267.1 408.1,1268.1" fill="#f6ae3f"/>
<polygon points="409.2,1258.3 406.8,1255.0 397.5,1258.1 399.0,1261.0 408.1,1268.0" fill="#f7e77f"/>
<polygon points="328.8,1278.3 319.9,1268.8 320.0,1269.4 327.0,1286.6" fill="#f7e77f"/>
<polygon points="600.1,969.0 601.7,968.5 595.6,959.0" fill="#e8a43b"/>
<polygon points="619.8,967.3 613.0,965.0 610.8,966.7 616.6,967.1" fill="#e8a43b"/>
<polygon points="601.1,971.3 603.6,971.4 601.7,968.5 600.1,969.0" fill="#f9e980"/>
<polygon points="621.7,972.0 623.2,968.4 619.8,967.3 616.6,967.1 610.8,966.7 604.7,971.5" fill="#f3e37d"/>
<polygon points="589.9,1519.7 582.5,1523.0 583.5,1523.2 590.6,1520.0" fill="#de442c"/>
<polygon points="592.7,1520.8 590.6,1520.0 583.5,1523.2 582.5,1523.0 572.7,1527.3 572.1,1542.5 583.6,1548.5 597.6,1541.5 594.6,1541.2 597.6,1541.5 600.6,1540.0" fill="#f5ad3f"/>
<polygon points="451.8,1344.9 453.7,1348.4 475.4,1352.5 483.6,1343.8 480.6,1330.2 478.6,1330.3 470.2,1327.8 466.4,1328.9 464.1,1328.1 460.3,1328.0" fill="#df442c"/>
<polygon points="461.1,1326.6 460.3,1328.0 464.1,1328.1 466.4,1328.9 470.2,1327.8 478.6,1330.3 480.6,1330.2 479.3,1324.5" fill="#eda83d"/>
<polygon points="356.8,1439.4 338.9,1457.2 343.1,1467.6 356.9,1471.5 366.5,1465.1 363.1,1444.1" fill="#f8af40"/>
<polygon points="448.4,1613.7 446.5,1598.7 445.0,1602.0 439.3,1619.6 442.1,1620.7" fill="#dc442b"/>
<polygon points="824.1,1557.0 813.1,1545.1 812.1,1544.9 815.5,1554.0 824.0,1559.0 824.6,1559.3" fill="#de442c"/>
<polygon points="824.6,1559.3 824.0,1559.0 815.5,1554.0 812.1,1544.9 804.0,1542.7 793.7,1558.1 796.9,1566.8 822.6,1565.5 824.9,1561.4" fill="#a31b1b"/>
<polygon points="403.1,1201.7 390.0,1207.0 388.6,1208.5 395.0,1211.0 401.3,1207.8 404.1,1202.7" fill="#dd442b"/>
<polygon points="378.0,1230.7 389.0,1230.3 401.3,1207.8 395.0,1211.0 388.6,1208.5 373.3,1225.3" fill="#eea93d"/>
<polygon points="532.7,1565.4 531.1,1559.7 525.5,1556.1 502.9,1564.0 507.8,1581.0 521.8,1583.0" fill="#e0452c"/>
<polygon points="497.3,1593.2 479.5,1583.9 469.6,1594.7 471.3,1604.4 477.6,1606.5 485.7,1607.2 489.0,1609.2 498.6,1600.0" fill="#e0452c"/>
<polygon points="472.0,1608.6 473.6,1612.0 473.0,1613.7 483.2,1614.8 489.0,1609.2 485.7,1607.2 477.6,1606.5 471.3,1604.4" fill="#a41b1b"/>
<polygon points="442.1,1630.9 448.9,1637.6 466.7,1636.4 469.5,1616.3 448.4,1613.7 442.1,1620.7" fill="#d7422a"/>
<polygon points="459.6,1502.2 462.3,1502.2 471.0,1501.0 471.8,1510.8 472.8,1515.1 484.0,1510.5 484.4,1495.9 480.4,1492.4 481.0,1497.0 473.0,1497.2 465.0,1496.0 461.6,1490.2 461.1,1490.3 465.0,1497.0 459.3,1499.6" fill="#d5412a"/>
<polygon points="460.9,1513.5 466.2,1517.8 472.8,1515.1 471.8,1510.8 471.0,1501.0 462.3,1502.2 459.6,1502.2" fill="#efa93d"/>
<polygon points="459.3,1499.6 465.0,1497.0 461.1,1490.3 458.3,1491.3" fill="#f1e17c"/>
<polygon points="473.3,1486.2 461.6,1490.2 465.0,1496.0 473.0,1497.2 481.0,1497.0 480.4,1492.4" fill="#a91c1c"/>
<polygon points="696.0,1139.3 708.2,1105.1 686.6,1093.5 672.9,1104.2 676.0,1104.0 681.8,1111.1 688.9,1116.7 697.0,1121.0 690.8,1128.8 687.0,1138.0 684.8,1137.8 685.2,1138.2" fill="#e9a53c"/>
<polygon points="668.2,1107.8 667.9,1119.3 684.8,1137.8 687.0,1138.0 690.8,1128.8 697.0,1121.0 688.9,1116.7 681.8,1111.1 676.0,1104.0 672.9,1104.2" fill="#efdf7b"/>
<polygon points="597.2,1656.5 600.6,1667.4 625.5,1656.4 623.2,1641.1 619.0,1644.0 618.2,1642.6 617.0,1643.0 609.5,1638.2 607.4,1633.2" fill="#d8422a"/>
<polygon points="607.4,1633.2 609.5,1638.2 617.0,1643.0 618.2,1642.6 619.0,1644.0 623.2,1641.1 622.7,1638.1 607.8,1632.2" fill="#e8a43c"/>
<polygon points="395.5,1053.1 388.8,1056.1 390.0,1056.0 390.0,1084.0 394.4,1086.7 415.0,1068.5" fill="#eea83d"/>
<polygon points="435.2,1430.6 441.8,1408.1 432.5,1396.8 409.6,1406.0 407.7,1413.8" fill="#f6ae3f"/>
<polygon points="509.6,1420.2 512.3,1422.3 539.1,1418.9 542.0,1413.6 540.1,1411.5 535.4,1413.9 525.0,1415.0 516.8,1410.5 507.8,1408.5" fill="#de442c"/>
<polygon points="507.8,1408.5 516.8,1410.5 525.0,1415.0 535.4,1413.9 540.1,1411.5 519.6,1388.1 505.8,1395.0" fill="#eaa63c"/>
<polygon points="525.3,1040.7 535.5,1042.5 537.0,1036.0 528.0,1033.2 527.6,1033.1" fill="#d14029"/>
<polygon points="527.6,1033.1 528.0,1033.2 537.0,1036.0 535.5,1042.5 549.5,1044.9 557.2,1031.3 556.0,1028.0 547.8,1026.1 540.0,1023.0 538.4,1015.1 532.5,1016.4" fill="#f5ad3f"/>
<polygon points="561.6,1023.6 551.8,1012.3 538.4,1015.1 540.0,1023.0 547.8,1026.1 556.0,1028.0 557.2,1031.3" fill="#fcec82"/>
<polygon points="616.2,1048.5 617.6,1043.1 588.6,1018.2 583.1,1022.2 584.0,1028.0 580.7,1029.4 580.7,1046.1 589.6,1046.4 600.0,1044.0 605.3,1050.7 605.6,1052.3" fill="#f1ab3e"/>
<polygon points="580.7,1024.0 580.7,1029.4 584.0,1028.0 583.1,1022.2" fill="#eedf7a"/>
<polygon points="582.5,1060.7 605.6,1052.3 605.3,1050.7 600.0,1044.0 589.6,1046.4 580.7,1046.1 580.7,1058.8" fill="#a41b1b"/>
<polygon points="489.8,1073.7 489.7,1074.3 488.5,1083.1 491.0,1092.0 494.8,1092.3 491.0,1086.0 499.0,1085.8 503.0,1086.7" fill="#df442c"/>
<polygon points="484.5,1103.8 506.3,1089.8 503.0,1086.7 499.0,1085.8 491.0,1086.0 494.8,1092.3 491.0,1092.0 488.5,1083.1 489.7,1074.3 489.8,1073.7 479.5,1063.7 476.4,1064.2 465.5,1093.3" fill="#f7af3f"/>
<polygon points="559.8,1550.5 561.8,1563.0 579.3,1571.2 582.8,1567.8 577.0,1566.0 576.3,1564.8 575.0,1565.0 569.0,1557.4 563.6,1549.5 563.3,1548.2" fill="#d14029"/>
<polygon points="572.1,1542.5 563.3,1548.2 563.6,1549.5 569.0,1557.4 575.0,1565.0 584.5,1563.6 576.3,1564.8 577.0,1566.0 582.8,1567.8 585.7,1565.0 583.6,1548.5" fill="#eaa63c"/>
<polygon points="672.7,957.6 672.8,957.3 658.0,954.0 662.5,964.0" fill="#eea93d"/>
<polygon points="757.2,1565.7 759.0,1571.0 749.7,1574.0 743.9,1578.5 743.8,1580.5 755.3,1591.1 774.4,1584.8 775.8,1581.5 764.8,1561.9" fill="#d5412a"/>
<polygon points="744.3,1572.4 743.9,1578.5 749.7,1574.0 759.0,1571.0 757.2,1565.7" fill="#f4ad3f"/>
<polygon points="690.5,1586.7 700.0,1563.1 678.1,1553.2 677.6,1553.5 672.9,1579.0 681.2,1587.5" fill="#d7422a"/>
<polygon points="531.1,1559.7 535.3,1556.7 527.6,1554.9 525.4,1555.8 525.5,1556.1" fill="#dd442b"/>
<polygon points="549.7,1546.3 543.3,1527.2 520.0,1537.4 525.1,1554.7 525.4,1555.8 527.6,1554.9 535.3,1556.7" fill="#a31b1b"/>
<polygon points="869.3,1255.4 900.3,1239.4 885.3,1207.6 880.1,1206.9 861.2,1226.9" fill="#f0aa3e"/>
<polygon points="529.1,981.1 516.4,974.2 513.0,975.5 516.0,979.0 512.0,988.0 520.3,996.3" fill="#f7af40"/>
<polygon points="507.9,969.5 513.0,975.5 516.4,974.2" fill="#f7f2c8"/>
<polygon points="483.6,1343.8 475.4,1352.5 482.2,1374.6 484.7,1375.9 502.4,1361.7 500.8,1361.6 491.7,1359.8 489.9,1359.2 491.8,1349.4 491.3,1345.0" fill="#d24129"/>
<polygon points="507.2,1347.5 491.3,1345.0 491.8,1349.4 489.9,1359.2 491.7,1359.8 500.8,1361.6 502.4,1361.7 511.5,1354.4" fill="#e9a53c"/>
<polygon points="628.8,1571.8 630.2,1565.7 609.8,1554.1 603.0,1562.8 603.0,1566.0 600.5,1566.0 600.2,1566.3 607.3,1583.6 608.3,1583.9" fill="#db432b"/>
<polygon points="600.5,1566.0 603.0,1566.0 603.0,1562.8" fill="#eda83d"/>
<polygon points="626.8,1421.5 628.0,1430.0 616.9,1429.0 606.0,1427.0 604.6,1424.7 599.5,1437.0 620.0,1443.7 634.0,1432.6 633.4,1424.4" fill="#d7422a"/>
<polygon points="609.2,1413.7 604.6,1424.7 606.0,1427.0 616.9,1429.0 628.0,1430.0 626.8,1421.5" fill="#a71b1b"/>
<polygon points="847.6,1357.4 845.6,1360.5 848.2,1377.2 862.0,1371.0 872.9,1362.0" fill="#da432b"/>
<polygon points="323.4,1350.0 316.7,1354.0 325.6,1353.6 329.3,1351.6" fill="#e0452c"/>
<polygon points="329.3,1351.6 325.6,1353.6 316.7,1354.0 315.1,1354.9 320.0,1369.0 325.7,1379.1 332.4,1352.4" fill="#eba63c"/>
<polygon points="429.1,1694.2 434.3,1686.4 425.6,1678.6 424.0,1695.0 424.2,1695.3" fill="#f1aa3e"/>
<polygon points="404.9,1537.3 404.8,1538.7 407.0,1539.0 408.6,1539.7 415.6,1542.9 413.0,1539.0 413.0,1537.8" fill="#d5412a"/>
<polygon points="429.3,1538.8 413.0,1537.8 413.0,1539.0 415.6,1542.9 426.3,1547.8" fill="#f4efc6"/>
</g>
<polyline points="529.1,1035.2 534.2,1040.0 539.8,1042.8 542.2,1050.2 547.8,1052.7 555.1,1058.2 559.2,1062.9 563.2,1066.4 567.8,1073.7 572.1,1077.9 578.6,1077.7 584.9,1081.9 589.3,1082.2 597.3,1086.0 602.8,1089.8 608.8,1092.2 613.6,1094.1 619.6,1096.2 626.9,1094.9 630.0,1097.0 638.8,1099.4 643.3,1100.6 648.7,1102.6 653.9,1105.0 660.5,1107.8 666.7,1109.5 666.8,1103.6 665.6,1094.4 665.8,1091.1 665.5,1083.4 664.3,1076.0 664.2,1071.1 661.7,1063.0 663.3,1060.2 660.0,1053.3 660.7,1044.7 664.6,1041.6 671.0,1033.7 674.4,1028.4 679.1,1024.1 684.0,1021.1 687.0,1014.0" fill="none" stroke="#5a5046" stroke-width="2.6" stroke-opacity="0.6" stroke-linejoin="miter"/>
<polyline points="666.0,1109.8 672.1,1105.7 680.0,1104.7 685.3,1105.3 693.6,1103.6 698.4,1105.3 705.6,1103.5 713.9,1099.3 718.6,1097.7 725.5,1095.8 731.5,1093.8 739.1,1091.3 743.5,1089.9 749.1,1086.3 757.6,1088.4 762.0,1087.8 767.4,1091.2 771.9,1092.6 780.0,1091.9 785.9,1094.7 791.9,1095.6 797.9,1098.3 801.4,1097.1 809.6,1101.7 813.6,1095.7 820.3,1091.0 825.0,1086.8 830.5,1083.7 835.8,1078.7 843.0,1073.3 848.2,1076.5 853.3,1075.3 861.1,1076.1 864.9,1077.4 872.7,1076.9 877.4,1078.4 884.9,1080.8 890.6,1081.8 895.0,1085.0" fill="none" stroke="#5a5046" stroke-width="2.6" stroke-opacity="0.6" stroke-linejoin="miter"/>
<polyline points="639.4,1140.5 643.2,1145.6 642.6,1150.2 645.4,1156.2 648.2,1164.3 647.7,1168.1 651.8,1175.2 653.5,1179.9 652.9,1185.5 657.1,1191.2 654.7,1197.7 654.3,1203.7 655.4,1208.8 651.4,1217.6 653.8,1223.8 651.5,1229.6 652.5,1233.0 650.1,1241.0 648.0,1245.6 644.9,1250.8 642.9,1255.6 642.4,1262.1 641.5,1267.0 640.0,1275.1 638.3,1281.6 635.0,1286.0" fill="none" stroke="#5a5046" stroke-width="2.6" stroke-opacity="0.6" stroke-linejoin="miter"/>
<polyline points="699.4,1114.3 702.1,1118.1 708.6,1119.8 716.2,1123.8 721.2,1128.6 727.8,1129.7 732.4,1134.8 739.0,1137.8 744.5,1138.9 745.8,1147.1 745.2,1153.1 748.7,1159.1 749.0,1162.2 749.0,1171.3 747.7,1175.2 749.2,1182.1 749.1,1188.4 749.7,1193.2 746.5,1200.2 746.1,1206.4 748.6,1215.8 744.8,1221.0 745.0,1226.8 744.5,1234.5 746.0,1240.2 745.3,1246.8 745.8,1254.3 748.6,1260.4 747.1,1266.4 748.8,1274.7 751.0,1280.6 757.5,1282.0 762.6,1281.7 769.3,1283.4 775.5,1283.9 782.1,1282.9 788.8,1285.0 793.6,1284.6 801.3,1286.8 809.6,1285.5 814.4,1290.7 817.1,1293.2 823.0,1297.0" fill="none" stroke="#5a5046" stroke-width="2.6" stroke-opacity="0.6" stroke-linejoin="miter"/>
<polyline points="806.6,1287.1 814.9,1288.1 821.7,1287.9 827.8,1288.2 831.9,1289.0 837.9,1288.0 847.0,1288.4 850.9,1289.2 860.0,1290.2 863.3,1293.2 869.4,1291.5 877.2,1289.7 884.0,1287.0 889.2,1283.2 894.9,1283.2 900.4,1279.9 906.3,1281.1 909.6,1277.1 917.0,1276.0" fill="none" stroke="#5a5046" stroke-width="2.6" stroke-opacity="0.6" stroke-linejoin="miter"/>
<polyline points="389.2,1214.2 393.4,1208.8 398.7,1207.4 405.8,1203.6 409.7,1200.6 414.9,1197.7 419.2,1195.0 427.7,1191.7 430.1,1196.0 433.2,1203.4 436.4,1207.8 438.9,1213.5 443.7,1217.0 444.0,1224.4 450.2,1228.8 451.8,1234.8 456.1,1227.9 461.4,1223.8 467.1,1217.3 473.7,1214.6 474.8,1219.9 477.7,1226.6 480.8,1230.7 482.0,1235.9 485.4,1243.4 486.8,1249.5 493.8,1253.0 499.5,1255.8 507.1,1256.4 513.5,1259.2 521.2,1260.2 524.3,1265.1 530.0,1268.3 533.8,1274.7 537.2,1276.4 540.7,1282.5 546.0,1286.0" fill="none" stroke="#5a5046" stroke-width="2.6" stroke-opacity="0.6" stroke-linejoin="miter"/>
<polyline points="447.6,1319.7 451.4,1322.3 452.1,1327.5 455.2,1334.3 460.7,1340.2 461.6,1345.3 464.9,1348.9 469.5,1352.9 470.3,1360.8 474.2,1364.3 478.3,1370.6 472.3,1374.7 470.0,1380.4 465.3,1386.1 464.1,1390.6 458.8,1394.9 453.9,1402.1 449.5,1408.1 448.5,1410.5 442.6,1408.5 436.0,1406.9 428.3,1403.6 423.6,1401.1 416.2,1397.9 412.7,1394.6 405.1,1389.6 399.1,1389.2 394.0,1389.2 387.6,1386.2 382.0,1386.6 374.4,1386.3 370.2,1382.3 365.3,1381.2 357.3,1382.0 352.0,1380.0" fill="none" stroke="#5a5046" stroke-width="2.6" stroke-opacity="0.6" stroke-linejoin="miter"/>
<polyline points="593.4,1307.2 593.5,1313.6 592.3,1319.3 591.4,1327.9 593.9,1334.0 593.9,1340.1 592.2,1346.9 594.3,1352.4 590.9,1358.9 589.8,1365.1 586.1,1371.1 584.7,1378.2 582.0,1384.2 579.0,1388.0 576.9,1393.2 577.2,1401.2 573.0,1405.1 571.7,1412.9 575.3,1419.1 576.7,1423.1 578.2,1429.5 580.9,1437.0 581.9,1442.1 584.0,1447.3 584.1,1456.4 584.6,1460.6 583.2,1467.3 583.5,1474.7 583.7,1478.3 584.3,1484.9 584.8,1491.8 584.1,1498.0 587.9,1503.0 588.8,1508.9 589.0,1515.1 589.9,1521.0 593.0,1527.0" fill="none" stroke="#5a5046" stroke-width="2.6" stroke-opacity="0.6" stroke-linejoin="miter"/>
<polyline points="583.5,1442.8 589.2,1443.2 596.3,1438.7 601.8,1438.9 605.1,1436.5 611.7,1434.0 618.7,1435.5 623.9,1433.8 631.1,1429.7 637.6,1429.9 643.8,1428.8 649.1,1425.9 655.2,1426.6 661.4,1423.3 666.9,1421.9 670.5,1418.0 676.3,1416.3 682.4,1415.0 690.3,1412.8 695.2,1410.9 700.6,1407.9 708.1,1405.3 712.0,1404.8 719.8,1400.5 723.7,1397.6 729.7,1393.0 732.7,1389.5 740.7,1385.7 744.7,1382.4 749.0,1378.8 750.9,1372.3 750.8,1365.6 752.6,1360.5 753.4,1352.3 756.1,1347.2 758.2,1339.4 758.4,1334.1 758.3,1329.7 757.6,1320.5 757.1,1314.8 756.2,1309.4 752.9,1302.4 753.7,1297.2 752.5,1291.9 750.0,1286.0" fill="none" stroke="#5a5046" stroke-width="2.6" stroke-opacity="0.6" stroke-linejoin="miter"/>
<polyline points="594.6,1526.3 592.7,1532.7 595.4,1540.5 594.3,1545.0 596.2,1554.7 596.5,1557.7 595.1,1564.5 596.2,1570.8 596.4,1579.6 598.7,1584.6 598.3,1592.3 597.0,1600.6 596.7,1604.2 593.7,1613.0 595.3,1617.8 592.3,1627.3 592.2,1632.2 593.7,1639.9 596.4,1644.7 596.4,1653.3 597.3,1659.3 598.3,1665.3 597.1,1671.4 599.0,1678.9 598.5,1683.7 601.5,1691.1 602.9,1696.2 603.5,1701.3 605.6,1706.7 606.1,1715.2 608.3,1718.7 609.0,1726.0" fill="none" stroke="#5a5046" stroke-width="2.6" stroke-opacity="0.6" stroke-linejoin="miter"/>
<polyline points="487.1,1486.2 494.9,1488.6 502.1,1489.2 508.6,1492.4 513.0,1493.3 518.5,1495.6 527.9,1493.5 532.8,1492.4 537.4,1493.2 544.3,1490.0 550.2,1491.0 558.1,1487.6 563.1,1490.0 569.4,1487.4 576.4,1487.1 583.0,1485.0" fill="none" stroke="#5a5046" stroke-width="2.6" stroke-opacity="0.6" stroke-linejoin="miter"/>
<polyline points="488.4,1486.0 485.3,1489.6 481.2,1494.9 480.7,1500.8 475.0,1509.6 472.8,1515.1 469.6,1519.2 467.3,1526.3 465.9,1531.3 463.6,1537.9 459.3,1542.6 457.0,1548.0" fill="none" stroke="#5a5046" stroke-width="2.6" stroke-opacity="0.6" stroke-linejoin="miter"/>
</svg></div>
<div style="position:absolute;left:0;top:0;width:1212px;height:1737px;overflow:hidden">
<div class="t" style="left:875.83px;top:932.18px;font-size:33.48px;font-weight:normal;color:#8d8d8d;letter-spacing:4.48px;text-shadow:0 0 2px #262626,0 0 3px #262626;">Ostsee</div>
<div class="t" style="left:517.98px;top:1048.19px;font-size:34.06px;font-weight:normal;color:#e9e9e9;transform:scaleX(1.0724);text-shadow:1.5px 0 0 rgba(30,26,22,.8),-1.5px 0 0 rgba(30,26,22,.8),0 1.5px 0 rgba(30,26,22,.8),0 -1.5px 0 rgba(30,26,22,.8),1px 1px 1px rgba(30,26,22,.8),-1px -1px 1px rgba(30,26,22,.8),1px -1px 1px rgba(30,26,22,.8),-1px 1px 1px rgba(30,26,22,.8),0 0 3px rgba(30,26,22,.9);">Hamburg</div>
<div class="t" style="left:157.62px;top:1131.16px;font-size:31.01px;font-weight:normal;color:#8d8d8d;letter-spacing:6.59px;text-shadow:0 0 2px #262626,0 0 3px #262626;">NIEDERLANDE</div>
<div class="t" style="left:161.90px;top:1182.48px;font-size:32.17px;font-weight:normal;color:#e9e9e9;transform:scaleX(1.0198);text-shadow:1.5px 0 0 rgba(30,26,22,.8),-1.5px 0 0 rgba(30,26,22,.8),0 1.5px 0 rgba(30,26,22,.8),0 -1.5px 0 rgba(30,26,22,.8),1px 1px 1px rgba(30,26,22,.8),-1px -1px 1px rgba(30,26,22,.8),1px -1px 1px rgba(30,26,22,.8),-1px 1px 1px rgba(30,26,22,.8),0 0 3px rgba(30,26,22,.9);">Amsterdam</div>
<div class="t" style="left:775.55px;top:1166.15px;font-size:33.62px;font-weight:normal;color:#e9e9e9;transform:scaleX(1.1329);text-shadow:1.5px 0 0 rgba(30,26,22,.8),-1.5px 0 0 rgba(30,26,22,.8),0 1.5px 0 rgba(30,26,22,.8),0 -1.5px 0 rgba(30,26,22,.8),1px 1px 1px rgba(30,26,22,.8),-1px -1px 1px rgba(30,26,22,.8),1px -1px 1px rgba(30,26,22,.8),-1px 1px 1px rgba(30,26,22,.8),0 0 3px rgba(30,26,22,.9);">Berlin</div>
<div class="t" style="left:1157.95px;top:1155.23px;font-size:30.58px;font-weight:normal;color:#8d8d8d;letter-spacing:8.23px;text-shadow:0 0 2px #262626,0 0 3px #262626;">PO</div>
<div class="t" style="left:448.26px;top:1280.55px;font-size:31.74px;font-weight:normal;color:#8a9096;letter-spacing:6.03px;text-shadow:0 0 2px #3a2e20,0 0 2px #3a2e20,0 0 3px #3a2e20,0 0 3px #3a2e20;">DEUTSCHLAND</div>
<div class="t" style="left:152.21px;top:1351.97px;font-size:29.71px;font-weight:normal;color:#e9e9e9;transform:scaleX(1.1322);text-shadow:1.5px 0 0 rgba(30,26,22,.8),-1.5px 0 0 rgba(30,26,22,.8),0 1.5px 0 rgba(30,26,22,.8),0 -1.5px 0 rgba(30,26,22,.8),1px 1px 1px rgba(30,26,22,.8),-1px -1px 1px rgba(30,26,22,.8),1px -1px 1px rgba(30,26,22,.8),-1px 1px 1px rgba(30,26,22,.8),0 0 3px rgba(30,26,22,.9);">Brüssel</div>
<div class="t" style="left:172.36px;top:1393.83px;font-size:29.28px;font-weight:normal;color:#8d8d8d;letter-spacing:4.45px;text-shadow:0 0 2px #262626,0 0 3px #262626;">BELGIEN</div>
<div class="t" style="left:351.56px;top:1341.21px;font-size:30.72px;font-weight:normal;color:#e9e9e9;transform:scaleX(1.1164);text-shadow:1.5px 0 0 rgba(30,26,22,.8),-1.5px 0 0 rgba(30,26,22,.8),0 1.5px 0 rgba(30,26,22,.8),0 -1.5px 0 rgba(30,26,22,.8),1px 1px 1px rgba(30,26,22,.8),-1px -1px 1px rgba(30,26,22,.8),1px -1px 1px rgba(30,26,22,.8),-1px 1px 1px rgba(30,26,22,.8),0 0 3px rgba(30,26,22,.9);">Köln</div>
<div class="t" style="left:431.32px;top:1412.01px;font-size:30.72px;font-weight:normal;color:#e9e9e9;transform:scaleX(1.0913);text-shadow:1.5px 0 0 rgba(30,26,22,.8),-1.5px 0 0 rgba(30,26,22,.8),0 1.5px 0 rgba(30,26,22,.8),0 -1.5px 0 rgba(30,26,22,.8),1px 1px 1px rgba(30,26,22,.8),-1px -1px 1px rgba(30,26,22,.8),1px -1px 1px rgba(30,26,22,.8),-1px 1px 1px rgba(30,26,22,.8),0 0 3px rgba(30,26,22,.9);">Frankfurt</div>
<div class="t" style="left:439.77px;top:1449.21px;font-size:30.72px;font-weight:normal;color:#e9e9e9;transform:scaleX(1.0820);text-shadow:1.5px 0 0 rgba(30,26,22,.8),-1.5px 0 0 rgba(30,26,22,.8),0 1.5px 0 rgba(30,26,22,.8),0 -1.5px 0 rgba(30,26,22,.8),1px 1px 1px rgba(30,26,22,.8),-1px -1px 1px rgba(30,26,22,.8),1px -1px 1px rgba(30,26,22,.8),-1px 1px 1px rgba(30,26,22,.8),0 0 3px rgba(30,26,22,.9);">am Main</div>
<div class="t" style="left:246.45px;top:1484.13px;font-size:29.28px;font-weight:normal;color:#e9e9e9;transform:scaleX(1.1302);text-shadow:1.5px 0 0 rgba(30,26,22,.8),-1.5px 0 0 rgba(30,26,22,.8),0 1.5px 0 rgba(30,26,22,.8),0 -1.5px 0 rgba(30,26,22,.8),1px 1px 1px rgba(30,26,22,.8),-1px -1px 1px rgba(30,26,22,.8),1px -1px 1px rgba(30,26,22,.8),-1px 1px 1px rgba(30,26,22,.8),0 0 3px rgba(30,26,22,.9);">Luxemburg</div>
<div class="t" style="left:857.00px;top:1431.86px;font-size:34.20px;font-weight:normal;color:#e9e9e9;transform:scaleX(1.0968);text-shadow:1.5px 0 0 rgba(30,26,22,.8),-1.5px 0 0 rgba(30,26,22,.8),0 1.5px 0 rgba(30,26,22,.8),0 -1.5px 0 rgba(30,26,22,.8),1px 1px 1px rgba(30,26,22,.8),-1px -1px 1px rgba(30,26,22,.8),1px -1px 1px rgba(30,26,22,.8),-1px 1px 1px rgba(30,26,22,.8),0 0 3px rgba(30,26,22,.9);">Prag</div>
<div class="t" style="left:1141.53px;top:1414.63px;font-size:30.58px;font-weight:normal;color:#e9e9e9;transform:scaleX(1.0923);text-shadow:1.5px 0 0 rgba(30,26,22,.8),-1.5px 0 0 rgba(30,26,22,.8),0 1.5px 0 rgba(30,26,22,.8),0 -1.5px 0 rgba(30,26,22,.8),1px 1px 1px rgba(30,26,22,.8),-1px -1px 1px rgba(30,26,22,.8),1px -1px 1px rgba(30,26,22,.8),-1px 1px 1px rgba(30,26,22,.8),0 0 3px rgba(30,26,22,.9);">Kato</div>
<div class="t" style="left:853.98px;top:1483.16px;font-size:31.01px;font-weight:normal;color:#8d8d8d;letter-spacing:6.60px;text-shadow:0 0 2px #262626,0 0 3px #262626;">TSCHECHIEN</div>
<div class="t" style="left:596.71px;top:1499.59px;font-size:31.45px;font-weight:normal;color:#e9e9e9;transform:scaleX(1.0707);text-shadow:1.5px 0 0 rgba(30,26,22,.8),-1.5px 0 0 rgba(30,26,22,.8),0 1.5px 0 rgba(30,26,22,.8),0 -1.5px 0 rgba(30,26,22,.8),1px 1px 1px rgba(30,26,22,.8),-1px -1px 1px rgba(30,26,22,.8),1px -1px 1px rgba(30,26,22,.8),-1px 1px 1px rgba(30,26,22,.8),0 0 3px rgba(30,26,22,.9);">Nürnberg</div>
<div class="t" style="left:30.01px;top:1559.56px;font-size:35.51px;font-weight:normal;color:#e9e9e9;transform:scaleX(1.0157);text-shadow:1.5px 0 0 rgba(30,26,22,.8),-1.5px 0 0 rgba(30,26,22,.8),0 1.5px 0 rgba(30,26,22,.8),0 -1.5px 0 rgba(30,26,22,.8),1px 1px 1px rgba(30,26,22,.8),-1px -1px 1px rgba(30,26,22,.8),1px -1px 1px rgba(30,26,22,.8),-1px 1px 1px rgba(30,26,22,.8),0 0 3px rgba(30,26,22,.9);">Paris</div>
<div class="t" style="left:1087.74px;top:1559.86px;font-size:29.13px;font-weight:normal;color:#8d8d8d;letter-spacing:7.57px;text-shadow:0 0 2px #262626,0 0 3px #262626;">SLOWA</div>
<div class="t" style="left:1141.52px;top:1595.57px;font-size:29.71px;font-weight:normal;color:#8d8d8d;letter-spacing:6.38px;text-shadow:0 0 2px #262626,0 0 3px #262626;">REP</div>
<div class="t" style="left:474.54px;top:1570.71px;font-size:30.72px;font-weight:normal;color:#e9e9e9;transform:scaleX(1.0832);text-shadow:1.5px 0 0 rgba(30,26,22,.8),-1.5px 0 0 rgba(30,26,22,.8),0 1.5px 0 rgba(30,26,22,.8),0 -1.5px 0 rgba(30,26,22,.8),1px 1px 1px rgba(30,26,22,.8),-1px -1px 1px rgba(30,26,22,.8),1px -1px 1px rgba(30,26,22,.8),-1px 1px 1px rgba(30,26,22,.8),0 0 3px rgba(30,26,22,.9);">Stuttgart</div>
<div class="t" style="left:989.50px;top:1627.70px;font-size:34.64px;font-weight:normal;color:#e9e9e9;transform:scaleX(1.0105);text-shadow:1.5px 0 0 rgba(30,26,22,.8),-1.5px 0 0 rgba(30,26,22,.8),0 1.5px 0 rgba(30,26,22,.8),0 -1.5px 0 rgba(30,26,22,.8),1px 1px 1px rgba(30,26,22,.8),-1px -1px 1px rgba(30,26,22,.8),1px -1px 1px rgba(30,26,22,.8),-1px 1px 1px rgba(30,26,22,.8),0 0 3px rgba(30,26,22,.9);">Wien</div>
<div class="t" style="left:627.01px;top:1635.59px;font-size:32.75px;font-weight:normal;color:#e9e9e9;transform:scaleX(1.1028);text-shadow:1.5px 0 0 rgba(30,26,22,.8),-1.5px 0 0 rgba(30,26,22,.8),0 1.5px 0 rgba(30,26,22,.8),0 -1.5px 0 rgba(30,26,22,.8),1px 1px 1px rgba(30,26,22,.8),-1px -1px 1px rgba(30,26,22,.8),1px -1px 1px rgba(30,26,22,.8),-1px 1px 1px rgba(30,26,22,.8),0 0 3px rgba(30,26,22,.9);">München</div>
<div class="t" style="left:449.01px;top:1712.03px;font-size:31.88px;font-weight:normal;color:#e9e9e9;transform:scaleX(1.0377);text-shadow:1.5px 0 0 rgba(30,26,22,.8),-1.5px 0 0 rgba(30,26,22,.8),0 1.5px 0 rgba(30,26,22,.8),0 -1.5px 0 rgba(30,26,22,.8),1px 1px 1px rgba(30,26,22,.8),-1px -1px 1px rgba(30,26,22,.8),1px -1px 1px rgba(30,26,22,.8),-1px 1px 1px rgba(30,26,22,.8),0 0 3px rgba(30,26,22,.9);">Zürich</div>
<div class="t" style="left:748.48px;top:1722.25px;font-size:30.43px;font-weight:normal;color:#8d8d8d;letter-spacing:7.14px;text-shadow:0 0 2px #262626,0 0 3px #262626;">ÖSTERREICH</div>
<div style="position:absolute;left:969px;top:947px;width:216px;height:103px;background:#333;box-sizing:border-box;border:2px solid #3c3c3c"></div>
<div style="position:absolute;left:1074px;top:948px;width:111px;height:102px;background:#262626"></div>
<div style="position:absolute;left:1080px;top:956px;width:97px;height:86px;background:#343434"></div>
<svg style="position:absolute;left:990px;top:965px" width="60" height="60" viewBox="990 965 60 60"><circle cx="1015.6" cy="990.3" r="15.7" fill="none" stroke="#dcdcdc" stroke-width="2.8"/><path d="M1026.8 1001.5L1044 1018.8" stroke="#dcdcdc" stroke-width="2.8"/></svg>
<svg style="position:absolute;left:1100px;top:988px" width="56" height="20" viewBox="1100 988 56 20"><circle cx="1109.6" cy="997.7" r="3.3" fill="#bdbdbd"/><circle cx="1127.7" cy="997.7" r="3.3" fill="#bdbdbd"/><circle cx="1145.8" cy="997.7" r="3.3" fill="#bdbdbd"/></svg>
<div style="position:absolute;left:651px;top:1676px;width:528px;height:45px;background:rgba(222,222,222,0.86)"></div>
<div class="t" style="left:663.44px;top:1678.40px;font-size:39.13px;font-weight:normal;color:#303030;letter-spacing:-0.85px;">GDI-TH, Esri, HERE, Garmi...</div>
<div class="t" style="left:1136.27px;top:1698.10px;font-size:34.64px;font-weight:normal;color:#e9e9e9;transform:scaleX(0.9836);text-shadow:1.5px 0 0 rgba(30,26,22,.8),-1.5px 0 0 rgba(30,26,22,.8),0 1.5px 0 rgba(30,26,22,.8),0 -1.5px 0 rgba(30,26,22,.8),1px 1px 1px rgba(30,26,22,.8),-1px -1px 1px rgba(30,26,22,.8),1px -1px 1px rgba(30,26,22,.8),-1px 1px 1px rgba(30,26,22,.8),0 0 3px rgba(30,26,22,.9);">Buda</div>
</div>
<div style="position:absolute;left:30px;top:932px;width:3px;height:420px;background:linear-gradient(#3a3a3a,#3a3a3a 70%,rgba(58,58,58,0))"></div>
<div style="position:absolute;left:33px;top:932px;width:16px;height:380px;background:linear-gradient(90deg,#222,rgba(34,34,34,0))"></div>
<div style="position:absolute;left:33px;top:932px;width:260px;height:12px;background:linear-gradient(#222,rgba(34,34,34,0))"></div>
<div class="card" style="left:62px;top:1735px;width:1119px;height:93px;background:#232323"></div>
<svg style="position:absolute;left:90px;top:1754px" width="32" height="50" viewBox="0 0 32 50"><path d="M24.5 7.5V42.5L7 25Z" fill="none" stroke="#fff" stroke-width="3.2"/></svg>
<svg style="position:absolute;left:1120px;top:1754px" width="32" height="50" viewBox="0 0 32 50"><path d="M7.5 7.5V42.5L25 25Z" fill="none" stroke="#fff" stroke-width="3.2"/></svg>

<div class="exp" style="left:1182px;top:226px"><svg width="54" height="54" viewBox="0 0 54 54"><circle cx="27" cy="27" r="25.6" fill="#333" stroke="#a8a8a8" stroke-width="2.8"/>
<g stroke="#d2d2d2" stroke-width="2.4" fill="none" stroke-linecap="butt" stroke-linejoin="miter">
<path d="M14 23.2V13.3H23.8"/><path d="M14 13.3L23.6 22.9"/>
<path d="M31.9 13.3H41.7V23.2"/><path d="M41.7 13.3L32.1 22.9"/>
<path d="M14 30.9V40.7H23.8"/><path d="M14 40.7L23.6 31.1"/>
<path d="M31.9 40.7H41.7V30.9"/><path d="M41.7 40.7L32.1 31.1"/>
</g></svg></div>
<div class="exp" style="left:1182px;top:581px"><svg width="54" height="54" viewBox="0 0 54 54"><circle cx="27" cy="27" r="25.6" fill="#333" stroke="#a8a8a8" stroke-width="2.8"/>
<g stroke="#d2d2d2" stroke-width="2.4" fill="none" stroke-linecap="butt" stroke-linejoin="miter">
<path d="M14 23.2V13.3H23.8"/><path d="M14 13.3L23.6 22.9"/>
<path d="M31.9 13.3H41.7V23.2"/><path d="M41.7 13.3L32.1 22.9"/>
<path d="M14 30.9V40.7H23.8"/><path d="M14 40.7L23.6 31.1"/>
<path d="M31.9 40.7H41.7V30.9"/><path d="M41.7 40.7L32.1 31.1"/>
</g></svg></div>
<div class="exp" style="left:1182px;top:745px"><svg width="54" height="54" viewBox="0 0 54 54"><circle cx="27" cy="27" r="25.6" fill="#333" stroke="#a8a8a8" stroke-width="2.8"/>
<g stroke="#d2d2d2" stroke-width="2.4" fill="none" stroke-linecap="butt" stroke-linejoin="miter">
<path d="M14 23.2V13.3H23.8"/><path d="M14 13.3L23.6 22.9"/>
<path d="M31.9 13.3H41.7V23.2"/><path d="M41.7 13.3L32.1 22.9"/>
<path d="M14 30.9V40.7H23.8"/><path d="M14 40.7L23.6 31.1"/>
<path d="M31.9 40.7H41.7V30.9"/><path d="M41.7 40.7L32.1 31.1"/>
</g></svg></div>
<div class="t" style="left:74.27px;top:51.73px;font-size:59.42px;font-weight:normal;color:#ffffff;transform:scaleX(0.9325);">RKI COVID-19</div>
<div class="t" style="left:75.23px;top:129.50px;font-size:45.51px;font-weight:normal;color:#ffffff;transform:scaleX(0.9521);">Dashboard</div>
<div class="t" style="left:513.80px;top:93.58px;font-size:41.16px;font-weight:normal;color:#c6c6c6;transform:scaleX(0.9784);">Alle Bundesländer</div>
<div class="t" style="left:175.19px;top:246.73px;font-size:20.29px;font-weight:normal;color:#ffffff;transform:scaleX(0.9976);">7-Tage-Inzidenz</div>
<div class="t" style="left:199.39px;top:273.86px;font-size:47.68px;font-weight:bold;color:#e6e6e6;transform:scaleX(0.9993);">64,3</div>
<div class="t" style="left:584.39px;top:246.88px;font-size:20.00px;font-weight:normal;color:#ffffff;transform:scaleX(1.0121);">COVID-19-Fälle</div>
<div class="t" style="left:566.91px;top:274.15px;font-size:47.10px;font-weight:bold;color:#4cbdf2;transform:scaleX(1.0537);">+10.118</div>
<div class="t" style="left:935.28px;top:246.49px;font-size:20.58px;font-weight:normal;color:#ffffff;transform:scaleX(0.9916);">COVID-19-Todesfälle</div>
<div class="t" style="left:988.54px;top:274.18px;font-size:47.54px;font-weight:bold;color:#4cbdf2;transform:scaleX(1.0285);">+73</div>
<div class="t" style="left:192.41px;top:326.88px;font-size:16.81px;font-weight:normal;color:#ffffff;transform:scaleX(0.9409);">7-Tage-Fallzahl</div>
<div class="t" style="left:186.24px;top:352.13px;font-size:38.26px;font-weight:bold;color:#4cbdf2;transform:scaleX(1.0079);">53.437</div>
<div class="t" style="left:205.00px;top:392.78px;font-size:16.81px;font-weight:normal;color:#4cbdf2;transform:scaleX(0.9906);">von 53.437</div>
<div class="t" style="left:626.78px;top:327.41px;font-size:15.94px;font-weight:normal;color:#ffffff;transform:scaleX(1.0284);">Gesamt</div>
<div class="t" style="left:569.31px;top:352.30px;font-size:37.83px;font-weight:bold;color:#4cbdf2;transform:scaleX(1.0202);">4.237.619</div>
<div class="t" style="left:603.20px;top:393.05px;font-size:16.38px;font-weight:normal;color:#4cbdf2;transform:scaleX(1.0183);">von 4.237.619</div>
<div class="t" style="left:1001.98px;top:327.51px;font-size:15.94px;font-weight:normal;color:#ffffff;transform:scaleX(1.0303);">Gesamt</div>
<div class="t" style="left:970.15px;top:352.13px;font-size:38.26px;font-weight:bold;color:#4cbdf2;transform:scaleX(0.9985);">93.711</div>
<div class="t" style="left:989.70px;top:392.78px;font-size:16.81px;font-weight:normal;color:#4cbdf2;transform:scaleX(0.9951);">von 93.711</div>
<div class="t" style="left:218.10px;top:418.69px;font-size:21.88px;font-weight:normal;color:#ffffff;transform:scaleX(0.9774);">Aktive COVID-19-Fälle</div>
<div class="t" style="left:246.21px;top:445.43px;font-size:50.43px;font-weight:bold;color:#4cbdf2;transform:scaleX(1.0339);">~ +100</div>
<div class="t" style="left:811.53px;top:419.30px;font-size:21.16px;font-weight:normal;color:#ffffff;transform:scaleX(1.0111);">COVID-19-Genesene</div>
<div class="t" style="left:798.62px;top:445.63px;font-size:50.43px;font-weight:bold;color:#4cbdf2;transform:scaleX(1.0286);">~ +10.000</div>
<div class="t" style="left:306.14px;top:501.93px;font-size:10.72px;font-weight:normal;color:#ffffff;transform:scaleX(1.0463);">Gesamt</div>
<div class="t" style="left:268.27px;top:519.61px;font-size:26.23px;font-weight:bold;color:#4cbdf2;transform:scaleX(1.0752);">~133.800</div>
<div class="t" style="left:290.20px;top:550.32px;font-size:10.14px;font-weight:normal;color:#4cbdf2;transform:scaleX(1.1372);">von ~133.800</div>
<div class="t" style="left:894.24px;top:501.80px;font-size:10.87px;font-weight:normal;color:#ffffff;transform:scaleX(1.0297);">Gesamt</div>
<div class="t" style="left:844.08px;top:520.17px;font-size:25.22px;font-weight:bold;color:#4cbdf2;transform:scaleX(1.1144);">~4.010.100</div>
<div class="t" style="left:873.50px;top:549.67px;font-size:10.43px;font-weight:normal;color:#4cbdf2;transform:scaleX(1.1030);">von ~4.010.100</div>
<div class="t" style="left:330.88px;top:620.92px;font-size:42.17px;font-weight:bold;color:#ffffff;transform:scaleX(0.9632);">Aktueller Lagebericht des RKI</div>
<div class="t" style="left:263.09px;top:672.84px;font-size:42.03px;font-weight:bold;color:#ffffff;transform:scaleX(0.9716);">Verlauf der 7-Tage-Inzidenz pro Kreis</div>
<div class="t" style="left:135.74px;top:789.90px;font-size:50.00px;font-weight:bold;color:#ffffff;transform:scaleX(0.9808);">COVID-19-Fälle der letzten 7 Tage/100.000</div>
<div class="t" style="left:501.01px;top:859.26px;font-size:48.99px;font-weight:bold;color:#ffffff;transform:scaleX(0.9582);">Einwohner</div>
<div class="t" style="left:201.53px;top:1760.73px;font-size:36.96px;font-weight:normal;color:#ffffff;transform:scaleX(1.0061);">Landkreis Aktivität über 7 Tage/100.000 Einwohner</div>
</body></html>
